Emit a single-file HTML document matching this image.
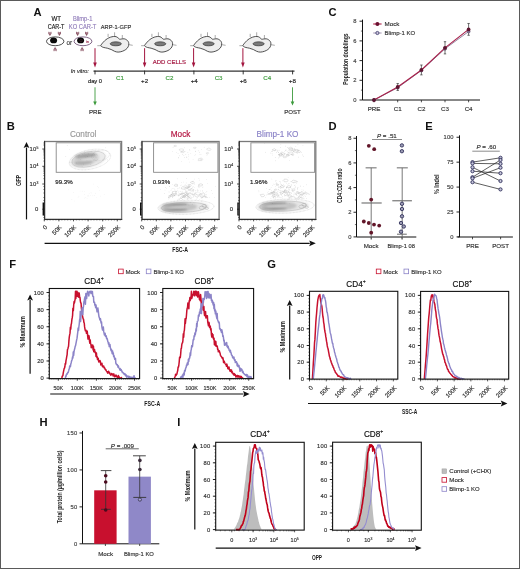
<!DOCTYPE html>
<html><head><meta charset="utf-8"><style>
html,body{margin:0;padding:0;background:#fff;}
body{width:520px;height:569px;overflow:hidden;}
svg{display:block;font-family:"Liberation Sans", sans-serif;will-change:transform;}
</style></head><body>
<svg width="520" height="569" viewBox="0 0 520 569">
<defs><filter id="b1" x="-50%" y="-50%" width="200%" height="200%"><feGaussianBlur stdDeviation="1"/></filter></defs>
<rect x="0" y="0" width="520" height="569" fill="#fff"/>
<text x="33.60" y="15.90" font-size="11.2" fill="#111"  text-anchor="start" font-weight="bold" font-style="normal" >A</text>
<text x="6.80" y="130.40" font-size="11.2" fill="#111"  text-anchor="start" font-weight="bold" font-style="normal" >B</text>
<text x="328.60" y="15.90" font-size="11.2" fill="#111"  text-anchor="start" font-weight="bold" font-style="normal" >C</text>
<text x="328.60" y="130.40" font-size="11.2" fill="#111"  text-anchor="start" font-weight="bold" font-style="normal" >D</text>
<text x="425.20" y="130.40" font-size="11.2" fill="#111"  text-anchor="start" font-weight="bold" font-style="normal" >E</text>
<text x="9.30" y="268.00" font-size="11.2" fill="#111"  text-anchor="start" font-weight="bold" font-style="normal" >F</text>
<text x="267.30" y="268.00" font-size="11.2" fill="#111"  text-anchor="start" font-weight="bold" font-style="normal" >G</text>
<text x="39.60" y="425.90" font-size="11.2" fill="#111"  text-anchor="start" font-weight="bold" font-style="normal" >H</text>
<text x="177.30" y="425.70" font-size="11.2" fill="#111"  text-anchor="start" font-weight="bold" font-style="normal" >I</text>
<text x="56.30" y="21.40" font-size="6.6" fill="#222" stroke="#222" stroke-width="0.16" text-anchor="middle" font-weight="normal" font-style="normal" textLength="9.6" lengthAdjust="spacingAndGlyphs" stroke-width="0.05" stroke="#222">WT</text>
<text x="56.10" y="28.90" font-size="6.6" fill="#222" stroke="#222" stroke-width="0.16" text-anchor="middle" font-weight="normal" font-style="normal" textLength="16.7" lengthAdjust="spacingAndGlyphs" stroke-width="0.05" stroke="#222">CAR-T</text>
<text x="82.70" y="21.40" font-size="6.6" fill="#9480bc" stroke="#9480bc" stroke-width="0.16" text-anchor="middle" font-weight="normal" font-style="normal" textLength="19.4" lengthAdjust="spacingAndGlyphs" stroke-width="0.05" stroke="#9480bc">Blimp-1</text>
<text x="82.60" y="28.90" font-size="6.6" fill="#9480bc" stroke="#9480bc" stroke-width="0.16" text-anchor="middle" font-weight="normal" font-style="normal" textLength="27.6" lengthAdjust="spacingAndGlyphs" stroke-width="0.05" stroke="#9480bc">KO CAR-T</text>
<ellipse cx="55.2" cy="41.3" rx="8.7" ry="4.4" fill="#fff" stroke="#333" stroke-width="0.85"/>
<ellipse cx="53.6" cy="40.4" rx="3.5" ry="2.9" fill="#0a0a0a"/>
<path d="M48.80,31.80 L48.80,34.10 Q49.90,34.80 51.00,34.10 L51.00,31.80 M49.90,32.20 L49.90,35.80" stroke="#7a3a4c" stroke-width="0.75" fill="none"/>
<path d="M58.30,31.80 L58.30,34.10 Q59.40,34.80 60.50,34.10 L60.50,31.80 M59.40,32.20 L59.40,35.80" stroke="#7a3a4c" stroke-width="0.75" fill="none"/>
<path d="M54.00,51.20 L54.00,48.90 Q55.10,48.20 56.20,48.90 L56.20,51.20 M55.10,50.80 L55.10,47.20" stroke="#7a3a4c" stroke-width="0.75" fill="none"/>
<text x="69.30" y="44.50" font-size="6.4" fill="#444" stroke="#444" stroke-width="0.16" text-anchor="middle" font-weight="normal" font-style="normal" stroke-width="0.05" stroke="#444">or</text>
<ellipse cx="83.0" cy="41.3" rx="8.9" ry="4.4" fill="#fff" stroke="#6a4a70" stroke-width="0.85"/>
<ellipse cx="80.6" cy="40.4" rx="3.5" ry="2.9" fill="#0a0a0a"/>
<circle cx="81.0" cy="40.6" r="1.2" fill="none" stroke="#6a3040" stroke-width="0.4"/>
<text stroke="#a03050" stroke-width="0.16" x="87.6" y="43.2" font-size="3.6" fill="#a03050" text-anchor="middle">in</text>
<path d="M76.50,31.80 L76.50,34.10 Q77.60,34.80 78.70,34.10 L78.70,31.80 M77.60,32.20 L77.60,35.80" stroke="#7a3a4c" stroke-width="0.75" fill="none"/>
<path d="M85.50,31.80 L85.50,34.10 Q86.60,34.80 87.70,34.10 L87.70,31.80 M86.60,32.20 L86.60,35.80" stroke="#7a3a4c" stroke-width="0.75" fill="none"/>
<path d="M81.00,51.20 L81.00,48.90 Q82.10,48.20 83.20,48.90 L83.20,51.20 M82.10,50.80 L82.10,47.20" stroke="#7a3a4c" stroke-width="0.75" fill="none"/>
<text x="116.00" y="29.20" font-size="6.1" fill="#333" stroke="#333" stroke-width="0.16" text-anchor="middle" font-weight="normal" font-style="normal" textLength="30.4" lengthAdjust="spacingAndGlyphs">ARP-1-GFP</text>
<path d="M101.15,44.85 C101.47,44.36 102.12,43.52 102.70,42.85 C103.28,42.18 103.83,41.49 104.60,40.80 C105.37,40.11 106.33,39.30 107.30,38.70 C108.27,38.10 109.37,37.57 110.40,37.20 C111.43,36.83 112.53,36.58 113.50,36.50 C114.47,36.42 115.43,36.47 116.20,36.70 C116.97,36.93 117.53,37.48 118.10,37.90 C118.67,38.32 119.03,39.02 119.60,39.20 C120.17,39.38 120.73,39.07 121.50,39.00 C122.27,38.93 123.37,38.67 124.20,38.80 C125.03,38.93 125.83,39.35 126.50,39.80 C127.17,40.25 127.82,40.83 128.20,41.50 C128.58,42.17 128.82,42.90 128.80,43.80 C128.78,44.70 128.60,45.95 128.10,46.90 C127.60,47.85 126.77,48.77 125.80,49.50 C124.83,50.23 123.58,50.87 122.30,51.30 C121.02,51.73 119.38,52.10 118.10,52.10 C116.82,52.10 115.75,51.73 114.60,51.30 C113.45,50.87 112.42,50.02 111.20,49.50 C109.98,48.98 108.53,48.53 107.30,48.20 C106.07,47.87 104.72,47.75 103.80,47.50 C102.88,47.25 102.30,46.98 101.80,46.70 C101.30,46.42 100.91,46.11 100.80,45.80 C100.69,45.49 100.83,45.34 101.15,44.85 Z" fill="#eeeeee" stroke="#333" stroke-width="0.85" stroke-linejoin="round"/>
<ellipse cx="115.80" cy="43.80" rx="5.6" ry="2.0" fill="#7a7a7a" stroke="#222" stroke-width="0.6"/>
<line x1="108.10" y1="33.80" x2="108.10" y2="37.00" stroke="#555" stroke-width="0.5" />
<line x1="114.60" y1="32.30" x2="114.60" y2="36.40" stroke="#555" stroke-width="0.5" />
<line x1="122.30" y1="35.00" x2="122.30" y2="38.80" stroke="#555" stroke-width="0.5" />
<line x1="97.30" y1="45.70" x2="100.90" y2="45.70" stroke="#555" stroke-width="0.5" />
<line x1="128.90" y1="44.70" x2="132.70" y2="45.30" stroke="#555" stroke-width="0.5" />
<path d="M144.95,44.85 C145.27,44.36 145.93,43.52 146.50,42.85 C147.07,42.18 147.63,41.49 148.40,40.80 C149.17,40.11 150.13,39.30 151.10,38.70 C152.07,38.10 153.17,37.57 154.20,37.20 C155.23,36.83 156.33,36.58 157.30,36.50 C158.27,36.42 159.23,36.47 160.00,36.70 C160.77,36.93 161.33,37.48 161.90,37.90 C162.47,38.32 162.83,39.02 163.40,39.20 C163.97,39.38 164.53,39.07 165.30,39.00 C166.07,38.93 167.17,38.67 168.00,38.80 C168.83,38.93 169.63,39.35 170.30,39.80 C170.97,40.25 171.62,40.83 172.00,41.50 C172.38,42.17 172.62,42.90 172.60,43.80 C172.58,44.70 172.40,45.95 171.90,46.90 C171.40,47.85 170.57,48.77 169.60,49.50 C168.63,50.23 167.38,50.87 166.10,51.30 C164.82,51.73 163.18,52.10 161.90,52.10 C160.62,52.10 159.55,51.73 158.40,51.30 C157.25,50.87 156.22,50.02 155.00,49.50 C153.78,48.98 152.33,48.53 151.10,48.20 C149.87,47.87 148.52,47.75 147.60,47.50 C146.68,47.25 146.10,46.98 145.60,46.70 C145.10,46.42 144.71,46.11 144.60,45.80 C144.49,45.49 144.63,45.34 144.95,44.85 Z" fill="#eeeeee" stroke="#333" stroke-width="0.85" stroke-linejoin="round"/>
<ellipse cx="160.20" cy="43.80" rx="5.6" ry="2.0" fill="#7a7a7a" stroke="#222" stroke-width="0.6"/>
<line x1="151.90" y1="33.80" x2="151.90" y2="37.00" stroke="#555" stroke-width="0.5" />
<line x1="158.40" y1="32.30" x2="158.40" y2="36.40" stroke="#555" stroke-width="0.5" />
<line x1="166.10" y1="35.00" x2="166.10" y2="38.80" stroke="#555" stroke-width="0.5" />
<line x1="141.10" y1="45.70" x2="144.70" y2="45.70" stroke="#555" stroke-width="0.5" />
<line x1="172.70" y1="44.70" x2="176.50" y2="45.30" stroke="#555" stroke-width="0.5" />
<path d="M194.05,44.85 C194.37,44.36 195.02,43.52 195.60,42.85 C196.18,42.18 196.73,41.49 197.50,40.80 C198.27,40.11 199.23,39.30 200.20,38.70 C201.17,38.10 202.27,37.57 203.30,37.20 C204.33,36.83 205.43,36.58 206.40,36.50 C207.37,36.42 208.33,36.47 209.10,36.70 C209.87,36.93 210.43,37.48 211.00,37.90 C211.57,38.32 211.93,39.02 212.50,39.20 C213.07,39.38 213.63,39.07 214.40,39.00 C215.17,38.93 216.27,38.67 217.10,38.80 C217.93,38.93 218.73,39.35 219.40,39.80 C220.07,40.25 220.72,40.83 221.10,41.50 C221.48,42.17 221.72,42.90 221.70,43.80 C221.68,44.70 221.50,45.95 221.00,46.90 C220.50,47.85 219.67,48.77 218.70,49.50 C217.73,50.23 216.48,50.87 215.20,51.30 C213.92,51.73 212.28,52.10 211.00,52.10 C209.72,52.10 208.65,51.73 207.50,51.30 C206.35,50.87 205.32,50.02 204.10,49.50 C202.88,48.98 201.43,48.53 200.20,48.20 C198.97,47.87 197.62,47.75 196.70,47.50 C195.78,47.25 195.20,46.98 194.70,46.70 C194.20,46.42 193.81,46.11 193.70,45.80 C193.59,45.49 193.73,45.34 194.05,44.85 Z" fill="#eeeeee" stroke="#333" stroke-width="0.85" stroke-linejoin="round"/>
<ellipse cx="208.60" cy="43.80" rx="5.6" ry="2.0" fill="#7a7a7a" stroke="#222" stroke-width="0.6"/>
<line x1="201.00" y1="33.80" x2="201.00" y2="37.00" stroke="#555" stroke-width="0.5" />
<line x1="207.50" y1="32.30" x2="207.50" y2="36.40" stroke="#555" stroke-width="0.5" />
<line x1="215.20" y1="35.00" x2="215.20" y2="38.80" stroke="#555" stroke-width="0.5" />
<line x1="190.20" y1="45.70" x2="193.80" y2="45.70" stroke="#555" stroke-width="0.5" />
<line x1="221.80" y1="44.70" x2="225.60" y2="45.30" stroke="#555" stroke-width="0.5" />
<path d="M243.25,44.85 C243.57,44.36 244.23,43.52 244.80,42.85 C245.38,42.18 245.93,41.49 246.70,40.80 C247.47,40.11 248.43,39.30 249.40,38.70 C250.37,38.10 251.47,37.57 252.50,37.20 C253.53,36.83 254.63,36.58 255.60,36.50 C256.57,36.42 257.53,36.47 258.30,36.70 C259.07,36.93 259.63,37.48 260.20,37.90 C260.77,38.32 261.13,39.02 261.70,39.20 C262.27,39.38 262.83,39.07 263.60,39.00 C264.37,38.93 265.47,38.67 266.30,38.80 C267.13,38.93 267.93,39.35 268.60,39.80 C269.27,40.25 269.92,40.83 270.30,41.50 C270.68,42.17 270.92,42.90 270.90,43.80 C270.88,44.70 270.70,45.95 270.20,46.90 C269.70,47.85 268.87,48.77 267.90,49.50 C266.93,50.23 265.68,50.87 264.40,51.30 C263.12,51.73 261.48,52.10 260.20,52.10 C258.92,52.10 257.85,51.73 256.70,51.30 C255.55,50.87 254.52,50.02 253.30,49.50 C252.08,48.98 250.63,48.53 249.40,48.20 C248.17,47.87 246.82,47.75 245.90,47.50 C244.98,47.25 244.40,46.98 243.90,46.70 C243.40,46.42 243.01,46.11 242.90,45.80 C242.79,45.49 242.93,45.34 243.25,44.85 Z" fill="#eeeeee" stroke="#333" stroke-width="0.85" stroke-linejoin="round"/>
<ellipse cx="258.60" cy="43.80" rx="5.6" ry="2.0" fill="#7a7a7a" stroke="#222" stroke-width="0.6"/>
<line x1="250.20" y1="33.80" x2="250.20" y2="37.00" stroke="#555" stroke-width="0.5" />
<line x1="256.70" y1="32.30" x2="256.70" y2="36.40" stroke="#555" stroke-width="0.5" />
<line x1="264.40" y1="35.00" x2="264.40" y2="38.80" stroke="#555" stroke-width="0.5" />
<line x1="239.40" y1="45.70" x2="243.00" y2="45.70" stroke="#555" stroke-width="0.5" />
<line x1="271.00" y1="44.70" x2="274.80" y2="45.30" stroke="#555" stroke-width="0.5" />
<line x1="95.00" y1="48.20" x2="95.00" y2="63.10" stroke="#a3153f" stroke-width="1.0" />
<path d="M93.20,62.60 L96.80,62.60 L95.00,67.60 Z" fill="#a3153f"/>
<line x1="144.60" y1="48.20" x2="144.60" y2="63.10" stroke="#a3153f" stroke-width="1.0" />
<path d="M142.80,62.60 L146.40,62.60 L144.60,67.60 Z" fill="#a3153f"/>
<line x1="193.60" y1="48.20" x2="193.60" y2="63.10" stroke="#a3153f" stroke-width="1.0" />
<path d="M191.80,62.60 L195.40,62.60 L193.60,67.60 Z" fill="#a3153f"/>
<line x1="242.90" y1="48.20" x2="242.90" y2="63.10" stroke="#a3153f" stroke-width="1.0" />
<path d="M241.10,62.60 L244.70,62.60 L242.90,67.60 Z" fill="#a3153f"/>
<text x="169.40" y="64.20" font-size="6.1" fill="#a3153f" stroke="#a3153f" stroke-width="0.16" text-anchor="middle" font-weight="normal" font-style="normal" textLength="33.3" lengthAdjust="spacingAndGlyphs">ADD CELLS</text>
<line x1="93.50" y1="71.10" x2="294.50" y2="71.10" stroke="#333" stroke-width="1.25" />
<line x1="95.00" y1="70.60" x2="95.00" y2="74.40" stroke="#222" stroke-width="0.9" />
<line x1="144.60" y1="70.60" x2="144.60" y2="74.40" stroke="#222" stroke-width="0.9" />
<line x1="193.90" y1="70.60" x2="193.90" y2="74.40" stroke="#222" stroke-width="0.9" />
<line x1="243.20" y1="70.60" x2="243.20" y2="74.40" stroke="#222" stroke-width="0.9" />
<line x1="292.60" y1="70.60" x2="292.60" y2="74.40" stroke="#222" stroke-width="0.9" />
<text x="79.80" y="72.60" font-size="5.5" fill="#333" stroke="#333" stroke-width="0.16" text-anchor="middle" font-weight="normal" font-style="italic" >In vitro:</text>
<text x="95.00" y="82.80" font-size="6.2" fill="#222" stroke="#222" stroke-width="0.16" text-anchor="middle" font-weight="normal" font-style="normal" textLength="14.1" lengthAdjust="spacingAndGlyphs">day 0</text>
<text x="144.60" y="82.80" font-size="6.2" fill="#222" stroke="#222" stroke-width="0.16" text-anchor="middle" font-weight="normal" font-style="normal" >+2</text>
<text x="194.20" y="82.80" font-size="6.2" fill="#222" stroke="#222" stroke-width="0.16" text-anchor="middle" font-weight="normal" font-style="normal" >+4</text>
<text x="243.20" y="82.80" font-size="6.2" fill="#222" stroke="#222" stroke-width="0.16" text-anchor="middle" font-weight="normal" font-style="normal" >+6</text>
<text x="292.30" y="82.80" font-size="6.2" fill="#222" stroke="#222" stroke-width="0.16" text-anchor="middle" font-weight="normal" font-style="normal" >+8</text>
<text x="120.00" y="79.70" font-size="6.2" fill="#3c9a3c" stroke="#3c9a3c" stroke-width="0.16" text-anchor="middle" font-weight="normal" font-style="normal" >C1</text>
<text x="169.40" y="79.70" font-size="6.2" fill="#3c9a3c" stroke="#3c9a3c" stroke-width="0.16" text-anchor="middle" font-weight="normal" font-style="normal" >C2</text>
<text x="218.60" y="79.70" font-size="6.2" fill="#3c9a3c" stroke="#3c9a3c" stroke-width="0.16" text-anchor="middle" font-weight="normal" font-style="normal" >C3</text>
<text x="267.20" y="79.70" font-size="6.2" fill="#3c9a3c" stroke="#3c9a3c" stroke-width="0.16" text-anchor="middle" font-weight="normal" font-style="normal" >C4</text>
<line x1="95.00" y1="87.30" x2="95.00" y2="102.00" stroke="#3c9a3c" stroke-width="0.9" />
<path d="M93.20,101.50 L96.80,101.50 L95.00,105.50 Z" fill="#3c9a3c"/>
<line x1="292.50" y1="87.30" x2="292.50" y2="102.00" stroke="#3c9a3c" stroke-width="0.9" />
<path d="M290.70,101.50 L294.30,101.50 L292.50,105.50 Z" fill="#3c9a3c"/>
<text x="95.30" y="114.40" font-size="6.1" fill="#333" stroke="#333" stroke-width="0.16" text-anchor="middle" font-weight="normal" font-style="normal" >PRE</text>
<text x="292.50" y="114.40" font-size="6.1" fill="#333" stroke="#333" stroke-width="0.16" text-anchor="middle" font-weight="normal" font-style="normal" >POST</text>
<rect x="44.60" y="141.50" width="77.00" height="77.90" fill="none" stroke="#7a7a7a" stroke-width="1.3"/>
<circle cx="86.93" cy="160.56" r="0.3" fill="#c8c8c8"/>
<circle cx="87.29" cy="156.42" r="0.3" fill="#c8c8c8"/>
<circle cx="78.84" cy="156.93" r="0.3" fill="#c8c8c8"/>
<circle cx="103.34" cy="160.12" r="0.3" fill="#c8c8c8"/>
<circle cx="102.44" cy="159.24" r="0.3" fill="#c8c8c8"/>
<circle cx="94.74" cy="158.93" r="0.3" fill="#c8c8c8"/>
<circle cx="70.01" cy="162.28" r="0.3" fill="#c8c8c8"/>
<circle cx="96.08" cy="160.49" r="0.3" fill="#c8c8c8"/>
<circle cx="69.70" cy="149.28" r="0.3" fill="#c8c8c8"/>
<circle cx="79.32" cy="155.66" r="0.3" fill="#c8c8c8"/>
<circle cx="93.67" cy="157.77" r="0.3" fill="#c8c8c8"/>
<circle cx="96.25" cy="154.79" r="0.3" fill="#c8c8c8"/>
<circle cx="93.70" cy="159.97" r="0.3" fill="#c8c8c8"/>
<circle cx="82.07" cy="166.59" r="0.3" fill="#c8c8c8"/>
<circle cx="96.68" cy="163.99" r="0.3" fill="#c8c8c8"/>
<circle cx="82.56" cy="154.30" r="0.3" fill="#c8c8c8"/>
<circle cx="85.87" cy="157.47" r="0.3" fill="#c8c8c8"/>
<circle cx="97.58" cy="159.24" r="0.3" fill="#c8c8c8"/>
<circle cx="84.63" cy="153.22" r="0.3" fill="#c8c8c8"/>
<circle cx="83.75" cy="164.10" r="0.3" fill="#c8c8c8"/>
<circle cx="80.30" cy="159.22" r="0.3" fill="#c8c8c8"/>
<circle cx="95.12" cy="150.55" r="0.3" fill="#c8c8c8"/>
<circle cx="90.58" cy="164.53" r="0.3" fill="#c8c8c8"/>
<circle cx="65.83" cy="156.39" r="0.3" fill="#c8c8c8"/>
<circle cx="88.73" cy="153.91" r="0.3" fill="#c8c8c8"/>
<circle cx="95.97" cy="157.69" r="0.3" fill="#c8c8c8"/>
<circle cx="72.42" cy="162.14" r="0.3" fill="#c8c8c8"/>
<circle cx="98.03" cy="162.73" r="0.3" fill="#c8c8c8"/>
<circle cx="107.29" cy="159.81" r="0.3" fill="#c8c8c8"/>
<circle cx="91.43" cy="151.50" r="0.3" fill="#c8c8c8"/>
<circle cx="97.39" cy="154.94" r="0.3" fill="#c8c8c8"/>
<circle cx="84.57" cy="151.68" r="0.3" fill="#c8c8c8"/>
<circle cx="78.39" cy="155.34" r="0.3" fill="#c8c8c8"/>
<circle cx="105.47" cy="147.84" r="0.3" fill="#c8c8c8"/>
<circle cx="72.51" cy="159.20" r="0.3" fill="#c8c8c8"/>
<circle cx="107.32" cy="160.89" r="0.3" fill="#c8c8c8"/>
<circle cx="67.20" cy="145.41" r="0.3" fill="#c8c8c8"/>
<circle cx="94.29" cy="154.32" r="0.3" fill="#c8c8c8"/>
<circle cx="76.56" cy="162.89" r="0.3" fill="#c8c8c8"/>
<circle cx="103.22" cy="158.79" r="0.3" fill="#c8c8c8"/>
<circle cx="88.21" cy="195.17" r="0.3" fill="#e0e0e0"/>
<circle cx="100.35" cy="196.10" r="0.3" fill="#e0e0e0"/>
<circle cx="90.67" cy="195.74" r="0.3" fill="#e0e0e0"/>
<circle cx="71.89" cy="199.41" r="0.3" fill="#e0e0e0"/>
<circle cx="94.60" cy="195.65" r="0.3" fill="#e0e0e0"/>
<circle cx="68.24" cy="189.83" r="0.3" fill="#e0e0e0"/>
<circle cx="93.58" cy="183.94" r="0.3" fill="#e0e0e0"/>
<circle cx="84.34" cy="198.10" r="0.3" fill="#e0e0e0"/>
<circle cx="74.20" cy="201.05" r="0.3" fill="#e0e0e0"/>
<circle cx="90.97" cy="192.25" r="0.3" fill="#e0e0e0"/>
<circle cx="88.92" cy="196.25" r="0.3" fill="#e0e0e0"/>
<circle cx="87.08" cy="198.73" r="0.3" fill="#e0e0e0"/>
<circle cx="80.05" cy="190.93" r="0.3" fill="#e0e0e0"/>
<circle cx="95.38" cy="193.13" r="0.3" fill="#e0e0e0"/>
<circle cx="78.08" cy="197.73" r="0.3" fill="#e0e0e0"/>
<circle cx="99.19" cy="190.78" r="0.3" fill="#e0e0e0"/>
<circle cx="73.58" cy="192.33" r="0.3" fill="#e0e0e0"/>
<circle cx="84.66" cy="191.51" r="0.3" fill="#e0e0e0"/>
<circle cx="98.64" cy="187.87" r="0.3" fill="#e0e0e0"/>
<circle cx="97.35" cy="186.66" r="0.3" fill="#e0e0e0"/>
<circle cx="78.92" cy="196.16" r="0.3" fill="#e0e0e0"/>
<circle cx="96.16" cy="197.30" r="0.3" fill="#e0e0e0"/>
<circle cx="89.11" cy="193.71" r="0.3" fill="#e0e0e0"/>
<circle cx="87.37" cy="195.88" r="0.3" fill="#e0e0e0"/>
<circle cx="84.41" cy="194.39" r="0.3" fill="#e0e0e0"/>
<circle cx="91.15" cy="193.00" r="0.3" fill="#e0e0e0"/>
<circle cx="92.88" cy="195.83" r="0.3" fill="#e0e0e0"/>
<circle cx="104.10" cy="194.62" r="0.3" fill="#e0e0e0"/>
<circle cx="82.15" cy="191.14" r="0.3" fill="#e0e0e0"/>
<circle cx="85.88" cy="197.62" r="0.3" fill="#e0e0e0"/>
<ellipse cx="90.00" cy="159.50" rx="21.00" ry="9.60" transform="rotate(-12 90.00 159.50)" fill="none" stroke="#bbb" stroke-width="0.4" stroke-opacity="1" stroke-dasharray="0.8 0.6"/>
<ellipse cx="100.50" cy="155.50" rx="9.00" ry="5.20" transform="rotate(-12 100.50 155.50)" fill="none" stroke="#bbb" stroke-width="0.35" stroke-opacity="1" stroke-dasharray="0.7 0.6"/>
<ellipse cx="88.00" cy="159.60" rx="18.50" ry="8.30" transform="rotate(-12 88.00 159.60)" fill="#000" fill-opacity="0.08" filter="url(#b1)"/>
<ellipse cx="85.50" cy="159.50" rx="13.50" ry="6.30" transform="rotate(-12 85.50 159.50)" fill="#000" fill-opacity="0.11" filter="url(#b1)"/>
<ellipse cx="85.50" cy="155.60" rx="11.00" ry="2.60" transform="rotate(-6 85.50 155.60)" fill="#000" fill-opacity="0.22" filter="url(#b1)"/>
<ellipse cx="83.50" cy="162.60" rx="9.50" ry="2.20" transform="rotate(-6 83.50 162.60)" fill="#000" fill-opacity="0.16" filter="url(#b1)"/>
<ellipse cx="87.50" cy="159.30" rx="7.50" ry="0.90" transform="rotate(-6 87.50 159.30)" fill="#fff" fill-opacity="0.6" filter="url(#b1)"/>
<ellipse cx="88.50" cy="159.20" rx="17.00" ry="7.40" transform="rotate(-12 88.50 159.20)" fill="none" stroke="#aaa" stroke-width="0.35" stroke-opacity="1" />
<rect x="56.20" y="142.80" width="64.20" height="29.50" fill="none" stroke="#888" stroke-width="0.9"/>
<line x1="44.60" y1="140.90" x2="44.60" y2="219.40" stroke="#222" stroke-width="0.9" />
<line x1="44.60" y1="219.40" x2="122.20" y2="219.40" stroke="#222" stroke-width="0.9" />
<text x="83.10" y="137.40" font-size="8.2" fill="#9a9a9a" stroke="#9a9a9a" stroke-width="0.16" text-anchor="middle" font-weight="normal" font-style="normal" >Control</text>
<text x="29.60" y="151.00" font-size="5.9" fill="#333" stroke="#333" stroke-width="0.16" text-anchor="start" font-weight="normal" font-style="normal" letter-spacing="0.2">10<tspan font-size="3.4" dy="-2.3">5</tspan></text>
<text x="29.60" y="168.30" font-size="5.9" fill="#333" stroke="#333" stroke-width="0.16" text-anchor="start" font-weight="normal" font-style="normal" letter-spacing="0.2">10<tspan font-size="3.4" dy="-2.3">4</tspan></text>
<text x="29.60" y="186.00" font-size="5.9" fill="#333" stroke="#333" stroke-width="0.16" text-anchor="start" font-weight="normal" font-style="normal" letter-spacing="0.2">10<tspan font-size="3.4" dy="-2.3">3</tspan></text>
<text x="36.70" y="211.20" font-size="5.9" fill="#333" stroke="#333" stroke-width="0.16" text-anchor="middle" font-weight="normal" font-style="normal" >0</text>
<line x1="42.30" y1="149.00" x2="44.60" y2="149.00" stroke="#222" stroke-width="0.8" />
<line x1="42.30" y1="166.30" x2="44.60" y2="166.30" stroke="#222" stroke-width="0.8" />
<line x1="42.30" y1="184.00" x2="44.60" y2="184.00" stroke="#222" stroke-width="0.8" />
<line x1="42.30" y1="209.20" x2="44.60" y2="209.20" stroke="#222" stroke-width="0.8" />
<line x1="43.30" y1="178.67" x2="44.60" y2="178.67" stroke="#222" stroke-width="0.5" />
<line x1="43.30" y1="175.55" x2="44.60" y2="175.55" stroke="#222" stroke-width="0.5" />
<line x1="43.30" y1="173.34" x2="44.60" y2="173.34" stroke="#222" stroke-width="0.5" />
<line x1="43.30" y1="171.63" x2="44.60" y2="171.63" stroke="#222" stroke-width="0.5" />
<line x1="43.30" y1="170.23" x2="44.60" y2="170.23" stroke="#222" stroke-width="0.5" />
<line x1="43.30" y1="169.04" x2="44.60" y2="169.04" stroke="#222" stroke-width="0.5" />
<line x1="43.30" y1="168.02" x2="44.60" y2="168.02" stroke="#222" stroke-width="0.5" />
<line x1="43.30" y1="167.11" x2="44.60" y2="167.11" stroke="#222" stroke-width="0.5" />
<line x1="43.30" y1="161.09" x2="44.60" y2="161.09" stroke="#222" stroke-width="0.5" />
<line x1="43.30" y1="158.05" x2="44.60" y2="158.05" stroke="#222" stroke-width="0.5" />
<line x1="43.30" y1="155.88" x2="44.60" y2="155.88" stroke="#222" stroke-width="0.5" />
<line x1="43.30" y1="154.21" x2="44.60" y2="154.21" stroke="#222" stroke-width="0.5" />
<line x1="43.30" y1="152.84" x2="44.60" y2="152.84" stroke="#222" stroke-width="0.5" />
<line x1="43.30" y1="151.68" x2="44.60" y2="151.68" stroke="#222" stroke-width="0.5" />
<line x1="43.30" y1="150.68" x2="44.60" y2="150.68" stroke="#222" stroke-width="0.5" />
<line x1="43.30" y1="149.79" x2="44.60" y2="149.79" stroke="#222" stroke-width="0.5" />
<line x1="43.30" y1="143.00" x2="44.60" y2="143.00" stroke="#222" stroke-width="0.5" />
<line x1="43.30" y1="145.00" x2="44.60" y2="145.00" stroke="#222" stroke-width="0.5" />
<line x1="43.30" y1="186.50" x2="44.60" y2="186.50" stroke="#222" stroke-width="0.5" />
<line x1="43.30" y1="189.50" x2="44.60" y2="189.50" stroke="#222" stroke-width="0.5" />
<line x1="43.30" y1="193.00" x2="44.60" y2="193.00" stroke="#222" stroke-width="0.5" />
<line x1="43.30" y1="197.50" x2="44.60" y2="197.50" stroke="#222" stroke-width="0.5" />
<line x1="43.30" y1="200.50" x2="44.60" y2="200.50" stroke="#222" stroke-width="0.5" />
<line x1="43.30" y1="203.50" x2="44.60" y2="203.50" stroke="#222" stroke-width="0.5" />
<line x1="43.30" y1="215.00" x2="44.60" y2="215.00" stroke="#222" stroke-width="0.5" />
<line x1="43.30" y1="217.50" x2="44.60" y2="217.50" stroke="#222" stroke-width="0.5" />
<line x1="43.30" y1="202.50" x2="43.30" y2="215.50" stroke="#111" stroke-width="1.4" />
<line x1="44.30" y1="219.40" x2="44.30" y2="221.40" stroke="#222" stroke-width="0.7" />
<line x1="58.90" y1="219.40" x2="58.90" y2="221.40" stroke="#222" stroke-width="0.7" />
<line x1="73.50" y1="219.40" x2="73.50" y2="221.40" stroke="#222" stroke-width="0.7" />
<line x1="88.10" y1="219.40" x2="88.10" y2="221.40" stroke="#222" stroke-width="0.7" />
<line x1="102.70" y1="219.40" x2="102.70" y2="221.40" stroke="#222" stroke-width="0.7" />
<line x1="117.30" y1="219.40" x2="117.30" y2="221.40" stroke="#222" stroke-width="0.7" />
<line x1="44.30" y1="219.40" x2="44.30" y2="220.50" stroke="#222" stroke-width="0.45" />
<line x1="47.22" y1="219.40" x2="47.22" y2="220.50" stroke="#222" stroke-width="0.45" />
<line x1="50.14" y1="219.40" x2="50.14" y2="220.50" stroke="#222" stroke-width="0.45" />
<line x1="53.06" y1="219.40" x2="53.06" y2="220.50" stroke="#222" stroke-width="0.45" />
<line x1="55.98" y1="219.40" x2="55.98" y2="220.50" stroke="#222" stroke-width="0.45" />
<line x1="58.90" y1="219.40" x2="58.90" y2="220.50" stroke="#222" stroke-width="0.45" />
<line x1="61.82" y1="219.40" x2="61.82" y2="220.50" stroke="#222" stroke-width="0.45" />
<line x1="64.74" y1="219.40" x2="64.74" y2="220.50" stroke="#222" stroke-width="0.45" />
<line x1="67.66" y1="219.40" x2="67.66" y2="220.50" stroke="#222" stroke-width="0.45" />
<line x1="70.58" y1="219.40" x2="70.58" y2="220.50" stroke="#222" stroke-width="0.45" />
<line x1="73.50" y1="219.40" x2="73.50" y2="220.50" stroke="#222" stroke-width="0.45" />
<line x1="76.42" y1="219.40" x2="76.42" y2="220.50" stroke="#222" stroke-width="0.45" />
<line x1="79.34" y1="219.40" x2="79.34" y2="220.50" stroke="#222" stroke-width="0.45" />
<line x1="82.26" y1="219.40" x2="82.26" y2="220.50" stroke="#222" stroke-width="0.45" />
<line x1="85.18" y1="219.40" x2="85.18" y2="220.50" stroke="#222" stroke-width="0.45" />
<line x1="88.10" y1="219.40" x2="88.10" y2="220.50" stroke="#222" stroke-width="0.45" />
<line x1="91.02" y1="219.40" x2="91.02" y2="220.50" stroke="#222" stroke-width="0.45" />
<line x1="93.94" y1="219.40" x2="93.94" y2="220.50" stroke="#222" stroke-width="0.45" />
<line x1="96.86" y1="219.40" x2="96.86" y2="220.50" stroke="#222" stroke-width="0.45" />
<line x1="99.78" y1="219.40" x2="99.78" y2="220.50" stroke="#222" stroke-width="0.45" />
<line x1="102.70" y1="219.40" x2="102.70" y2="220.50" stroke="#222" stroke-width="0.45" />
<line x1="105.62" y1="219.40" x2="105.62" y2="220.50" stroke="#222" stroke-width="0.45" />
<line x1="108.54" y1="219.40" x2="108.54" y2="220.50" stroke="#222" stroke-width="0.45" />
<line x1="111.46" y1="219.40" x2="111.46" y2="220.50" stroke="#222" stroke-width="0.45" />
<line x1="114.38" y1="219.40" x2="114.38" y2="220.50" stroke="#222" stroke-width="0.45" />
<line x1="117.30" y1="219.40" x2="117.30" y2="220.50" stroke="#222" stroke-width="0.45" />
<line x1="120.22" y1="219.40" x2="120.22" y2="220.50" stroke="#222" stroke-width="0.45" />
<text stroke="#333" stroke-width="0.16" x="0" y="0" font-size="6.0" fill="#333" text-anchor="end" transform="translate(47.50,227.60) rotate(-45)">0</text>
<text stroke="#333" stroke-width="0.16" x="0" y="0" font-size="6.0" fill="#333" text-anchor="end" transform="translate(62.10,227.60) rotate(-45)">50K</text>
<text stroke="#333" stroke-width="0.16" x="0" y="0" font-size="6.0" fill="#333" text-anchor="end" transform="translate(76.70,227.60) rotate(-45)">100K</text>
<text stroke="#333" stroke-width="0.16" x="0" y="0" font-size="6.0" fill="#333" text-anchor="end" transform="translate(91.30,227.60) rotate(-45)">150K</text>
<text stroke="#333" stroke-width="0.16" x="0" y="0" font-size="6.0" fill="#333" text-anchor="end" transform="translate(105.90,227.60) rotate(-45)">200K</text>
<text stroke="#333" stroke-width="0.16" x="0" y="0" font-size="6.0" fill="#333" text-anchor="end" transform="translate(120.50,227.60) rotate(-45)">250K</text>
<text x="55.30" y="183.60" font-size="6.0" fill="#222" stroke="#222" stroke-width="0.16" text-anchor="start" font-weight="normal" font-style="normal" textLength="17.4" lengthAdjust="spacingAndGlyphs">99.3%</text>
<rect x="142.00" y="141.50" width="77.10" height="77.90" fill="none" stroke="#7a7a7a" stroke-width="1.3"/>
<circle cx="184.63" cy="193.93" r="0.3" fill="#c4c4c4"/>
<circle cx="206.37" cy="179.18" r="0.3" fill="#c4c4c4"/>
<circle cx="176.76" cy="193.22" r="0.3" fill="#c4c4c4"/>
<circle cx="191.98" cy="193.19" r="0.3" fill="#c4c4c4"/>
<circle cx="183.69" cy="195.28" r="0.3" fill="#c4c4c4"/>
<circle cx="190.82" cy="189.39" r="0.3" fill="#c4c4c4"/>
<circle cx="212.30" cy="193.78" r="0.3" fill="#c4c4c4"/>
<circle cx="182.46" cy="191.50" r="0.3" fill="#c4c4c4"/>
<circle cx="185.74" cy="191.69" r="0.3" fill="#c4c4c4"/>
<circle cx="160.72" cy="189.57" r="0.3" fill="#c4c4c4"/>
<circle cx="198.09" cy="186.16" r="0.3" fill="#c4c4c4"/>
<circle cx="187.33" cy="196.77" r="0.3" fill="#c4c4c4"/>
<circle cx="196.56" cy="199.46" r="0.3" fill="#c4c4c4"/>
<circle cx="170.99" cy="190.23" r="0.3" fill="#c4c4c4"/>
<circle cx="184.59" cy="195.12" r="0.3" fill="#c4c4c4"/>
<circle cx="198.92" cy="178.59" r="0.3" fill="#c4c4c4"/>
<circle cx="198.89" cy="184.76" r="0.3" fill="#c4c4c4"/>
<circle cx="194.83" cy="184.54" r="0.3" fill="#c4c4c4"/>
<circle cx="189.76" cy="197.97" r="0.3" fill="#c4c4c4"/>
<circle cx="186.51" cy="192.96" r="0.3" fill="#c4c4c4"/>
<circle cx="195.97" cy="192.71" r="0.3" fill="#c4c4c4"/>
<circle cx="187.12" cy="199.67" r="0.3" fill="#c4c4c4"/>
<circle cx="198.48" cy="190.53" r="0.3" fill="#c4c4c4"/>
<circle cx="215.45" cy="186.27" r="0.3" fill="#c4c4c4"/>
<circle cx="197.15" cy="190.67" r="0.3" fill="#c4c4c4"/>
<circle cx="189.32" cy="195.53" r="0.3" fill="#c4c4c4"/>
<circle cx="190.22" cy="195.19" r="0.3" fill="#c4c4c4"/>
<circle cx="172.73" cy="184.45" r="0.3" fill="#c4c4c4"/>
<circle cx="194.15" cy="187.18" r="0.3" fill="#c4c4c4"/>
<circle cx="177.73" cy="184.65" r="0.3" fill="#c4c4c4"/>
<circle cx="200.66" cy="195.73" r="0.3" fill="#c4c4c4"/>
<circle cx="202.73" cy="187.31" r="0.3" fill="#c4c4c4"/>
<circle cx="188.01" cy="186.30" r="0.3" fill="#c4c4c4"/>
<circle cx="195.66" cy="199.95" r="0.3" fill="#c4c4c4"/>
<circle cx="179.10" cy="199.80" r="0.3" fill="#c4c4c4"/>
<circle cx="197.88" cy="191.11" r="0.3" fill="#c4c4c4"/>
<circle cx="168.28" cy="199.03" r="0.3" fill="#c4c4c4"/>
<circle cx="187.04" cy="188.99" r="0.3" fill="#c4c4c4"/>
<circle cx="192.00" cy="194.05" r="0.3" fill="#c4c4c4"/>
<circle cx="202.98" cy="186.90" r="0.3" fill="#c4c4c4"/>
<circle cx="199.36" cy="199.44" r="0.3" fill="#c4c4c4"/>
<circle cx="202.52" cy="191.10" r="0.3" fill="#c4c4c4"/>
<circle cx="180.56" cy="197.09" r="0.3" fill="#c4c4c4"/>
<circle cx="189.15" cy="192.62" r="0.3" fill="#c4c4c4"/>
<circle cx="202.24" cy="190.68" r="0.3" fill="#c4c4c4"/>
<circle cx="165.03" cy="190.06" r="0.3" fill="#c4c4c4"/>
<circle cx="169.46" cy="196.09" r="0.3" fill="#c4c4c4"/>
<circle cx="191.17" cy="188.94" r="0.3" fill="#c4c4c4"/>
<circle cx="187.90" cy="196.16" r="0.3" fill="#c4c4c4"/>
<circle cx="188.79" cy="198.63" r="0.3" fill="#c4c4c4"/>
<circle cx="187.39" cy="197.20" r="0.3" fill="#c4c4c4"/>
<circle cx="202.91" cy="200.05" r="0.3" fill="#c4c4c4"/>
<circle cx="181.28" cy="196.40" r="0.3" fill="#c4c4c4"/>
<circle cx="169.24" cy="186.58" r="0.3" fill="#c4c4c4"/>
<circle cx="168.37" cy="197.34" r="0.3" fill="#c4c4c4"/>
<circle cx="175.68" cy="191.94" r="0.3" fill="#c4c4c4"/>
<circle cx="186.08" cy="191.86" r="0.3" fill="#c4c4c4"/>
<circle cx="182.08" cy="193.17" r="0.3" fill="#c4c4c4"/>
<circle cx="205.91" cy="192.22" r="0.3" fill="#c4c4c4"/>
<circle cx="193.31" cy="197.00" r="0.3" fill="#c4c4c4"/>
<circle cx="186.02" cy="185.70" r="0.3" fill="#c4c4c4"/>
<circle cx="182.45" cy="197.37" r="0.3" fill="#c4c4c4"/>
<circle cx="171.54" cy="189.01" r="0.3" fill="#c4c4c4"/>
<circle cx="198.07" cy="195.96" r="0.3" fill="#c4c4c4"/>
<circle cx="188.08" cy="196.03" r="0.3" fill="#c4c4c4"/>
<circle cx="189.66" cy="186.11" r="0.3" fill="#c4c4c4"/>
<circle cx="172.36" cy="188.81" r="0.3" fill="#c4c4c4"/>
<circle cx="197.23" cy="189.17" r="0.3" fill="#c4c4c4"/>
<circle cx="178.98" cy="188.15" r="0.3" fill="#c4c4c4"/>
<circle cx="172.68" cy="191.41" r="0.3" fill="#c4c4c4"/>
<circle cx="176.20" cy="193.82" r="0.3" fill="#c4c4c4"/>
<circle cx="164.40" cy="193.64" r="0.3" fill="#c4c4c4"/>
<circle cx="181.58" cy="182.29" r="0.3" fill="#c4c4c4"/>
<circle cx="195.25" cy="190.62" r="0.3" fill="#c4c4c4"/>
<circle cx="165.70" cy="187.62" r="0.3" fill="#c4c4c4"/>
<circle cx="190.91" cy="189.71" r="0.3" fill="#c4c4c4"/>
<circle cx="195.80" cy="195.74" r="0.3" fill="#c4c4c4"/>
<circle cx="194.66" cy="193.63" r="0.3" fill="#c4c4c4"/>
<circle cx="201.34" cy="195.30" r="0.3" fill="#c4c4c4"/>
<circle cx="192.51" cy="181.58" r="0.3" fill="#c4c4c4"/>
<circle cx="196.97" cy="198.55" r="0.3" fill="#c4c4c4"/>
<circle cx="185.03" cy="189.65" r="0.3" fill="#c4c4c4"/>
<circle cx="207.40" cy="183.21" r="0.3" fill="#c4c4c4"/>
<circle cx="192.69" cy="204.12" r="0.3" fill="#c4c4c4"/>
<circle cx="178.72" cy="195.45" r="0.3" fill="#c4c4c4"/>
<circle cx="206.86" cy="191.40" r="0.3" fill="#c4c4c4"/>
<circle cx="193.61" cy="196.51" r="0.3" fill="#c4c4c4"/>
<circle cx="178.94" cy="191.55" r="0.3" fill="#c4c4c4"/>
<circle cx="190.93" cy="196.13" r="0.3" fill="#c4c4c4"/>
<circle cx="187.65" cy="191.02" r="0.3" fill="#c4c4c4"/>
<circle cx="177.84" cy="190.21" r="0.3" fill="#c4c4c4"/>
<circle cx="196.92" cy="192.51" r="0.3" fill="#c4c4c4"/>
<circle cx="179.47" cy="187.79" r="0.3" fill="#c4c4c4"/>
<circle cx="214.67" cy="197.70" r="0.3" fill="#c4c4c4"/>
<circle cx="194.37" cy="179.04" r="0.3" fill="#c4c4c4"/>
<circle cx="194.21" cy="194.40" r="0.3" fill="#c4c4c4"/>
<circle cx="204.84" cy="194.14" r="0.3" fill="#c4c4c4"/>
<circle cx="187.33" cy="194.61" r="0.3" fill="#c4c4c4"/>
<circle cx="168.56" cy="197.17" r="0.3" fill="#c4c4c4"/>
<circle cx="191.25" cy="188.49" r="0.3" fill="#c4c4c4"/>
<circle cx="201.26" cy="201.05" r="0.3" fill="#c4c4c4"/>
<circle cx="173.98" cy="188.67" r="0.3" fill="#c4c4c4"/>
<circle cx="190.91" cy="192.92" r="0.3" fill="#c4c4c4"/>
<circle cx="184.02" cy="187.13" r="0.3" fill="#c4c4c4"/>
<circle cx="209.20" cy="197.19" r="0.3" fill="#c4c4c4"/>
<circle cx="176.06" cy="185.27" r="0.3" fill="#c4c4c4"/>
<circle cx="205.03" cy="196.95" r="0.3" fill="#c4c4c4"/>
<circle cx="206.21" cy="196.05" r="0.3" fill="#c4c4c4"/>
<circle cx="179.28" cy="193.30" r="0.3" fill="#c4c4c4"/>
<circle cx="166.40" cy="188.26" r="0.3" fill="#c4c4c4"/>
<circle cx="187.41" cy="194.61" r="0.3" fill="#c4c4c4"/>
<circle cx="180.72" cy="191.38" r="0.3" fill="#c4c4c4"/>
<circle cx="192.59" cy="193.88" r="0.3" fill="#c4c4c4"/>
<circle cx="194.38" cy="193.04" r="0.3" fill="#c4c4c4"/>
<circle cx="184.76" cy="195.95" r="0.3" fill="#c4c4c4"/>
<circle cx="188.49" cy="187.87" r="0.3" fill="#c4c4c4"/>
<circle cx="181.74" cy="192.00" r="0.3" fill="#c4c4c4"/>
<circle cx="186.90" cy="192.78" r="0.3" fill="#c4c4c4"/>
<circle cx="188.00" cy="192.88" r="0.3" fill="#c4c4c4"/>
<circle cx="186.66" cy="185.71" r="0.3" fill="#c4c4c4"/>
<circle cx="192.21" cy="197.27" r="0.3" fill="#c4c4c4"/>
<circle cx="192.35" cy="191.05" r="0.3" fill="#c4c4c4"/>
<circle cx="192.46" cy="187.17" r="0.3" fill="#c4c4c4"/>
<circle cx="169.04" cy="192.30" r="0.3" fill="#c4c4c4"/>
<circle cx="178.70" cy="195.70" r="0.3" fill="#c4c4c4"/>
<circle cx="177.16" cy="178.86" r="0.3" fill="#c4c4c4"/>
<circle cx="177.60" cy="199.89" r="0.3" fill="#c4c4c4"/>
<circle cx="184.18" cy="185.15" r="0.3" fill="#c4c4c4"/>
<circle cx="180.37" cy="194.60" r="0.3" fill="#c4c4c4"/>
<circle cx="192.97" cy="192.88" r="0.3" fill="#c4c4c4"/>
<circle cx="202.84" cy="195.53" r="0.3" fill="#c4c4c4"/>
<circle cx="187.79" cy="194.98" r="0.3" fill="#c4c4c4"/>
<circle cx="204.55" cy="196.86" r="0.3" fill="#c4c4c4"/>
<circle cx="198.24" cy="186.59" r="0.3" fill="#c4c4c4"/>
<circle cx="186.52" cy="195.65" r="0.3" fill="#c4c4c4"/>
<circle cx="185.04" cy="197.34" r="0.3" fill="#c4c4c4"/>
<circle cx="193.96" cy="196.54" r="0.3" fill="#c4c4c4"/>
<circle cx="185.88" cy="204.73" r="0.3" fill="#c4c4c4"/>
<circle cx="200.40" cy="190.92" r="0.3" fill="#c4c4c4"/>
<circle cx="188.91" cy="204.98" r="0.3" fill="#c4c4c4"/>
<circle cx="184.57" cy="196.37" r="0.3" fill="#c4c4c4"/>
<circle cx="197.80" cy="192.03" r="0.3" fill="#c4c4c4"/>
<circle cx="176.33" cy="192.94" r="0.3" fill="#c4c4c4"/>
<circle cx="191.59" cy="197.65" r="0.3" fill="#c4c4c4"/>
<circle cx="195.83" cy="192.12" r="0.3" fill="#c4c4c4"/>
<circle cx="196.54" cy="194.70" r="0.3" fill="#c4c4c4"/>
<circle cx="190.06" cy="192.28" r="0.3" fill="#c4c4c4"/>
<circle cx="185.57" cy="195.43" r="0.3" fill="#c4c4c4"/>
<circle cx="177.46" cy="188.86" r="0.3" fill="#c4c4c4"/>
<circle cx="188.05" cy="184.68" r="0.3" fill="#c4c4c4"/>
<circle cx="183.64" cy="181.96" r="0.3" fill="#c4c4c4"/>
<circle cx="181.17" cy="194.84" r="0.3" fill="#c4c4c4"/>
<circle cx="193.66" cy="191.73" r="0.3" fill="#c4c4c4"/>
<circle cx="185.68" cy="184.92" r="0.3" fill="#c4c4c4"/>
<circle cx="206.28" cy="194.58" r="0.3" fill="#c4c4c4"/>
<circle cx="198.93" cy="187.59" r="0.3" fill="#c4c4c4"/>
<circle cx="186.15" cy="182.90" r="0.3" fill="#c4c4c4"/>
<circle cx="195.80" cy="196.68" r="0.3" fill="#c4c4c4"/>
<circle cx="169.03" cy="191.74" r="0.3" fill="#c4c4c4"/>
<circle cx="194.30" cy="183.19" r="0.3" fill="#c4c4c4"/>
<circle cx="169.75" cy="186.67" r="0.3" fill="#c4c4c4"/>
<circle cx="181.71" cy="184.99" r="0.3" fill="#c4c4c4"/>
<circle cx="188.32" cy="193.25" r="0.3" fill="#c4c4c4"/>
<circle cx="194.34" cy="195.51" r="0.3" fill="#c4c4c4"/>
<circle cx="203.03" cy="197.82" r="0.3" fill="#c4c4c4"/>
<circle cx="174.88" cy="189.47" r="0.3" fill="#c4c4c4"/>
<circle cx="177.40" cy="186.62" r="0.3" fill="#c4c4c4"/>
<circle cx="187.19" cy="192.03" r="0.3" fill="#c4c4c4"/>
<circle cx="192.90" cy="184.07" r="0.3" fill="#c4c4c4"/>
<circle cx="175.62" cy="191.88" r="0.3" fill="#c4c4c4"/>
<circle cx="186.01" cy="190.44" r="0.3" fill="#c4c4c4"/>
<circle cx="187.37" cy="188.20" r="0.3" fill="#c4c4c4"/>
<circle cx="195.01" cy="193.77" r="0.3" fill="#c4c4c4"/>
<circle cx="187.12" cy="188.64" r="0.3" fill="#c4c4c4"/>
<circle cx="186.26" cy="178.39" r="0.3" fill="#c4c4c4"/>
<circle cx="178.19" cy="192.19" r="0.3" fill="#c4c4c4"/>
<circle cx="172.96" cy="193.00" r="0.3" fill="#c4c4c4"/>
<circle cx="189.47" cy="185.11" r="0.3" fill="#c4c4c4"/>
<circle cx="185.49" cy="190.43" r="0.3" fill="#c4c4c4"/>
<circle cx="192.60" cy="195.06" r="0.3" fill="#c4c4c4"/>
<circle cx="187.64" cy="187.74" r="0.3" fill="#c4c4c4"/>
<circle cx="186.56" cy="191.67" r="0.3" fill="#c4c4c4"/>
<circle cx="195.34" cy="193.47" r="0.3" fill="#c4c4c4"/>
<circle cx="180.77" cy="185.23" r="0.3" fill="#c4c4c4"/>
<circle cx="184.27" cy="188.30" r="0.3" fill="#c4c4c4"/>
<circle cx="176.88" cy="191.42" r="0.3" fill="#c4c4c4"/>
<circle cx="183.09" cy="192.53" r="0.3" fill="#c4c4c4"/>
<circle cx="193.23" cy="189.93" r="0.3" fill="#c4c4c4"/>
<circle cx="211.24" cy="190.39" r="0.3" fill="#c4c4c4"/>
<circle cx="199.02" cy="192.61" r="0.3" fill="#c4c4c4"/>
<circle cx="199.16" cy="180.12" r="0.3" fill="#c4c4c4"/>
<circle cx="180.49" cy="193.24" r="0.3" fill="#c4c4c4"/>
<circle cx="194.02" cy="203.68" r="0.3" fill="#c4c4c4"/>
<circle cx="191.23" cy="198.40" r="0.3" fill="#c4c4c4"/>
<circle cx="195.66" cy="196.74" r="0.3" fill="#c4c4c4"/>
<circle cx="193.10" cy="191.22" r="0.3" fill="#c4c4c4"/>
<circle cx="193.09" cy="186.61" r="0.3" fill="#c4c4c4"/>
<circle cx="199.81" cy="186.91" r="0.3" fill="#c4c4c4"/>
<circle cx="190.49" cy="202.60" r="0.3" fill="#c4c4c4"/>
<circle cx="185.77" cy="192.10" r="0.3" fill="#c4c4c4"/>
<path d="M168.13,195.87 L169.04,196.42 L169.95,195.59 L170.86,194.47 L171.77,194.62 L172.68,196.75 L173.59,196.46" fill="none" stroke="#b8b8b8" stroke-width="0.4"/>
<path d="M182.54,196.83 L183.87,196.98 L185.20,197.06 L186.53,195.38 L187.87,196.04 L189.20,196.93 L190.53,197.82" fill="none" stroke="#b8b8b8" stroke-width="0.4"/>
<path d="M200.72,197.85 L201.89,197.86 L203.07,197.32 L204.25,195.71 L205.42,196.49 L206.60,197.13 L207.78,197.66" fill="none" stroke="#b8b8b8" stroke-width="0.4"/>
<path d="M180.72,197.98 L181.46,198.08 L182.21,197.42 L182.96,196.99 L183.71,196.43 L184.46,197.84 L185.20,198.35" fill="none" stroke="#b8b8b8" stroke-width="0.4"/>
<path d="M184.65,194.22 L185.26,194.78 L185.88,194.43 L186.50,193.01 L187.11,193.65 L187.73,194.68 L188.35,194.60" fill="none" stroke="#b8b8b8" stroke-width="0.4"/>
<path d="M178.27,194.25 L179.57,194.27 L180.88,193.93 L182.19,192.98 L183.49,193.59 L184.80,194.13 L186.11,194.86" fill="none" stroke="#b8b8b8" stroke-width="0.4"/>
<path d="M201.14,196.52 L202.04,197.49 L202.93,196.10 L203.82,196.09 L204.72,195.78 L205.61,197.57 L206.51,197.35" fill="none" stroke="#b8b8b8" stroke-width="0.4"/>
<path d="M196.30,196.36 L197.18,197.63 L198.06,196.24 L198.94,195.80 L199.82,195.83 L200.70,196.46 L201.58,197.19" fill="none" stroke="#b8b8b8" stroke-width="0.4"/>
<path d="M182.36,196.61 L183.05,197.94 L183.73,196.47 L184.42,196.01 L185.10,195.60 L185.79,197.17 L186.48,197.50" fill="none" stroke="#b8b8b8" stroke-width="0.4"/>
<path d="M192.96,195.36 L193.81,194.98 L194.66,194.71 L195.51,193.95 L196.36,194.22 L197.21,194.94 L198.06,194.98" fill="none" stroke="#b8b8b8" stroke-width="0.4"/>
<path d="M198.34,194.81 L199.03,195.02 L199.72,194.54 L200.42,193.35 L201.11,194.26 L201.80,194.68 L202.49,194.66" fill="none" stroke="#b8b8b8" stroke-width="0.4"/>
<path d="M169.92,196.36 L170.47,196.61 L171.02,195.08 L171.57,194.28 L172.12,195.22 L172.67,195.96 L173.22,196.05" fill="none" stroke="#b8b8b8" stroke-width="0.4"/>
<path d="M174.26,195.15 L174.77,196.03 L175.27,194.93 L175.77,193.46 L176.27,194.41 L176.77,195.17 L177.28,195.06" fill="none" stroke="#b8b8b8" stroke-width="0.4"/>
<path d="M181.48,193.67 L182.72,193.57 L183.97,193.41 L185.22,192.53 L186.47,192.75 L187.71,193.54 L188.96,193.81" fill="none" stroke="#b8b8b8" stroke-width="0.4"/>
<path d="M177.70,195.01 L178.80,196.06 L179.89,194.77 L180.99,194.45 L182.09,194.12 L183.19,195.62 L184.28,195.71" fill="none" stroke="#b8b8b8" stroke-width="0.4"/>
<path d="M186.26,194.92 L187.53,195.10 L188.81,194.05 L190.08,193.43 L191.35,193.96 L192.63,194.56 L193.90,194.55" fill="none" stroke="#b8b8b8" stroke-width="0.4"/>
<path d="M169.25,196.02 L170.21,195.46 L171.17,195.17 L172.13,193.90 L173.09,194.58 L174.06,195.56 L175.02,195.89" fill="none" stroke="#b8b8b8" stroke-width="0.4"/>
<path d="M199.34,194.24 L200.39,194.47 L201.45,193.61 L202.50,193.18 L203.55,192.70 L204.61,194.25 L205.66,195.04" fill="none" stroke="#b8b8b8" stroke-width="0.4"/>
<path d="M186.77,198.70 L187.46,198.71 L188.16,197.51 L188.85,197.41 L189.54,197.48 L190.24,198.39 L190.93,199.00" fill="none" stroke="#b8b8b8" stroke-width="0.4"/>
<path d="M181.77,196.00 L182.99,196.09 L184.22,195.64 L185.44,195.06 L186.66,195.21 L187.88,196.15 L189.10,196.19" fill="none" stroke="#b8b8b8" stroke-width="0.4"/>
<path d="M168.42,197.20 L169.19,198.26 L169.97,197.07 L170.74,196.47 L171.51,196.54 L172.28,197.24 L173.06,197.72" fill="none" stroke="#b8b8b8" stroke-width="0.4"/>
<path d="M178.48,199.02 L179.24,199.53 L179.99,198.28 L180.75,198.18 L181.51,198.51 L182.26,199.01 L183.02,199.86" fill="none" stroke="#b8b8b8" stroke-width="0.4"/>
<path d="M176.18,192.60 L175.46,193.29 L174.13,193.55 L171.97,193.30 L172.59,192.08 L173.97,191.25 L176.39,191.25 Z" fill="none" stroke="#b0b0b0" stroke-width="0.35"/>
<path d="M191.10,185.55 L190.55,186.54 L189.02,186.09 L188.05,185.55 L188.63,184.63 L190.58,184.54 Z" fill="none" stroke="#b0b0b0" stroke-width="0.35"/>
<path d="M194.11,189.97 L191.52,190.97 L188.08,189.97 L191.52,188.59 Z" fill="none" stroke="#b0b0b0" stroke-width="0.35"/>
<path d="M202.96,184.85 L201.03,186.08 L198.49,185.61 L199.02,184.30 L200.96,183.74 Z" fill="none" stroke="#b0b0b0" stroke-width="0.35"/>
<path d="M188.80,187.53 L188.01,188.27 L186.01,188.19 L185.84,186.81 L187.93,186.93 Z" fill="none" stroke="#b0b0b0" stroke-width="0.35"/>
<path d="M177.85,185.43 L176.00,186.55 L173.94,185.43 L176.00,183.90 Z" fill="none" stroke="#b0b0b0" stroke-width="0.35"/>
<path d="M194.17,182.30 L193.40,183.40 L191.33,183.25 L190.38,182.30 L191.64,181.66 L193.37,181.23 Z" fill="none" stroke="#b0b0b0" stroke-width="0.35"/>
<path d="M186.37,188.19 L184.81,189.19 L183.06,189.10 L181.49,188.73 L181.48,187.66 L182.77,186.56 L184.92,187.12 Z" fill="none" stroke="#b0b0b0" stroke-width="0.35"/>
<path d="M189.97,187.04 L189.02,187.82 L187.60,187.44 L187.92,186.77 L188.94,186.39 Z" fill="none" stroke="#b0b0b0" stroke-width="0.35"/>
<path d="M174.85,194.82 L174.47,195.47 L173.08,195.24 L173.46,194.55 L174.35,194.38 Z" fill="none" stroke="#b0b0b0" stroke-width="0.35"/>
<circle cx="195.58" cy="151.10" r="0.32" fill="#c4c4c4"/>
<circle cx="195.99" cy="147.22" r="0.32" fill="#c4c4c4"/>
<circle cx="184.38" cy="147.85" r="0.32" fill="#c4c4c4"/>
<circle cx="193.07" cy="159.51" r="0.32" fill="#c4c4c4"/>
<circle cx="184.73" cy="151.29" r="0.32" fill="#c4c4c4"/>
<circle cx="184.45" cy="157.32" r="0.32" fill="#c4c4c4"/>
<circle cx="198.22" cy="150.83" r="0.32" fill="#c4c4c4"/>
<circle cx="189.39" cy="162.03" r="0.32" fill="#c4c4c4"/>
<circle cx="178.04" cy="153.58" r="0.32" fill="#c4c4c4"/>
<circle cx="185.05" cy="151.29" r="0.32" fill="#c4c4c4"/>
<circle cx="185.83" cy="154.68" r="0.32" fill="#c4c4c4"/>
<circle cx="179.48" cy="155.84" r="0.32" fill="#c4c4c4"/>
<circle cx="188.59" cy="156.07" r="0.32" fill="#c4c4c4"/>
<circle cx="178.59" cy="157.34" r="0.32" fill="#c4c4c4"/>
<circle cx="188.62" cy="158.96" r="0.32" fill="#c4c4c4"/>
<circle cx="206.97" cy="155.08" r="0.32" fill="#c4c4c4"/>
<circle cx="199.66" cy="152.19" r="0.32" fill="#c4c4c4"/>
<circle cx="176.37" cy="152.28" r="0.32" fill="#c4c4c4"/>
<circle cx="195.45" cy="151.38" r="0.32" fill="#c4c4c4"/>
<circle cx="172.71" cy="151.47" r="0.32" fill="#c4c4c4"/>
<circle cx="189.34" cy="149.64" r="0.32" fill="#c4c4c4"/>
<circle cx="183.87" cy="155.36" r="0.32" fill="#c4c4c4"/>
<circle cx="194.90" cy="155.49" r="0.32" fill="#c4c4c4"/>
<circle cx="195.68" cy="154.24" r="0.32" fill="#c4c4c4"/>
<circle cx="173.04" cy="147.16" r="0.32" fill="#c4c4c4"/>
<circle cx="186.88" cy="157.04" r="0.32" fill="#c4c4c4"/>
<circle cx="181.38" cy="161.46" r="0.32" fill="#c4c4c4"/>
<circle cx="204.18" cy="147.15" r="0.32" fill="#c4c4c4"/>
<circle cx="201.60" cy="149.53" r="0.32" fill="#c4c4c4"/>
<circle cx="189.88" cy="150.52" r="0.32" fill="#c4c4c4"/>
<circle cx="186.79" cy="157.74" r="0.32" fill="#c4c4c4"/>
<circle cx="182.56" cy="154.65" r="0.32" fill="#c4c4c4"/>
<circle cx="199.95" cy="154.20" r="0.32" fill="#c4c4c4"/>
<circle cx="187.91" cy="152.31" r="0.32" fill="#c4c4c4"/>
<circle cx="200.97" cy="154.52" r="0.32" fill="#c4c4c4"/>
<circle cx="186.37" cy="157.02" r="0.32" fill="#c4c4c4"/>
<circle cx="180.92" cy="152.23" r="0.32" fill="#c4c4c4"/>
<circle cx="188.48" cy="154.78" r="0.32" fill="#c4c4c4"/>
<circle cx="178.73" cy="157.90" r="0.32" fill="#c4c4c4"/>
<circle cx="190.82" cy="153.50" r="0.32" fill="#c4c4c4"/>
<path d="M195.83,147.80 L195.45,148.49 L194.16,148.62 L193.47,148.08 L193.58,147.55 L194.31,147.36 L195.33,147.20 Z" fill="none" stroke="#c0c0c0" stroke-width="0.35"/>
<path d="M184.32,151.76 L183.53,152.66 L181.93,152.61 L181.12,152.08 L181.04,151.42 L181.98,151.03 L183.24,151.06 Z" fill="none" stroke="#c0c0c0" stroke-width="0.35"/>
<path d="M201.83,159.49 L200.71,160.31 L199.91,159.49 L200.71,159.01 Z" fill="none" stroke="#c0c0c0" stroke-width="0.35"/>
<path d="M183.47,150.39 L182.94,151.29 L181.22,151.51 L180.25,150.78 L178.93,149.63 L181.04,148.80 L183.38,149.16 Z" fill="none" stroke="#c0c0c0" stroke-width="0.35"/>
<path d="M208.68,153.27 L207.91,153.67 L206.99,154.18 L206.46,153.51 L206.16,152.94 L207.16,152.79 L208.31,152.58 Z" fill="none" stroke="#c0c0c0" stroke-width="0.35"/>
<path d="M211.02,149.21 L210.34,150.34 L208.15,150.24 L206.53,149.21 L208.08,148.10 L210.11,148.31 Z" fill="none" stroke="#c0c0c0" stroke-width="0.35"/>
<path d="M176.57,145.94 L175.64,146.43 L174.10,146.46 L174.15,145.44 L175.65,145.43 Z" fill="none" stroke="#c0c0c0" stroke-width="0.35"/>
<path d="M202.95,159.54 L201.41,160.62 L198.20,160.62 L198.60,158.63 L201.66,158.01 Z" fill="none" stroke="#c0c0c0" stroke-width="0.35"/>
<ellipse cx="186.00" cy="207.30" rx="28.00" ry="7.00" transform="rotate(-2 186.00 207.30)" fill="none" stroke="#b0b0b0" stroke-width="0.4" stroke-opacity="1" stroke-dasharray="0.8 0.6"/>
<ellipse cx="184.00" cy="207.30" rx="25.00" ry="5.60" transform="rotate(-2 184.00 207.30)" fill="#000" fill-opacity="0.1" filter="url(#b1)"/>
<ellipse cx="179.00" cy="207.30" rx="18.00" ry="4.50" transform="rotate(-2 179.00 207.30)" fill="#000" fill-opacity="0.15" filter="url(#b1)"/>
<ellipse cx="175.00" cy="204.70" rx="12.50" ry="1.70" transform="rotate(-2 175.00 204.70)" fill="#000" fill-opacity="0.22" filter="url(#b1)"/>
<ellipse cx="175.00" cy="209.70" rx="12.50" ry="1.70" transform="rotate(-2 175.00 209.70)" fill="#000" fill-opacity="0.22" filter="url(#b1)"/>
<ellipse cx="178.00" cy="207.20" rx="10.50" ry="0.75" transform="rotate(-2 178.00 207.20)" fill="#fff" fill-opacity="0.55" filter="url(#b1)"/>
<ellipse cx="184.00" cy="207.30" rx="22.50" ry="5.00" transform="rotate(-2 184.00 207.30)" fill="none" stroke="#999" stroke-width="0.35" stroke-opacity="1" />
<ellipse cx="204.25" cy="205.80" rx="2.20" ry="1.32" fill="none" stroke="#999" stroke-width="0.35"/>
<ellipse cx="206.75" cy="208.30" rx="1.80" ry="1.08" fill="none" stroke="#999" stroke-width="0.35"/>
<ellipse cx="201.75" cy="207.80" rx="2.60" ry="1.56" fill="none" stroke="#999" stroke-width="0.35"/>
<rect x="153.60" y="142.80" width="64.30" height="29.50" fill="none" stroke="#888" stroke-width="0.9"/>
<line x1="142.00" y1="140.90" x2="142.00" y2="219.40" stroke="#222" stroke-width="0.9" />
<line x1="142.00" y1="219.40" x2="219.70" y2="219.40" stroke="#222" stroke-width="0.9" />
<text x="180.55" y="137.40" font-size="8.2" fill="#b3123f" stroke="#b3123f" stroke-width="0.16" text-anchor="middle" font-weight="normal" font-style="normal" >Mock</text>
<text x="127.00" y="151.00" font-size="5.9" fill="#333" stroke="#333" stroke-width="0.16" text-anchor="start" font-weight="normal" font-style="normal" letter-spacing="0.2">10<tspan font-size="3.4" dy="-2.3">5</tspan></text>
<text x="127.00" y="168.30" font-size="5.9" fill="#333" stroke="#333" stroke-width="0.16" text-anchor="start" font-weight="normal" font-style="normal" letter-spacing="0.2">10<tspan font-size="3.4" dy="-2.3">4</tspan></text>
<text x="127.00" y="186.00" font-size="5.9" fill="#333" stroke="#333" stroke-width="0.16" text-anchor="start" font-weight="normal" font-style="normal" letter-spacing="0.2">10<tspan font-size="3.4" dy="-2.3">3</tspan></text>
<text x="134.10" y="211.20" font-size="5.9" fill="#333" stroke="#333" stroke-width="0.16" text-anchor="middle" font-weight="normal" font-style="normal" >0</text>
<line x1="139.70" y1="149.00" x2="142.00" y2="149.00" stroke="#222" stroke-width="0.8" />
<line x1="139.70" y1="166.30" x2="142.00" y2="166.30" stroke="#222" stroke-width="0.8" />
<line x1="139.70" y1="184.00" x2="142.00" y2="184.00" stroke="#222" stroke-width="0.8" />
<line x1="139.70" y1="209.20" x2="142.00" y2="209.20" stroke="#222" stroke-width="0.8" />
<line x1="140.70" y1="178.67" x2="142.00" y2="178.67" stroke="#222" stroke-width="0.5" />
<line x1="140.70" y1="175.55" x2="142.00" y2="175.55" stroke="#222" stroke-width="0.5" />
<line x1="140.70" y1="173.34" x2="142.00" y2="173.34" stroke="#222" stroke-width="0.5" />
<line x1="140.70" y1="171.63" x2="142.00" y2="171.63" stroke="#222" stroke-width="0.5" />
<line x1="140.70" y1="170.23" x2="142.00" y2="170.23" stroke="#222" stroke-width="0.5" />
<line x1="140.70" y1="169.04" x2="142.00" y2="169.04" stroke="#222" stroke-width="0.5" />
<line x1="140.70" y1="168.02" x2="142.00" y2="168.02" stroke="#222" stroke-width="0.5" />
<line x1="140.70" y1="167.11" x2="142.00" y2="167.11" stroke="#222" stroke-width="0.5" />
<line x1="140.70" y1="161.09" x2="142.00" y2="161.09" stroke="#222" stroke-width="0.5" />
<line x1="140.70" y1="158.05" x2="142.00" y2="158.05" stroke="#222" stroke-width="0.5" />
<line x1="140.70" y1="155.88" x2="142.00" y2="155.88" stroke="#222" stroke-width="0.5" />
<line x1="140.70" y1="154.21" x2="142.00" y2="154.21" stroke="#222" stroke-width="0.5" />
<line x1="140.70" y1="152.84" x2="142.00" y2="152.84" stroke="#222" stroke-width="0.5" />
<line x1="140.70" y1="151.68" x2="142.00" y2="151.68" stroke="#222" stroke-width="0.5" />
<line x1="140.70" y1="150.68" x2="142.00" y2="150.68" stroke="#222" stroke-width="0.5" />
<line x1="140.70" y1="149.79" x2="142.00" y2="149.79" stroke="#222" stroke-width="0.5" />
<line x1="140.70" y1="143.00" x2="142.00" y2="143.00" stroke="#222" stroke-width="0.5" />
<line x1="140.70" y1="145.00" x2="142.00" y2="145.00" stroke="#222" stroke-width="0.5" />
<line x1="140.70" y1="186.50" x2="142.00" y2="186.50" stroke="#222" stroke-width="0.5" />
<line x1="140.70" y1="189.50" x2="142.00" y2="189.50" stroke="#222" stroke-width="0.5" />
<line x1="140.70" y1="193.00" x2="142.00" y2="193.00" stroke="#222" stroke-width="0.5" />
<line x1="140.70" y1="197.50" x2="142.00" y2="197.50" stroke="#222" stroke-width="0.5" />
<line x1="140.70" y1="200.50" x2="142.00" y2="200.50" stroke="#222" stroke-width="0.5" />
<line x1="140.70" y1="203.50" x2="142.00" y2="203.50" stroke="#222" stroke-width="0.5" />
<line x1="140.70" y1="215.00" x2="142.00" y2="215.00" stroke="#222" stroke-width="0.5" />
<line x1="140.70" y1="217.50" x2="142.00" y2="217.50" stroke="#222" stroke-width="0.5" />
<line x1="140.70" y1="202.50" x2="140.70" y2="215.50" stroke="#111" stroke-width="1.4" />
<line x1="141.70" y1="219.40" x2="141.70" y2="221.40" stroke="#222" stroke-width="0.7" />
<line x1="156.30" y1="219.40" x2="156.30" y2="221.40" stroke="#222" stroke-width="0.7" />
<line x1="170.90" y1="219.40" x2="170.90" y2="221.40" stroke="#222" stroke-width="0.7" />
<line x1="185.50" y1="219.40" x2="185.50" y2="221.40" stroke="#222" stroke-width="0.7" />
<line x1="200.10" y1="219.40" x2="200.10" y2="221.40" stroke="#222" stroke-width="0.7" />
<line x1="214.70" y1="219.40" x2="214.70" y2="221.40" stroke="#222" stroke-width="0.7" />
<line x1="141.70" y1="219.40" x2="141.70" y2="220.50" stroke="#222" stroke-width="0.45" />
<line x1="144.62" y1="219.40" x2="144.62" y2="220.50" stroke="#222" stroke-width="0.45" />
<line x1="147.54" y1="219.40" x2="147.54" y2="220.50" stroke="#222" stroke-width="0.45" />
<line x1="150.46" y1="219.40" x2="150.46" y2="220.50" stroke="#222" stroke-width="0.45" />
<line x1="153.38" y1="219.40" x2="153.38" y2="220.50" stroke="#222" stroke-width="0.45" />
<line x1="156.30" y1="219.40" x2="156.30" y2="220.50" stroke="#222" stroke-width="0.45" />
<line x1="159.22" y1="219.40" x2="159.22" y2="220.50" stroke="#222" stroke-width="0.45" />
<line x1="162.14" y1="219.40" x2="162.14" y2="220.50" stroke="#222" stroke-width="0.45" />
<line x1="165.06" y1="219.40" x2="165.06" y2="220.50" stroke="#222" stroke-width="0.45" />
<line x1="167.98" y1="219.40" x2="167.98" y2="220.50" stroke="#222" stroke-width="0.45" />
<line x1="170.90" y1="219.40" x2="170.90" y2="220.50" stroke="#222" stroke-width="0.45" />
<line x1="173.82" y1="219.40" x2="173.82" y2="220.50" stroke="#222" stroke-width="0.45" />
<line x1="176.74" y1="219.40" x2="176.74" y2="220.50" stroke="#222" stroke-width="0.45" />
<line x1="179.66" y1="219.40" x2="179.66" y2="220.50" stroke="#222" stroke-width="0.45" />
<line x1="182.58" y1="219.40" x2="182.58" y2="220.50" stroke="#222" stroke-width="0.45" />
<line x1="185.50" y1="219.40" x2="185.50" y2="220.50" stroke="#222" stroke-width="0.45" />
<line x1="188.42" y1="219.40" x2="188.42" y2="220.50" stroke="#222" stroke-width="0.45" />
<line x1="191.34" y1="219.40" x2="191.34" y2="220.50" stroke="#222" stroke-width="0.45" />
<line x1="194.26" y1="219.40" x2="194.26" y2="220.50" stroke="#222" stroke-width="0.45" />
<line x1="197.18" y1="219.40" x2="197.18" y2="220.50" stroke="#222" stroke-width="0.45" />
<line x1="200.10" y1="219.40" x2="200.10" y2="220.50" stroke="#222" stroke-width="0.45" />
<line x1="203.02" y1="219.40" x2="203.02" y2="220.50" stroke="#222" stroke-width="0.45" />
<line x1="205.94" y1="219.40" x2="205.94" y2="220.50" stroke="#222" stroke-width="0.45" />
<line x1="208.86" y1="219.40" x2="208.86" y2="220.50" stroke="#222" stroke-width="0.45" />
<line x1="211.78" y1="219.40" x2="211.78" y2="220.50" stroke="#222" stroke-width="0.45" />
<line x1="214.70" y1="219.40" x2="214.70" y2="220.50" stroke="#222" stroke-width="0.45" />
<line x1="217.62" y1="219.40" x2="217.62" y2="220.50" stroke="#222" stroke-width="0.45" />
<text stroke="#333" stroke-width="0.16" x="0" y="0" font-size="6.0" fill="#333" text-anchor="end" transform="translate(144.90,227.60) rotate(-45)">0</text>
<text stroke="#333" stroke-width="0.16" x="0" y="0" font-size="6.0" fill="#333" text-anchor="end" transform="translate(159.50,227.60) rotate(-45)">50K</text>
<text stroke="#333" stroke-width="0.16" x="0" y="0" font-size="6.0" fill="#333" text-anchor="end" transform="translate(174.10,227.60) rotate(-45)">100K</text>
<text stroke="#333" stroke-width="0.16" x="0" y="0" font-size="6.0" fill="#333" text-anchor="end" transform="translate(188.70,227.60) rotate(-45)">150K</text>
<text stroke="#333" stroke-width="0.16" x="0" y="0" font-size="6.0" fill="#333" text-anchor="end" transform="translate(203.30,227.60) rotate(-45)">200K</text>
<text stroke="#333" stroke-width="0.16" x="0" y="0" font-size="6.0" fill="#333" text-anchor="end" transform="translate(217.90,227.60) rotate(-45)">250K</text>
<text x="152.70" y="183.60" font-size="6.0" fill="#222" stroke="#222" stroke-width="0.16" text-anchor="start" font-weight="normal" font-style="normal" textLength="17.4" lengthAdjust="spacingAndGlyphs">0.93%</text>
<rect x="239.30" y="141.50" width="76.50" height="77.90" fill="none" stroke="#7a7a7a" stroke-width="1.3"/>
<circle cx="271.88" cy="179.03" r="0.3" fill="#c4c4c4"/>
<circle cx="267.22" cy="192.82" r="0.3" fill="#c4c4c4"/>
<circle cx="279.62" cy="181.66" r="0.3" fill="#c4c4c4"/>
<circle cx="271.17" cy="194.09" r="0.3" fill="#c4c4c4"/>
<circle cx="278.25" cy="189.17" r="0.3" fill="#c4c4c4"/>
<circle cx="289.30" cy="197.78" r="0.3" fill="#c4c4c4"/>
<circle cx="305.41" cy="196.16" r="0.3" fill="#c4c4c4"/>
<circle cx="287.44" cy="191.92" r="0.3" fill="#c4c4c4"/>
<circle cx="304.02" cy="198.14" r="0.3" fill="#c4c4c4"/>
<circle cx="282.89" cy="193.29" r="0.3" fill="#c4c4c4"/>
<circle cx="288.87" cy="191.26" r="0.3" fill="#c4c4c4"/>
<circle cx="281.00" cy="184.37" r="0.3" fill="#c4c4c4"/>
<circle cx="280.66" cy="183.28" r="0.3" fill="#c4c4c4"/>
<circle cx="298.24" cy="193.68" r="0.3" fill="#c4c4c4"/>
<circle cx="273.94" cy="197.98" r="0.3" fill="#c4c4c4"/>
<circle cx="294.92" cy="181.46" r="0.3" fill="#c4c4c4"/>
<circle cx="304.41" cy="195.05" r="0.3" fill="#c4c4c4"/>
<circle cx="306.64" cy="184.84" r="0.3" fill="#c4c4c4"/>
<circle cx="291.31" cy="193.12" r="0.3" fill="#c4c4c4"/>
<circle cx="288.02" cy="191.86" r="0.3" fill="#c4c4c4"/>
<circle cx="296.53" cy="183.53" r="0.3" fill="#c4c4c4"/>
<circle cx="273.58" cy="184.03" r="0.3" fill="#c4c4c4"/>
<circle cx="280.42" cy="187.97" r="0.3" fill="#c4c4c4"/>
<circle cx="289.67" cy="192.33" r="0.3" fill="#c4c4c4"/>
<circle cx="286.31" cy="187.62" r="0.3" fill="#c4c4c4"/>
<circle cx="281.58" cy="195.76" r="0.3" fill="#c4c4c4"/>
<circle cx="293.64" cy="191.50" r="0.3" fill="#c4c4c4"/>
<circle cx="282.77" cy="198.77" r="0.3" fill="#c4c4c4"/>
<circle cx="280.06" cy="194.24" r="0.3" fill="#c4c4c4"/>
<circle cx="297.54" cy="189.67" r="0.3" fill="#c4c4c4"/>
<circle cx="294.25" cy="185.42" r="0.3" fill="#c4c4c4"/>
<circle cx="296.13" cy="192.00" r="0.3" fill="#c4c4c4"/>
<circle cx="270.13" cy="194.35" r="0.3" fill="#c4c4c4"/>
<circle cx="277.08" cy="197.41" r="0.3" fill="#c4c4c4"/>
<circle cx="279.21" cy="190.18" r="0.3" fill="#c4c4c4"/>
<circle cx="288.83" cy="189.34" r="0.3" fill="#c4c4c4"/>
<circle cx="288.60" cy="188.23" r="0.3" fill="#c4c4c4"/>
<circle cx="292.72" cy="191.03" r="0.3" fill="#c4c4c4"/>
<circle cx="288.11" cy="177.24" r="0.3" fill="#c4c4c4"/>
<circle cx="297.61" cy="191.16" r="0.3" fill="#c4c4c4"/>
<circle cx="268.17" cy="191.48" r="0.3" fill="#c4c4c4"/>
<circle cx="290.67" cy="196.35" r="0.3" fill="#c4c4c4"/>
<circle cx="275.17" cy="198.74" r="0.3" fill="#c4c4c4"/>
<circle cx="284.41" cy="202.97" r="0.3" fill="#c4c4c4"/>
<circle cx="284.54" cy="194.40" r="0.3" fill="#c4c4c4"/>
<circle cx="282.33" cy="185.42" r="0.3" fill="#c4c4c4"/>
<circle cx="296.97" cy="195.53" r="0.3" fill="#c4c4c4"/>
<circle cx="301.39" cy="195.28" r="0.3" fill="#c4c4c4"/>
<circle cx="280.27" cy="182.69" r="0.3" fill="#c4c4c4"/>
<circle cx="279.49" cy="187.62" r="0.3" fill="#c4c4c4"/>
<circle cx="277.85" cy="193.91" r="0.3" fill="#c4c4c4"/>
<circle cx="289.28" cy="189.65" r="0.3" fill="#c4c4c4"/>
<circle cx="287.73" cy="190.27" r="0.3" fill="#c4c4c4"/>
<circle cx="288.13" cy="194.76" r="0.3" fill="#c4c4c4"/>
<circle cx="295.59" cy="187.57" r="0.3" fill="#c4c4c4"/>
<circle cx="270.93" cy="198.14" r="0.3" fill="#c4c4c4"/>
<circle cx="287.15" cy="196.53" r="0.3" fill="#c4c4c4"/>
<circle cx="269.57" cy="189.35" r="0.3" fill="#c4c4c4"/>
<circle cx="286.27" cy="183.79" r="0.3" fill="#c4c4c4"/>
<circle cx="280.84" cy="194.62" r="0.3" fill="#c4c4c4"/>
<circle cx="296.79" cy="198.97" r="0.3" fill="#c4c4c4"/>
<circle cx="277.36" cy="183.99" r="0.3" fill="#c4c4c4"/>
<circle cx="291.20" cy="195.70" r="0.3" fill="#c4c4c4"/>
<circle cx="287.93" cy="184.49" r="0.3" fill="#c4c4c4"/>
<circle cx="293.82" cy="194.96" r="0.3" fill="#c4c4c4"/>
<circle cx="291.53" cy="188.56" r="0.3" fill="#c4c4c4"/>
<circle cx="289.04" cy="194.95" r="0.3" fill="#c4c4c4"/>
<circle cx="280.41" cy="181.78" r="0.3" fill="#c4c4c4"/>
<circle cx="289.29" cy="193.40" r="0.3" fill="#c4c4c4"/>
<circle cx="286.14" cy="195.45" r="0.3" fill="#c4c4c4"/>
<circle cx="280.13" cy="190.59" r="0.3" fill="#c4c4c4"/>
<circle cx="282.95" cy="193.86" r="0.3" fill="#c4c4c4"/>
<circle cx="301.96" cy="189.74" r="0.3" fill="#c4c4c4"/>
<circle cx="306.55" cy="198.64" r="0.3" fill="#c4c4c4"/>
<circle cx="293.91" cy="193.94" r="0.3" fill="#c4c4c4"/>
<circle cx="303.71" cy="190.10" r="0.3" fill="#c4c4c4"/>
<circle cx="284.88" cy="185.69" r="0.3" fill="#c4c4c4"/>
<circle cx="290.73" cy="197.72" r="0.3" fill="#c4c4c4"/>
<circle cx="291.32" cy="193.12" r="0.3" fill="#c4c4c4"/>
<circle cx="283.99" cy="191.85" r="0.3" fill="#c4c4c4"/>
<circle cx="271.75" cy="196.24" r="0.3" fill="#c4c4c4"/>
<circle cx="281.90" cy="185.48" r="0.3" fill="#c4c4c4"/>
<circle cx="278.49" cy="186.88" r="0.3" fill="#c4c4c4"/>
<circle cx="294.55" cy="196.29" r="0.3" fill="#c4c4c4"/>
<circle cx="272.42" cy="195.63" r="0.3" fill="#c4c4c4"/>
<circle cx="294.88" cy="188.10" r="0.3" fill="#c4c4c4"/>
<circle cx="271.13" cy="187.27" r="0.3" fill="#c4c4c4"/>
<circle cx="279.66" cy="192.71" r="0.3" fill="#c4c4c4"/>
<circle cx="282.42" cy="180.86" r="0.3" fill="#c4c4c4"/>
<circle cx="288.34" cy="183.33" r="0.3" fill="#c4c4c4"/>
<circle cx="295.05" cy="184.97" r="0.3" fill="#c4c4c4"/>
<circle cx="279.07" cy="186.73" r="0.3" fill="#c4c4c4"/>
<circle cx="280.57" cy="197.49" r="0.3" fill="#c4c4c4"/>
<circle cx="294.52" cy="194.01" r="0.3" fill="#c4c4c4"/>
<circle cx="289.19" cy="183.26" r="0.3" fill="#c4c4c4"/>
<circle cx="280.79" cy="188.24" r="0.3" fill="#c4c4c4"/>
<circle cx="276.23" cy="193.55" r="0.3" fill="#c4c4c4"/>
<circle cx="278.59" cy="187.45" r="0.3" fill="#c4c4c4"/>
<circle cx="275.56" cy="180.71" r="0.3" fill="#c4c4c4"/>
<circle cx="291.95" cy="197.65" r="0.3" fill="#c4c4c4"/>
<circle cx="287.75" cy="186.12" r="0.3" fill="#c4c4c4"/>
<circle cx="258.95" cy="191.86" r="0.3" fill="#c4c4c4"/>
<circle cx="298.16" cy="192.49" r="0.3" fill="#c4c4c4"/>
<circle cx="295.27" cy="198.39" r="0.3" fill="#c4c4c4"/>
<circle cx="297.27" cy="188.79" r="0.3" fill="#c4c4c4"/>
<circle cx="296.52" cy="194.88" r="0.3" fill="#c4c4c4"/>
<circle cx="270.63" cy="188.97" r="0.3" fill="#c4c4c4"/>
<circle cx="271.76" cy="190.45" r="0.3" fill="#c4c4c4"/>
<circle cx="291.78" cy="185.66" r="0.3" fill="#c4c4c4"/>
<circle cx="265.44" cy="197.49" r="0.3" fill="#c4c4c4"/>
<circle cx="289.77" cy="198.36" r="0.3" fill="#c4c4c4"/>
<circle cx="272.76" cy="196.30" r="0.3" fill="#c4c4c4"/>
<circle cx="306.74" cy="201.04" r="0.3" fill="#c4c4c4"/>
<circle cx="283.90" cy="192.35" r="0.3" fill="#c4c4c4"/>
<circle cx="284.46" cy="195.99" r="0.3" fill="#c4c4c4"/>
<circle cx="296.38" cy="191.43" r="0.3" fill="#c4c4c4"/>
<circle cx="272.41" cy="194.71" r="0.3" fill="#c4c4c4"/>
<circle cx="281.30" cy="194.14" r="0.3" fill="#c4c4c4"/>
<circle cx="288.63" cy="199.12" r="0.3" fill="#c4c4c4"/>
<circle cx="297.38" cy="188.75" r="0.3" fill="#c4c4c4"/>
<circle cx="289.49" cy="199.82" r="0.3" fill="#c4c4c4"/>
<circle cx="280.63" cy="193.17" r="0.3" fill="#c4c4c4"/>
<circle cx="297.91" cy="197.28" r="0.3" fill="#c4c4c4"/>
<circle cx="291.19" cy="184.40" r="0.3" fill="#c4c4c4"/>
<circle cx="273.39" cy="192.24" r="0.3" fill="#c4c4c4"/>
<circle cx="289.87" cy="203.74" r="0.3" fill="#c4c4c4"/>
<circle cx="277.39" cy="196.69" r="0.3" fill="#c4c4c4"/>
<circle cx="293.70" cy="182.64" r="0.3" fill="#c4c4c4"/>
<circle cx="277.82" cy="191.83" r="0.3" fill="#c4c4c4"/>
<circle cx="281.06" cy="190.23" r="0.3" fill="#c4c4c4"/>
<circle cx="290.70" cy="186.95" r="0.3" fill="#c4c4c4"/>
<circle cx="290.66" cy="187.82" r="0.3" fill="#c4c4c4"/>
<circle cx="280.55" cy="193.68" r="0.3" fill="#c4c4c4"/>
<circle cx="280.27" cy="192.44" r="0.3" fill="#c4c4c4"/>
<circle cx="301.99" cy="191.14" r="0.3" fill="#c4c4c4"/>
<circle cx="284.54" cy="194.68" r="0.3" fill="#c4c4c4"/>
<circle cx="282.34" cy="196.41" r="0.3" fill="#c4c4c4"/>
<circle cx="273.17" cy="194.09" r="0.3" fill="#c4c4c4"/>
<circle cx="280.88" cy="187.01" r="0.3" fill="#c4c4c4"/>
<circle cx="303.70" cy="186.75" r="0.3" fill="#c4c4c4"/>
<circle cx="303.57" cy="194.29" r="0.3" fill="#c4c4c4"/>
<circle cx="300.53" cy="186.12" r="0.3" fill="#c4c4c4"/>
<circle cx="297.99" cy="198.28" r="0.3" fill="#c4c4c4"/>
<circle cx="284.84" cy="190.35" r="0.3" fill="#c4c4c4"/>
<circle cx="310.56" cy="191.89" r="0.3" fill="#c4c4c4"/>
<circle cx="281.77" cy="187.85" r="0.3" fill="#c4c4c4"/>
<circle cx="290.46" cy="192.65" r="0.3" fill="#c4c4c4"/>
<circle cx="287.78" cy="199.61" r="0.3" fill="#c4c4c4"/>
<circle cx="282.72" cy="193.37" r="0.3" fill="#c4c4c4"/>
<circle cx="300.59" cy="185.98" r="0.3" fill="#c4c4c4"/>
<circle cx="296.39" cy="200.16" r="0.3" fill="#c4c4c4"/>
<circle cx="272.45" cy="185.51" r="0.3" fill="#c4c4c4"/>
<circle cx="275.62" cy="181.77" r="0.3" fill="#c4c4c4"/>
<circle cx="290.53" cy="181.72" r="0.3" fill="#c4c4c4"/>
<circle cx="290.99" cy="198.27" r="0.3" fill="#c4c4c4"/>
<circle cx="269.85" cy="189.42" r="0.3" fill="#c4c4c4"/>
<circle cx="266.82" cy="194.90" r="0.3" fill="#c4c4c4"/>
<circle cx="278.63" cy="189.67" r="0.3" fill="#c4c4c4"/>
<circle cx="286.54" cy="193.73" r="0.3" fill="#c4c4c4"/>
<circle cx="282.53" cy="191.08" r="0.3" fill="#c4c4c4"/>
<circle cx="280.53" cy="191.57" r="0.3" fill="#c4c4c4"/>
<circle cx="274.27" cy="191.32" r="0.3" fill="#c4c4c4"/>
<circle cx="266.68" cy="188.55" r="0.3" fill="#c4c4c4"/>
<circle cx="305.15" cy="191.40" r="0.3" fill="#c4c4c4"/>
<circle cx="273.40" cy="192.29" r="0.3" fill="#c4c4c4"/>
<circle cx="276.28" cy="182.74" r="0.3" fill="#c4c4c4"/>
<circle cx="278.64" cy="194.68" r="0.3" fill="#c4c4c4"/>
<circle cx="289.84" cy="190.52" r="0.3" fill="#c4c4c4"/>
<circle cx="276.73" cy="185.61" r="0.3" fill="#c4c4c4"/>
<circle cx="299.50" cy="192.22" r="0.3" fill="#c4c4c4"/>
<circle cx="276.48" cy="180.45" r="0.3" fill="#c4c4c4"/>
<circle cx="272.30" cy="203.38" r="0.3" fill="#c4c4c4"/>
<circle cx="274.51" cy="190.62" r="0.3" fill="#c4c4c4"/>
<circle cx="288.10" cy="190.21" r="0.3" fill="#c4c4c4"/>
<circle cx="283.22" cy="184.13" r="0.3" fill="#c4c4c4"/>
<circle cx="275.49" cy="199.44" r="0.3" fill="#c4c4c4"/>
<circle cx="278.44" cy="195.23" r="0.3" fill="#c4c4c4"/>
<circle cx="269.06" cy="189.63" r="0.3" fill="#c4c4c4"/>
<circle cx="288.61" cy="196.18" r="0.3" fill="#c4c4c4"/>
<circle cx="274.77" cy="193.98" r="0.3" fill="#c4c4c4"/>
<circle cx="289.86" cy="187.31" r="0.3" fill="#c4c4c4"/>
<circle cx="290.77" cy="186.51" r="0.3" fill="#c4c4c4"/>
<circle cx="278.04" cy="190.91" r="0.3" fill="#c4c4c4"/>
<circle cx="258.86" cy="190.45" r="0.3" fill="#c4c4c4"/>
<circle cx="276.00" cy="183.69" r="0.3" fill="#c4c4c4"/>
<circle cx="281.75" cy="194.81" r="0.3" fill="#c4c4c4"/>
<circle cx="281.96" cy="197.33" r="0.3" fill="#c4c4c4"/>
<circle cx="274.40" cy="184.44" r="0.3" fill="#c4c4c4"/>
<circle cx="301.51" cy="192.99" r="0.3" fill="#c4c4c4"/>
<circle cx="295.45" cy="186.87" r="0.3" fill="#c4c4c4"/>
<circle cx="294.04" cy="192.30" r="0.3" fill="#c4c4c4"/>
<circle cx="292.49" cy="191.13" r="0.3" fill="#c4c4c4"/>
<circle cx="298.06" cy="187.75" r="0.3" fill="#c4c4c4"/>
<circle cx="276.36" cy="183.61" r="0.3" fill="#c4c4c4"/>
<circle cx="297.61" cy="187.31" r="0.3" fill="#c4c4c4"/>
<circle cx="275.57" cy="186.30" r="0.3" fill="#c4c4c4"/>
<circle cx="281.55" cy="184.64" r="0.3" fill="#c4c4c4"/>
<circle cx="283.10" cy="187.86" r="0.3" fill="#c4c4c4"/>
<circle cx="280.49" cy="186.20" r="0.3" fill="#c4c4c4"/>
<circle cx="286.37" cy="188.70" r="0.3" fill="#c4c4c4"/>
<path d="M272.71,197.48 L273.24,197.86 L273.77,196.41 L274.30,196.05 L274.83,196.21 L275.36,197.28 L275.89,196.94" fill="none" stroke="#b8b8b8" stroke-width="0.4"/>
<path d="M287.00,193.42 L287.53,193.39 L288.06,193.11 L288.60,191.41 L289.13,192.62 L289.66,193.01 L290.19,193.22" fill="none" stroke="#b8b8b8" stroke-width="0.4"/>
<path d="M271.62,192.36 L272.13,192.40 L272.64,191.86 L273.15,191.24 L273.67,191.18 L274.18,192.21 L274.69,192.87" fill="none" stroke="#b8b8b8" stroke-width="0.4"/>
<path d="M297.65,193.16 L298.76,193.81 L299.87,192.89 L300.98,192.10 L302.09,191.58 L303.19,192.92 L304.30,193.60" fill="none" stroke="#b8b8b8" stroke-width="0.4"/>
<path d="M272.14,194.96 L273.36,195.72 L274.58,194.84 L275.79,194.15 L277.01,194.48 L278.23,195.38 L279.45,195.92" fill="none" stroke="#b8b8b8" stroke-width="0.4"/>
<path d="M295.03,193.84 L296.00,194.87 L296.98,193.96 L297.95,192.54 L298.92,193.43 L299.89,194.53 L300.87,194.78" fill="none" stroke="#b8b8b8" stroke-width="0.4"/>
<path d="M288.27,196.96 L289.51,197.67 L290.76,196.79 L292.01,196.40 L293.25,196.55 L294.50,197.70 L295.75,198.07" fill="none" stroke="#b8b8b8" stroke-width="0.4"/>
<path d="M295.86,197.65 L296.93,198.63 L298.00,197.87 L299.07,196.85 L300.14,196.99 L301.21,197.86 L302.28,198.61" fill="none" stroke="#b8b8b8" stroke-width="0.4"/>
<path d="M295.29,193.37 L296.17,193.51 L297.06,192.08 L297.94,191.69 L298.82,192.25 L299.71,192.76 L300.59,193.13" fill="none" stroke="#b8b8b8" stroke-width="0.4"/>
<path d="M286.88,195.17 L287.72,195.68 L288.55,195.54 L289.39,194.55 L290.23,194.76 L291.06,195.39 L291.90,196.49" fill="none" stroke="#b8b8b8" stroke-width="0.4"/>
<path d="M298.05,195.71 L298.95,196.73 L299.86,195.13 L300.76,194.76 L301.67,194.88 L302.57,195.59 L303.48,196.36" fill="none" stroke="#b8b8b8" stroke-width="0.4"/>
<path d="M298.21,198.05 L299.10,198.44 L299.98,198.24 L300.86,196.86 L301.74,197.10 L302.62,198.30 L303.51,198.20" fill="none" stroke="#b8b8b8" stroke-width="0.4"/>
<path d="M301.73,193.36 L303.06,194.63 L304.39,192.89 L305.71,192.47 L307.04,192.95 L308.37,193.76 L309.69,194.48" fill="none" stroke="#b8b8b8" stroke-width="0.4"/>
<path d="M300.76,194.44 L301.82,194.51 L302.89,193.94 L303.95,193.26 L305.01,193.39 L306.08,194.11 L307.14,194.26" fill="none" stroke="#b8b8b8" stroke-width="0.4"/>
<path d="M267.33,194.34 L268.61,193.76 L269.88,193.37 L271.15,192.09 L272.42,192.95 L273.70,193.97 L274.97,194.26" fill="none" stroke="#b8b8b8" stroke-width="0.4"/>
<path d="M271.28,192.96 L271.97,193.60 L272.65,192.56 L273.34,191.81 L274.02,192.16 L274.71,192.67 L275.39,193.60" fill="none" stroke="#b8b8b8" stroke-width="0.4"/>
<path d="M270.22,193.17 L271.54,193.22 L272.86,192.51 L274.17,191.72 L275.49,192.21 L276.80,192.79 L278.12,193.60" fill="none" stroke="#b8b8b8" stroke-width="0.4"/>
<path d="M268.13,194.11 L269.23,194.40 L270.34,193.92 L271.44,192.83 L272.55,193.11 L273.65,194.32 L274.76,194.23" fill="none" stroke="#b8b8b8" stroke-width="0.4"/>
<path d="M272.66,196.36 L273.81,197.26 L274.95,196.30 L276.09,195.44 L277.23,195.83 L278.37,196.70 L279.52,197.40" fill="none" stroke="#b8b8b8" stroke-width="0.4"/>
<path d="M281.10,192.87 L282.20,193.40 L283.30,192.35 L284.40,191.46 L285.51,192.19 L286.61,192.82 L287.71,192.87" fill="none" stroke="#b8b8b8" stroke-width="0.4"/>
<path d="M279.73,192.45 L280.73,192.53 L281.72,191.82 L282.72,191.31 L283.72,191.74 L284.71,192.41 L285.71,192.95" fill="none" stroke="#b8b8b8" stroke-width="0.4"/>
<path d="M284.31,195.40 L285.24,195.66 L286.16,195.36 L287.09,194.15 L288.02,194.75 L288.95,195.65 L289.87,196.18" fill="none" stroke="#b8b8b8" stroke-width="0.4"/>
<path d="M278.85,184.75 L278.18,185.39 L277.11,185.21 L276.49,184.97 L276.19,184.45 L277.02,184.07 L277.93,184.29 Z" fill="none" stroke="#b0b0b0" stroke-width="0.35"/>
<path d="M295.15,189.83 L294.09,190.67 L291.86,190.56 L292.10,189.20 L294.16,188.86 Z" fill="none" stroke="#b0b0b0" stroke-width="0.35"/>
<path d="M290.98,186.75 L290.10,187.80 L288.33,187.55 L286.01,187.48 L287.34,186.39 L288.21,185.66 L289.90,185.85 Z" fill="none" stroke="#b0b0b0" stroke-width="0.35"/>
<path d="M297.51,181.61 L295.33,182.40 L293.34,182.80 L291.38,181.61 L292.98,180.07 L295.50,180.66 Z" fill="none" stroke="#b0b0b0" stroke-width="0.35"/>
<path d="M276.71,189.66 L276.30,190.19 L275.27,190.14 L274.36,189.66 L275.26,189.17 L276.34,189.08 Z" fill="none" stroke="#b0b0b0" stroke-width="0.35"/>
<path d="M264.68,195.35 L263.79,196.54 L261.54,196.83 L260.91,195.68 L260.07,194.78 L261.75,194.39 L263.60,194.30 Z" fill="none" stroke="#b0b0b0" stroke-width="0.35"/>
<path d="M287.03,191.95 L285.35,193.14 L283.39,191.95 L285.35,190.38 Z" fill="none" stroke="#b0b0b0" stroke-width="0.35"/>
<path d="M286.55,190.32 L285.72,191.23 L284.18,190.75 L284.36,189.97 L285.58,189.65 Z" fill="none" stroke="#b0b0b0" stroke-width="0.35"/>
<path d="M284.43,186.52 L282.01,187.93 L280.03,186.52 L282.01,185.63 Z" fill="none" stroke="#b0b0b0" stroke-width="0.35"/>
<path d="M288.29,180.46 L286.96,181.71 L284.36,181.78 L283.82,180.46 L284.31,179.08 L286.86,179.30 Z" fill="none" stroke="#b0b0b0" stroke-width="0.35"/>
<circle cx="274.16" cy="150.57" r="0.32" fill="#bdbdbd"/>
<circle cx="278.39" cy="152.58" r="0.32" fill="#bdbdbd"/>
<circle cx="286.31" cy="154.47" r="0.32" fill="#bdbdbd"/>
<circle cx="277.18" cy="151.73" r="0.32" fill="#bdbdbd"/>
<circle cx="284.81" cy="151.72" r="0.32" fill="#bdbdbd"/>
<circle cx="275.23" cy="157.57" r="0.32" fill="#bdbdbd"/>
<circle cx="286.83" cy="156.45" r="0.32" fill="#bdbdbd"/>
<circle cx="278.64" cy="152.15" r="0.32" fill="#bdbdbd"/>
<circle cx="293.51" cy="151.77" r="0.32" fill="#bdbdbd"/>
<circle cx="286.73" cy="149.96" r="0.32" fill="#bdbdbd"/>
<circle cx="302.64" cy="154.89" r="0.32" fill="#bdbdbd"/>
<circle cx="283.01" cy="152.46" r="0.32" fill="#bdbdbd"/>
<circle cx="278.62" cy="154.44" r="0.32" fill="#bdbdbd"/>
<circle cx="285.60" cy="150.32" r="0.32" fill="#bdbdbd"/>
<circle cx="289.54" cy="160.75" r="0.32" fill="#bdbdbd"/>
<circle cx="285.63" cy="149.98" r="0.32" fill="#bdbdbd"/>
<circle cx="281.64" cy="154.79" r="0.32" fill="#bdbdbd"/>
<circle cx="280.37" cy="147.68" r="0.32" fill="#bdbdbd"/>
<circle cx="295.82" cy="146.75" r="0.32" fill="#bdbdbd"/>
<circle cx="271.35" cy="151.36" r="0.32" fill="#bdbdbd"/>
<circle cx="285.36" cy="146.09" r="0.32" fill="#bdbdbd"/>
<circle cx="270.41" cy="152.95" r="0.32" fill="#bdbdbd"/>
<circle cx="280.86" cy="144.50" r="0.32" fill="#bdbdbd"/>
<circle cx="298.69" cy="157.08" r="0.32" fill="#bdbdbd"/>
<circle cx="301.33" cy="152.16" r="0.32" fill="#bdbdbd"/>
<circle cx="276.94" cy="149.89" r="0.32" fill="#bdbdbd"/>
<circle cx="297.40" cy="150.94" r="0.32" fill="#bdbdbd"/>
<circle cx="272.30" cy="155.02" r="0.32" fill="#bdbdbd"/>
<circle cx="294.58" cy="148.57" r="0.32" fill="#bdbdbd"/>
<circle cx="278.82" cy="154.64" r="0.32" fill="#bdbdbd"/>
<circle cx="272.08" cy="153.47" r="0.32" fill="#bdbdbd"/>
<circle cx="283.61" cy="155.36" r="0.32" fill="#bdbdbd"/>
<circle cx="277.66" cy="150.82" r="0.32" fill="#bdbdbd"/>
<circle cx="279.08" cy="157.54" r="0.32" fill="#bdbdbd"/>
<circle cx="292.20" cy="148.66" r="0.32" fill="#bdbdbd"/>
<circle cx="280.61" cy="152.77" r="0.32" fill="#bdbdbd"/>
<circle cx="284.32" cy="153.85" r="0.32" fill="#bdbdbd"/>
<circle cx="275.43" cy="149.89" r="0.32" fill="#bdbdbd"/>
<circle cx="303.23" cy="156.13" r="0.32" fill="#bdbdbd"/>
<circle cx="278.24" cy="158.03" r="0.32" fill="#bdbdbd"/>
<circle cx="297.95" cy="144.48" r="0.32" fill="#bdbdbd"/>
<circle cx="288.69" cy="155.54" r="0.32" fill="#bdbdbd"/>
<circle cx="287.12" cy="151.73" r="0.32" fill="#bdbdbd"/>
<circle cx="297.10" cy="153.33" r="0.32" fill="#bdbdbd"/>
<circle cx="265.76" cy="152.13" r="0.32" fill="#bdbdbd"/>
<circle cx="287.65" cy="147.69" r="0.32" fill="#bdbdbd"/>
<circle cx="296.86" cy="151.96" r="0.32" fill="#bdbdbd"/>
<circle cx="272.40" cy="151.42" r="0.32" fill="#bdbdbd"/>
<circle cx="279.49" cy="154.11" r="0.32" fill="#bdbdbd"/>
<circle cx="279.07" cy="150.18" r="0.32" fill="#bdbdbd"/>
<circle cx="298.80" cy="150.31" r="0.32" fill="#bdbdbd"/>
<circle cx="281.94" cy="151.75" r="0.32" fill="#bdbdbd"/>
<circle cx="279.58" cy="154.51" r="0.32" fill="#bdbdbd"/>
<circle cx="275.10" cy="150.28" r="0.32" fill="#bdbdbd"/>
<circle cx="302.93" cy="145.80" r="0.32" fill="#bdbdbd"/>
<circle cx="276.34" cy="152.31" r="0.32" fill="#bdbdbd"/>
<circle cx="264.74" cy="143.77" r="0.32" fill="#bdbdbd"/>
<circle cx="279.88" cy="155.58" r="0.32" fill="#bdbdbd"/>
<circle cx="288.22" cy="150.04" r="0.32" fill="#bdbdbd"/>
<circle cx="275.66" cy="160.82" r="0.32" fill="#bdbdbd"/>
<path d="M292.75,148.27 L290.96,149.34 L288.17,148.27 L290.96,147.06 Z" fill="none" stroke="#b8b8b8" stroke-width="0.35"/>
<path d="M300.36,151.11 L300.03,152.62 L297.40,152.21 L296.90,151.11 L297.26,149.89 L299.34,150.28 Z" fill="none" stroke="#b8b8b8" stroke-width="0.35"/>
<path d="M275.88,149.90 L274.49,150.68 L271.99,149.90 L274.49,148.61 Z" fill="none" stroke="#b8b8b8" stroke-width="0.35"/>
<path d="M296.10,150.25 L293.86,151.13 L291.86,150.25 L293.86,149.06 Z" fill="none" stroke="#b8b8b8" stroke-width="0.35"/>
<path d="M286.55,157.02 L285.14,157.80 L283.50,157.52 L282.79,156.23 L285.13,156.26 Z" fill="none" stroke="#b8b8b8" stroke-width="0.35"/>
<path d="M293.03,153.26 L292.27,154.56 L290.09,154.16 L289.08,153.64 L287.88,152.55 L289.99,152.11 L292.17,152.03 Z" fill="none" stroke="#b8b8b8" stroke-width="0.35"/>
<path d="M285.29,153.69 L284.05,155.06 L281.97,154.39 L281.07,153.69 L281.54,152.58 L283.34,153.03 Z" fill="none" stroke="#b8b8b8" stroke-width="0.35"/>
<path d="M289.61,155.45 L287.69,156.28 L286.52,155.45 L287.69,154.12 Z" fill="none" stroke="#b8b8b8" stroke-width="0.35"/>
<path d="M292.45,149.59 L292.08,150.52 L290.44,150.45 L288.93,150.10 L289.65,149.28 L290.47,148.80 L291.91,148.79 Z" fill="none" stroke="#b8b8b8" stroke-width="0.35"/>
<path d="M288.78,154.96 L287.86,155.30 L287.20,155.43 L286.48,155.21 L286.75,154.79 L287.07,154.18 L288.02,154.51 Z" fill="none" stroke="#b8b8b8" stroke-width="0.35"/>
<path d="M282.48,154.40 L282.04,155.36 L280.37,155.24 L278.82,154.92 L279.20,153.99 L280.38,153.58 L281.68,153.70 Z" fill="none" stroke="#b8b8b8" stroke-width="0.35"/>
<path d="M282.49,155.10 L281.41,155.89 L279.39,156.31 L279.13,155.10 L279.73,154.23 L281.94,153.79 Z" fill="none" stroke="#b8b8b8" stroke-width="0.35"/>
<path d="M293.94,154.73 L293.24,155.56 L291.80,155.13 L291.34,154.13 L293.09,154.16 Z" fill="none" stroke="#b8b8b8" stroke-width="0.35"/>
<path d="M298.92,150.74 L297.16,152.49 L293.48,151.86 L294.06,149.87 L296.89,149.48 Z" fill="none" stroke="#b8b8b8" stroke-width="0.35"/>
<ellipse cx="285.00" cy="206.20" rx="29.12" ry="7.00" transform="rotate(-2 285.00 206.20)" fill="none" stroke="#b0b0b0" stroke-width="0.4" stroke-opacity="1" stroke-dasharray="0.8 0.6"/>
<ellipse cx="283.00" cy="206.20" rx="26.00" ry="5.60" transform="rotate(-2 283.00 206.20)" fill="#000" fill-opacity="0.1" filter="url(#b1)"/>
<ellipse cx="278.00" cy="206.20" rx="18.72" ry="4.50" transform="rotate(-2 278.00 206.20)" fill="#000" fill-opacity="0.15" filter="url(#b1)"/>
<ellipse cx="274.00" cy="203.60" rx="13.00" ry="1.70" transform="rotate(-2 274.00 203.60)" fill="#000" fill-opacity="0.22" filter="url(#b1)"/>
<ellipse cx="274.00" cy="208.60" rx="13.00" ry="1.70" transform="rotate(-2 274.00 208.60)" fill="#000" fill-opacity="0.22" filter="url(#b1)"/>
<ellipse cx="277.00" cy="206.10" rx="10.92" ry="0.75" transform="rotate(-2 277.00 206.10)" fill="#fff" fill-opacity="0.55" filter="url(#b1)"/>
<ellipse cx="283.00" cy="206.20" rx="23.40" ry="5.00" transform="rotate(-2 283.00 206.20)" fill="none" stroke="#999" stroke-width="0.35" stroke-opacity="1" />
<ellipse cx="304.10" cy="204.70" rx="2.20" ry="1.32" fill="none" stroke="#999" stroke-width="0.35"/>
<ellipse cx="306.70" cy="207.20" rx="1.80" ry="1.08" fill="none" stroke="#999" stroke-width="0.35"/>
<ellipse cx="301.50" cy="206.70" rx="2.60" ry="1.56" fill="none" stroke="#999" stroke-width="0.35"/>
<rect x="250.90" y="142.80" width="63.70" height="29.50" fill="none" stroke="#888" stroke-width="0.9"/>
<line x1="239.30" y1="140.90" x2="239.30" y2="219.40" stroke="#222" stroke-width="0.9" />
<line x1="239.30" y1="219.40" x2="316.40" y2="219.40" stroke="#222" stroke-width="0.9" />
<text x="277.55" y="137.40" font-size="8.2" fill="#8c84c8" stroke="#8c84c8" stroke-width="0.16" text-anchor="middle" font-weight="normal" font-style="normal" >Blimp-1 KO</text>
<text x="224.30" y="151.00" font-size="5.9" fill="#333" stroke="#333" stroke-width="0.16" text-anchor="start" font-weight="normal" font-style="normal" letter-spacing="0.2">10<tspan font-size="3.4" dy="-2.3">5</tspan></text>
<text x="224.30" y="168.30" font-size="5.9" fill="#333" stroke="#333" stroke-width="0.16" text-anchor="start" font-weight="normal" font-style="normal" letter-spacing="0.2">10<tspan font-size="3.4" dy="-2.3">4</tspan></text>
<text x="224.30" y="186.00" font-size="5.9" fill="#333" stroke="#333" stroke-width="0.16" text-anchor="start" font-weight="normal" font-style="normal" letter-spacing="0.2">10<tspan font-size="3.4" dy="-2.3">3</tspan></text>
<text x="231.40" y="211.20" font-size="5.9" fill="#333" stroke="#333" stroke-width="0.16" text-anchor="middle" font-weight="normal" font-style="normal" >0</text>
<line x1="237.00" y1="149.00" x2="239.30" y2="149.00" stroke="#222" stroke-width="0.8" />
<line x1="237.00" y1="166.30" x2="239.30" y2="166.30" stroke="#222" stroke-width="0.8" />
<line x1="237.00" y1="184.00" x2="239.30" y2="184.00" stroke="#222" stroke-width="0.8" />
<line x1="237.00" y1="209.20" x2="239.30" y2="209.20" stroke="#222" stroke-width="0.8" />
<line x1="238.00" y1="178.67" x2="239.30" y2="178.67" stroke="#222" stroke-width="0.5" />
<line x1="238.00" y1="175.55" x2="239.30" y2="175.55" stroke="#222" stroke-width="0.5" />
<line x1="238.00" y1="173.34" x2="239.30" y2="173.34" stroke="#222" stroke-width="0.5" />
<line x1="238.00" y1="171.63" x2="239.30" y2="171.63" stroke="#222" stroke-width="0.5" />
<line x1="238.00" y1="170.23" x2="239.30" y2="170.23" stroke="#222" stroke-width="0.5" />
<line x1="238.00" y1="169.04" x2="239.30" y2="169.04" stroke="#222" stroke-width="0.5" />
<line x1="238.00" y1="168.02" x2="239.30" y2="168.02" stroke="#222" stroke-width="0.5" />
<line x1="238.00" y1="167.11" x2="239.30" y2="167.11" stroke="#222" stroke-width="0.5" />
<line x1="238.00" y1="161.09" x2="239.30" y2="161.09" stroke="#222" stroke-width="0.5" />
<line x1="238.00" y1="158.05" x2="239.30" y2="158.05" stroke="#222" stroke-width="0.5" />
<line x1="238.00" y1="155.88" x2="239.30" y2="155.88" stroke="#222" stroke-width="0.5" />
<line x1="238.00" y1="154.21" x2="239.30" y2="154.21" stroke="#222" stroke-width="0.5" />
<line x1="238.00" y1="152.84" x2="239.30" y2="152.84" stroke="#222" stroke-width="0.5" />
<line x1="238.00" y1="151.68" x2="239.30" y2="151.68" stroke="#222" stroke-width="0.5" />
<line x1="238.00" y1="150.68" x2="239.30" y2="150.68" stroke="#222" stroke-width="0.5" />
<line x1="238.00" y1="149.79" x2="239.30" y2="149.79" stroke="#222" stroke-width="0.5" />
<line x1="238.00" y1="143.00" x2="239.30" y2="143.00" stroke="#222" stroke-width="0.5" />
<line x1="238.00" y1="145.00" x2="239.30" y2="145.00" stroke="#222" stroke-width="0.5" />
<line x1="238.00" y1="186.50" x2="239.30" y2="186.50" stroke="#222" stroke-width="0.5" />
<line x1="238.00" y1="189.50" x2="239.30" y2="189.50" stroke="#222" stroke-width="0.5" />
<line x1="238.00" y1="193.00" x2="239.30" y2="193.00" stroke="#222" stroke-width="0.5" />
<line x1="238.00" y1="197.50" x2="239.30" y2="197.50" stroke="#222" stroke-width="0.5" />
<line x1="238.00" y1="200.50" x2="239.30" y2="200.50" stroke="#222" stroke-width="0.5" />
<line x1="238.00" y1="203.50" x2="239.30" y2="203.50" stroke="#222" stroke-width="0.5" />
<line x1="238.00" y1="215.00" x2="239.30" y2="215.00" stroke="#222" stroke-width="0.5" />
<line x1="238.00" y1="217.50" x2="239.30" y2="217.50" stroke="#222" stroke-width="0.5" />
<line x1="238.00" y1="202.50" x2="238.00" y2="215.50" stroke="#111" stroke-width="1.4" />
<line x1="239.00" y1="219.40" x2="239.00" y2="221.40" stroke="#222" stroke-width="0.7" />
<line x1="253.60" y1="219.40" x2="253.60" y2="221.40" stroke="#222" stroke-width="0.7" />
<line x1="268.20" y1="219.40" x2="268.20" y2="221.40" stroke="#222" stroke-width="0.7" />
<line x1="282.80" y1="219.40" x2="282.80" y2="221.40" stroke="#222" stroke-width="0.7" />
<line x1="297.40" y1="219.40" x2="297.40" y2="221.40" stroke="#222" stroke-width="0.7" />
<line x1="312.00" y1="219.40" x2="312.00" y2="221.40" stroke="#222" stroke-width="0.7" />
<line x1="239.00" y1="219.40" x2="239.00" y2="220.50" stroke="#222" stroke-width="0.45" />
<line x1="241.92" y1="219.40" x2="241.92" y2="220.50" stroke="#222" stroke-width="0.45" />
<line x1="244.84" y1="219.40" x2="244.84" y2="220.50" stroke="#222" stroke-width="0.45" />
<line x1="247.76" y1="219.40" x2="247.76" y2="220.50" stroke="#222" stroke-width="0.45" />
<line x1="250.68" y1="219.40" x2="250.68" y2="220.50" stroke="#222" stroke-width="0.45" />
<line x1="253.60" y1="219.40" x2="253.60" y2="220.50" stroke="#222" stroke-width="0.45" />
<line x1="256.52" y1="219.40" x2="256.52" y2="220.50" stroke="#222" stroke-width="0.45" />
<line x1="259.44" y1="219.40" x2="259.44" y2="220.50" stroke="#222" stroke-width="0.45" />
<line x1="262.36" y1="219.40" x2="262.36" y2="220.50" stroke="#222" stroke-width="0.45" />
<line x1="265.28" y1="219.40" x2="265.28" y2="220.50" stroke="#222" stroke-width="0.45" />
<line x1="268.20" y1="219.40" x2="268.20" y2="220.50" stroke="#222" stroke-width="0.45" />
<line x1="271.12" y1="219.40" x2="271.12" y2="220.50" stroke="#222" stroke-width="0.45" />
<line x1="274.04" y1="219.40" x2="274.04" y2="220.50" stroke="#222" stroke-width="0.45" />
<line x1="276.96" y1="219.40" x2="276.96" y2="220.50" stroke="#222" stroke-width="0.45" />
<line x1="279.88" y1="219.40" x2="279.88" y2="220.50" stroke="#222" stroke-width="0.45" />
<line x1="282.80" y1="219.40" x2="282.80" y2="220.50" stroke="#222" stroke-width="0.45" />
<line x1="285.72" y1="219.40" x2="285.72" y2="220.50" stroke="#222" stroke-width="0.45" />
<line x1="288.64" y1="219.40" x2="288.64" y2="220.50" stroke="#222" stroke-width="0.45" />
<line x1="291.56" y1="219.40" x2="291.56" y2="220.50" stroke="#222" stroke-width="0.45" />
<line x1="294.48" y1="219.40" x2="294.48" y2="220.50" stroke="#222" stroke-width="0.45" />
<line x1="297.40" y1="219.40" x2="297.40" y2="220.50" stroke="#222" stroke-width="0.45" />
<line x1="300.32" y1="219.40" x2="300.32" y2="220.50" stroke="#222" stroke-width="0.45" />
<line x1="303.24" y1="219.40" x2="303.24" y2="220.50" stroke="#222" stroke-width="0.45" />
<line x1="306.16" y1="219.40" x2="306.16" y2="220.50" stroke="#222" stroke-width="0.45" />
<line x1="309.08" y1="219.40" x2="309.08" y2="220.50" stroke="#222" stroke-width="0.45" />
<line x1="312.00" y1="219.40" x2="312.00" y2="220.50" stroke="#222" stroke-width="0.45" />
<line x1="314.92" y1="219.40" x2="314.92" y2="220.50" stroke="#222" stroke-width="0.45" />
<text stroke="#333" stroke-width="0.16" x="0" y="0" font-size="6.0" fill="#333" text-anchor="end" transform="translate(242.20,227.60) rotate(-45)">0</text>
<text stroke="#333" stroke-width="0.16" x="0" y="0" font-size="6.0" fill="#333" text-anchor="end" transform="translate(256.80,227.60) rotate(-45)">50K</text>
<text stroke="#333" stroke-width="0.16" x="0" y="0" font-size="6.0" fill="#333" text-anchor="end" transform="translate(271.40,227.60) rotate(-45)">100K</text>
<text stroke="#333" stroke-width="0.16" x="0" y="0" font-size="6.0" fill="#333" text-anchor="end" transform="translate(286.00,227.60) rotate(-45)">150K</text>
<text stroke="#333" stroke-width="0.16" x="0" y="0" font-size="6.0" fill="#333" text-anchor="end" transform="translate(300.60,227.60) rotate(-45)">200K</text>
<text stroke="#333" stroke-width="0.16" x="0" y="0" font-size="6.0" fill="#333" text-anchor="end" transform="translate(315.20,227.60) rotate(-45)">250K</text>
<text x="250.00" y="183.60" font-size="6.0" fill="#222" stroke="#222" stroke-width="0.16" text-anchor="start" font-weight="normal" font-style="normal" textLength="17.4" lengthAdjust="spacingAndGlyphs">1.96%</text>
<line x1="26.50" y1="219.40" x2="26.50" y2="147.50" stroke="#111" stroke-width="1.2" />
<path d="M23.60,148.00 L26.50,146.80 L29.40,148.00 L26.50,142.00 Z" fill="#111"/>
<text x="0" y="2.65" font-size="7.4" fill="#1a1a1a" font-weight="bold" text-anchor="middle" textLength="11.1" lengthAdjust="spacingAndGlyphs" transform="translate(18.70,180.50) rotate(-90)">GFP</text>
<line x1="44.60" y1="243.30" x2="309.70" y2="243.30" stroke="#111" stroke-width="1.2" />
<path d="M309.20,240.40 L310.40,243.30 L309.20,246.20 L315.80,243.30 Z" fill="#111"/>
<text x="0" y="2.65" font-size="7.4" fill="#1a1a1a" font-weight="bold" text-anchor="middle" textLength="15.9" lengthAdjust="spacingAndGlyphs" transform="translate(180.15,249.80)">FSC-A</text>
<line x1="362.50" y1="19.60" x2="362.50" y2="100.00" stroke="#111" stroke-width="1.0" />
<line x1="359.50" y1="100.00" x2="362.50" y2="100.00" stroke="#111" stroke-width="0.9" />
<text x="356.85" y="102.00" font-size="5.8" fill="#444" stroke="#444" stroke-width="0.16" text-anchor="end" font-weight="normal" font-style="normal" letter-spacing="0.25">0</text>
<line x1="359.50" y1="80.30" x2="362.50" y2="80.30" stroke="#111" stroke-width="0.9" />
<text x="356.85" y="82.30" font-size="5.8" fill="#444" stroke="#444" stroke-width="0.16" text-anchor="end" font-weight="normal" font-style="normal" letter-spacing="0.25">2</text>
<line x1="359.50" y1="60.60" x2="362.50" y2="60.60" stroke="#111" stroke-width="0.9" />
<text x="356.85" y="62.60" font-size="5.8" fill="#444" stroke="#444" stroke-width="0.16" text-anchor="end" font-weight="normal" font-style="normal" letter-spacing="0.25">4</text>
<line x1="359.50" y1="40.90" x2="362.50" y2="40.90" stroke="#111" stroke-width="0.9" />
<text x="356.85" y="42.90" font-size="5.8" fill="#444" stroke="#444" stroke-width="0.16" text-anchor="end" font-weight="normal" font-style="normal" letter-spacing="0.25">6</text>
<line x1="359.50" y1="21.20" x2="362.50" y2="21.20" stroke="#111" stroke-width="0.9" />
<text x="356.85" y="23.20" font-size="5.8" fill="#444" stroke="#444" stroke-width="0.16" text-anchor="end" font-weight="normal" font-style="normal" letter-spacing="0.25">8</text>
<line x1="360.90" y1="90.15" x2="362.50" y2="90.15" stroke="#111" stroke-width="0.6" />
<line x1="360.90" y1="70.45" x2="362.50" y2="70.45" stroke="#111" stroke-width="0.6" />
<line x1="360.90" y1="50.75" x2="362.50" y2="50.75" stroke="#111" stroke-width="0.6" />
<line x1="360.90" y1="31.05" x2="362.50" y2="31.05" stroke="#111" stroke-width="0.6" />
<line x1="362.50" y1="100.00" x2="480.00" y2="100.00" stroke="#111" stroke-width="1.0" />
<line x1="374.00" y1="100.00" x2="374.00" y2="102.30" stroke="#222" stroke-width="0.8" />
<text stroke="#333" stroke-width="0.16" x="374.00" y="108.80" font-size="6.2" fill="#333" font-weight="normal" font-style="normal" text-anchor="middle" dominant-baseline="central" >PRE</text>
<line x1="397.70" y1="100.00" x2="397.70" y2="102.30" stroke="#222" stroke-width="0.8" />
<text stroke="#333" stroke-width="0.16" x="397.70" y="108.80" font-size="6.2" fill="#333" font-weight="normal" font-style="normal" text-anchor="middle" dominant-baseline="central" >C1</text>
<line x1="421.40" y1="100.00" x2="421.40" y2="102.30" stroke="#222" stroke-width="0.8" />
<text stroke="#333" stroke-width="0.16" x="421.40" y="108.80" font-size="6.2" fill="#333" font-weight="normal" font-style="normal" text-anchor="middle" dominant-baseline="central" >C2</text>
<line x1="445.00" y1="100.00" x2="445.00" y2="102.30" stroke="#222" stroke-width="0.8" />
<text stroke="#333" stroke-width="0.16" x="445.00" y="108.80" font-size="6.2" fill="#333" font-weight="normal" font-style="normal" text-anchor="middle" dominant-baseline="central" >C3</text>
<line x1="468.60" y1="100.00" x2="468.60" y2="102.30" stroke="#222" stroke-width="0.8" />
<text stroke="#333" stroke-width="0.16" x="468.60" y="108.80" font-size="6.2" fill="#333" font-weight="normal" font-style="normal" text-anchor="middle" dominant-baseline="central" >C4</text>
<text x="0" y="0" font-size="6.4" fill="#222" font-weight="bold" text-anchor="middle" dominant-baseline="central" textLength="51.4" lengthAdjust="spacingAndGlyphs" transform="translate(345.70,59.10) rotate(-90)">Population doublings</text>
<polyline points="374.00,100.00 397.70,87.69 421.40,70.45 445.00,48.78 468.60,31.54" fill="none" stroke="#7a6a8a" stroke-width="0.8"/>
<polyline points="374.00,100.00 397.70,87.00 421.40,69.96 445.00,47.80 468.60,29.38" fill="none" stroke="#a8204a" stroke-width="1.1"/>
<line x1="397.70" y1="83.55" x2="397.70" y2="90.45" stroke="#333" stroke-width="0.7" />
<line x1="396.50" y1="83.55" x2="398.90" y2="83.55" stroke="#333" stroke-width="0.7" />
<line x1="396.50" y1="90.45" x2="398.90" y2="90.45" stroke="#333" stroke-width="0.7" />
<line x1="421.40" y1="65.03" x2="421.40" y2="74.88" stroke="#333" stroke-width="0.7" />
<line x1="420.20" y1="65.03" x2="422.60" y2="65.03" stroke="#333" stroke-width="0.7" />
<line x1="420.20" y1="74.88" x2="422.60" y2="74.88" stroke="#333" stroke-width="0.7" />
<line x1="445.00" y1="41.69" x2="445.00" y2="53.90" stroke="#333" stroke-width="0.7" />
<line x1="443.80" y1="41.69" x2="446.20" y2="41.69" stroke="#333" stroke-width="0.7" />
<line x1="443.80" y1="53.90" x2="446.20" y2="53.90" stroke="#333" stroke-width="0.7" />
<line x1="468.60" y1="23.47" x2="468.60" y2="35.29" stroke="#333" stroke-width="0.7" />
<line x1="467.40" y1="23.47" x2="469.80" y2="23.47" stroke="#333" stroke-width="0.7" />
<line x1="467.40" y1="35.29" x2="469.80" y2="35.29" stroke="#333" stroke-width="0.7" />
<circle cx="374.00" cy="100.00" r="1.5" fill="#8a7a9a" stroke="#4a3a5a" stroke-width="0.5"/>
<circle cx="397.70" cy="87.69" r="1.5" fill="#8a7a9a" stroke="#4a3a5a" stroke-width="0.5"/>
<circle cx="421.40" cy="70.45" r="1.5" fill="#8a7a9a" stroke="#4a3a5a" stroke-width="0.5"/>
<circle cx="445.00" cy="48.78" r="1.5" fill="#8a7a9a" stroke="#4a3a5a" stroke-width="0.5"/>
<circle cx="468.60" cy="31.54" r="1.5" fill="#8a7a9a" stroke="#4a3a5a" stroke-width="0.5"/>
<circle cx="374.00" cy="100.00" r="1.9" fill="#5e1430"/>
<circle cx="397.70" cy="87.00" r="1.9" fill="#5e1430"/>
<circle cx="421.40" cy="69.96" r="1.9" fill="#5e1430"/>
<circle cx="445.00" cy="47.80" r="1.9" fill="#5e1430"/>
<circle cx="468.60" cy="29.38" r="1.9" fill="#5e1430"/>
<line x1="373.20" y1="24.00" x2="381.60" y2="24.00" stroke="#b02048" stroke-width="1.1" />
<circle cx="377.4" cy="24.0" r="2.0" fill="#6a1030"/>
<line x1="373.20" y1="33.00" x2="381.60" y2="33.00" stroke="#8a7aa0" stroke-width="0.8" />
<circle cx="377.4" cy="33.0" r="1.6" fill="#c8c0d8" stroke="#3a3a6a" stroke-width="0.8"/>
<text x="384.60" y="26.20" font-size="6.2" fill="#333" stroke="#333" stroke-width="0.16" text-anchor="start" font-weight="normal" font-style="normal" >Mock</text>
<text x="384.60" y="35.20" font-size="6.2" fill="#333" stroke="#333" stroke-width="0.16" text-anchor="start" font-weight="normal" font-style="normal" textLength="30.6" lengthAdjust="spacingAndGlyphs">Blimp-1 KO</text>
<line x1="356.50" y1="136.00" x2="356.50" y2="237.00" stroke="#111" stroke-width="1.0" />
<line x1="353.50" y1="236.90" x2="356.50" y2="236.90" stroke="#111" stroke-width="0.9" />
<text x="351.85" y="238.90" font-size="5.8" fill="#444" stroke="#444" stroke-width="0.16" text-anchor="end" font-weight="normal" font-style="normal" letter-spacing="0.25">0</text>
<line x1="353.50" y1="212.24" x2="356.50" y2="212.24" stroke="#111" stroke-width="0.9" />
<text x="351.85" y="214.24" font-size="5.8" fill="#444" stroke="#444" stroke-width="0.16" text-anchor="end" font-weight="normal" font-style="normal" letter-spacing="0.25">2</text>
<line x1="353.50" y1="187.58" x2="356.50" y2="187.58" stroke="#111" stroke-width="0.9" />
<text x="351.85" y="189.58" font-size="5.8" fill="#444" stroke="#444" stroke-width="0.16" text-anchor="end" font-weight="normal" font-style="normal" letter-spacing="0.25">4</text>
<line x1="353.50" y1="162.92" x2="356.50" y2="162.92" stroke="#111" stroke-width="0.9" />
<text x="351.85" y="164.92" font-size="5.8" fill="#444" stroke="#444" stroke-width="0.16" text-anchor="end" font-weight="normal" font-style="normal" letter-spacing="0.25">6</text>
<line x1="353.50" y1="138.26" x2="356.50" y2="138.26" stroke="#111" stroke-width="0.9" />
<text x="351.85" y="140.26" font-size="5.8" fill="#444" stroke="#444" stroke-width="0.16" text-anchor="end" font-weight="normal" font-style="normal" letter-spacing="0.25">8</text>
<line x1="354.90" y1="224.57" x2="356.50" y2="224.57" stroke="#111" stroke-width="0.6" />
<line x1="354.90" y1="199.91" x2="356.50" y2="199.91" stroke="#111" stroke-width="0.6" />
<line x1="354.90" y1="175.25" x2="356.50" y2="175.25" stroke="#111" stroke-width="0.6" />
<line x1="354.90" y1="150.59" x2="356.50" y2="150.59" stroke="#111" stroke-width="0.6" />
<line x1="356.50" y1="237.00" x2="416.30" y2="237.00" stroke="#111" stroke-width="1.0" />
<line x1="371.30" y1="237.00" x2="371.30" y2="239.30" stroke="#222" stroke-width="0.8" />
<line x1="402.00" y1="237.00" x2="402.00" y2="239.30" stroke="#222" stroke-width="0.8" />
<text stroke="#333" stroke-width="0.16" x="371.10" y="245.80" font-size="6.2" fill="#333" font-weight="normal" font-style="normal" text-anchor="middle" dominant-baseline="central" >Mock</text>
<text stroke="#333" stroke-width="0.16" x="401.20" y="245.80" font-size="6.2" fill="#333" font-weight="normal" font-style="normal" text-anchor="middle" dominant-baseline="central" textLength="27.5" lengthAdjust="spacingAndGlyphs">Blimp-1 08</text>
<text x="0" y="0" font-size="6.4" fill="#222" font-weight="bold" text-anchor="middle" dominant-baseline="central" textLength="34.6" lengthAdjust="spacingAndGlyphs" transform="translate(339.60,185.70) rotate(-90)">CD4:CD8 ratio</text>
<line x1="371.20" y1="167.85" x2="371.20" y2="239.50" stroke="#6a6a6a" stroke-width="0.9" />
<line x1="365.60" y1="167.85" x2="376.60" y2="167.85" stroke="#6a6a6a" stroke-width="1.0" />
<line x1="361.50" y1="202.99" x2="381.70" y2="202.99" stroke="#6a6a6a" stroke-width="1.1" />
<line x1="402.20" y1="167.85" x2="402.20" y2="239.50" stroke="#6a6a6a" stroke-width="0.9" />
<line x1="396.80" y1="167.85" x2="407.80" y2="167.85" stroke="#6a6a6a" stroke-width="1.0" />
<line x1="392.30" y1="200.77" x2="411.90" y2="200.77" stroke="#6a6a6a" stroke-width="1.1" />
<line x1="397.00" y1="234.19" x2="406.80" y2="234.19" stroke="#6a6a6a" stroke-width="1.0" />
<circle cx="368.8" cy="145.8" r="1.9" fill="#621629"/>
<circle cx="374.2" cy="149.2" r="1.9" fill="#621629"/>
<circle cx="371.2" cy="199.6" r="1.9" fill="#621629"/>
<circle cx="363.8" cy="221.5" r="1.9" fill="#621629"/>
<circle cx="368.8" cy="223.0" r="1.9" fill="#621629"/>
<circle cx="374.0" cy="224.6" r="1.9" fill="#621629"/>
<circle cx="379.2" cy="225.6" r="1.9" fill="#621629"/>
<circle cx="371.2" cy="232.7" r="1.9" fill="#621629"/>
<circle cx="401.9" cy="145.4" r="1.7" fill="#9c9cb4" stroke="#3a3a62" stroke-width="0.95"/>
<circle cx="401.9" cy="151.2" r="1.7" fill="#9c9cb4" stroke="#3a3a62" stroke-width="0.95"/>
<circle cx="402.0" cy="203.8" r="1.7" fill="#9c9cb4" stroke="#3a3a62" stroke-width="0.95"/>
<circle cx="402.0" cy="209.0" r="1.7" fill="#9c9cb4" stroke="#3a3a62" stroke-width="0.95"/>
<circle cx="402.0" cy="216.3" r="1.7" fill="#9c9cb4" stroke="#3a3a62" stroke-width="0.95"/>
<circle cx="401.0" cy="223.0" r="1.7" fill="#9c9cb4" stroke="#3a3a62" stroke-width="0.95"/>
<circle cx="403.8" cy="226.5" r="1.7" fill="#9c9cb4" stroke="#3a3a62" stroke-width="0.95"/>
<circle cx="401.0" cy="231.7" r="1.7" fill="#9c9cb4" stroke="#3a3a62" stroke-width="0.95"/>
<text x="386.90" y="137.80" font-size="6.2" fill="#333" stroke="#333" stroke-width="0.16" text-anchor="middle" font-weight="normal" font-style="normal" ><tspan font-style="italic">P</tspan> = .51</text>
<line x1="372.00" y1="139.50" x2="402.00" y2="139.50" stroke="#707070" stroke-width="0.8" />
<line x1="459.50" y1="135.30" x2="459.50" y2="237.00" stroke="#111" stroke-width="1.0" />
<line x1="456.50" y1="236.90" x2="459.50" y2="236.90" stroke="#111" stroke-width="0.9" />
<text x="453.85" y="238.90" font-size="5.8" fill="#444" stroke="#444" stroke-width="0.16" text-anchor="end" font-weight="normal" font-style="normal" letter-spacing="0.25">0</text>
<line x1="456.50" y1="211.99" x2="459.50" y2="211.99" stroke="#111" stroke-width="0.9" />
<text x="453.85" y="213.99" font-size="5.8" fill="#444" stroke="#444" stroke-width="0.16" text-anchor="end" font-weight="normal" font-style="normal" letter-spacing="0.25">25</text>
<line x1="456.50" y1="187.08" x2="459.50" y2="187.08" stroke="#111" stroke-width="0.9" />
<text x="453.85" y="189.08" font-size="5.8" fill="#444" stroke="#444" stroke-width="0.16" text-anchor="end" font-weight="normal" font-style="normal" letter-spacing="0.25">50</text>
<line x1="456.50" y1="162.17" x2="459.50" y2="162.17" stroke="#111" stroke-width="0.9" />
<text x="453.85" y="164.17" font-size="5.8" fill="#444" stroke="#444" stroke-width="0.16" text-anchor="end" font-weight="normal" font-style="normal" letter-spacing="0.25">75</text>
<line x1="456.50" y1="137.26" x2="459.50" y2="137.26" stroke="#111" stroke-width="0.9" />
<text x="453.85" y="139.26" font-size="5.8" fill="#444" stroke="#444" stroke-width="0.16" text-anchor="end" font-weight="normal" font-style="normal" letter-spacing="0.25">100</text>
<line x1="457.60" y1="237.00" x2="512.90" y2="237.00" stroke="#111" stroke-width="1.0" />
<line x1="472.50" y1="237.00" x2="472.50" y2="239.30" stroke="#222" stroke-width="0.8" />
<line x1="500.60" y1="237.00" x2="500.60" y2="239.30" stroke="#222" stroke-width="0.8" />
<text stroke="#333" stroke-width="0.16" x="472.50" y="245.70" font-size="6.2" fill="#333" font-weight="normal" font-style="normal" text-anchor="middle" dominant-baseline="central" >PRE</text>
<text stroke="#333" stroke-width="0.16" x="500.60" y="245.70" font-size="6.2" fill="#333" font-weight="normal" font-style="normal" text-anchor="middle" dominant-baseline="central" >POST</text>
<text x="0" y="0" font-size="6.4" fill="#222" font-weight="bold" text-anchor="middle" dominant-baseline="central" textLength="20" lengthAdjust="spacingAndGlyphs" transform="translate(436.00,184.30) rotate(-90)">% Indel</text>
<line x1="472.50" y1="162.10" x2="500.50" y2="157.80" stroke="#2a2a2a" stroke-width="0.75" />
<line x1="472.50" y1="163.40" x2="500.50" y2="163.80" stroke="#2a2a2a" stroke-width="0.75" />
<line x1="472.50" y1="167.30" x2="500.50" y2="181.00" stroke="#2a2a2a" stroke-width="0.75" />
<line x1="472.50" y1="171.20" x2="500.50" y2="173.20" stroke="#2a2a2a" stroke-width="0.75" />
<line x1="472.50" y1="177.20" x2="500.50" y2="160.00" stroke="#2a2a2a" stroke-width="0.75" />
<line x1="472.50" y1="178.30" x2="500.50" y2="167.70" stroke="#2a2a2a" stroke-width="0.75" />
<line x1="472.50" y1="182.20" x2="500.50" y2="189.40" stroke="#2a2a2a" stroke-width="0.75" />
<circle cx="472.5" cy="162.1" r="1.6" fill="#c8c8dc" stroke="#34345e" stroke-width="0.95"/>
<circle cx="472.5" cy="163.4" r="1.6" fill="#c8c8dc" stroke="#34345e" stroke-width="0.95"/>
<circle cx="472.5" cy="167.3" r="1.6" fill="#c8c8dc" stroke="#34345e" stroke-width="0.95"/>
<circle cx="472.5" cy="171.2" r="1.6" fill="#c8c8dc" stroke="#34345e" stroke-width="0.95"/>
<circle cx="472.5" cy="177.2" r="1.6" fill="#c8c8dc" stroke="#34345e" stroke-width="0.95"/>
<circle cx="472.5" cy="178.3" r="1.6" fill="#c8c8dc" stroke="#34345e" stroke-width="0.95"/>
<circle cx="472.5" cy="182.2" r="1.6" fill="#c8c8dc" stroke="#34345e" stroke-width="0.95"/>
<circle cx="500.5" cy="157.8" r="1.6" fill="#c8c8dc" stroke="#34345e" stroke-width="0.95"/>
<circle cx="500.5" cy="163.8" r="1.6" fill="#c8c8dc" stroke="#34345e" stroke-width="0.95"/>
<circle cx="500.5" cy="181.0" r="1.6" fill="#c8c8dc" stroke="#34345e" stroke-width="0.95"/>
<circle cx="500.5" cy="173.2" r="1.6" fill="#c8c8dc" stroke="#34345e" stroke-width="0.95"/>
<circle cx="500.5" cy="160.0" r="1.6" fill="#c8c8dc" stroke="#34345e" stroke-width="0.95"/>
<circle cx="500.5" cy="167.7" r="1.6" fill="#c8c8dc" stroke="#34345e" stroke-width="0.95"/>
<circle cx="500.5" cy="189.4" r="1.6" fill="#c8c8dc" stroke="#34345e" stroke-width="0.95"/>
<text x="486.30" y="148.80" font-size="6.2" fill="#333" stroke="#333" stroke-width="0.16" text-anchor="middle" font-weight="normal" font-style="normal" ><tspan font-style="italic">P</tspan> = .60</text>
<line x1="472.30" y1="151.20" x2="499.80" y2="151.20" stroke="#707070" stroke-width="0.8" />
<rect x="118.60" y="269.10" width="4.6" height="4.6" fill="#fff" stroke="#c8102e" stroke-width="0.8"/>
<text x="125.50" y="273.60" font-size="6.0" fill="#333" stroke="#333" stroke-width="0.16" text-anchor="start" font-weight="normal" font-style="normal" textLength="14.6" lengthAdjust="spacingAndGlyphs">Mock</text>
<rect x="146.30" y="269.10" width="4.6" height="4.6" fill="#fff" stroke="#8c84c8" stroke-width="0.8"/>
<text x="153.50" y="273.60" font-size="6.0" fill="#333" stroke="#333" stroke-width="0.16" text-anchor="start" font-weight="normal" font-style="normal" textLength="30.4" lengthAdjust="spacingAndGlyphs">Blimp-1 KO</text>
<text stroke="#111" stroke-width="0.16" x="94.00" y="283.90" font-size="8.2" fill="#111" text-anchor="middle">CD4<tspan font-size="5.08" dy="-4.0">+</tspan></text>
<text stroke="#111" stroke-width="0.16" x="204.30" y="283.90" font-size="8.2" fill="#111" text-anchor="middle">CD8<tspan font-size="5.08" dy="-4.0">+</tspan></text>
<line x1="46.50" y1="378.10" x2="49.30" y2="378.10" stroke="#111" stroke-width="0.9" />
<text x="44.10" y="380.15" font-size="5.8" fill="#333" stroke="#333" stroke-width="0.16" text-anchor="end" font-weight="normal" font-style="normal" letter-spacing="0.25">0</text>
<line x1="46.50" y1="360.98" x2="49.30" y2="360.98" stroke="#111" stroke-width="0.9" />
<text x="44.10" y="363.03" font-size="5.8" fill="#333" stroke="#333" stroke-width="0.16" text-anchor="end" font-weight="normal" font-style="normal" letter-spacing="0.25">20</text>
<line x1="46.50" y1="343.86" x2="49.30" y2="343.86" stroke="#111" stroke-width="0.9" />
<text x="44.10" y="345.91" font-size="5.8" fill="#333" stroke="#333" stroke-width="0.16" text-anchor="end" font-weight="normal" font-style="normal" letter-spacing="0.25">40</text>
<line x1="46.50" y1="326.74" x2="49.30" y2="326.74" stroke="#111" stroke-width="0.9" />
<text x="44.10" y="328.79" font-size="5.8" fill="#333" stroke="#333" stroke-width="0.16" text-anchor="end" font-weight="normal" font-style="normal" letter-spacing="0.25">60</text>
<line x1="46.50" y1="309.62" x2="49.30" y2="309.62" stroke="#111" stroke-width="0.9" />
<text x="44.10" y="311.67" font-size="5.8" fill="#333" stroke="#333" stroke-width="0.16" text-anchor="end" font-weight="normal" font-style="normal" letter-spacing="0.25">80</text>
<line x1="46.50" y1="292.50" x2="49.30" y2="292.50" stroke="#111" stroke-width="0.9" />
<text x="44.10" y="294.55" font-size="5.8" fill="#333" stroke="#333" stroke-width="0.16" text-anchor="end" font-weight="normal" font-style="normal" letter-spacing="0.25">100</text>
<line x1="48.20" y1="378.10" x2="49.30" y2="378.10" stroke="#111" stroke-width="0.6" />
<line x1="48.20" y1="374.68" x2="49.30" y2="374.68" stroke="#111" stroke-width="0.6" />
<line x1="48.20" y1="371.25" x2="49.30" y2="371.25" stroke="#111" stroke-width="0.6" />
<line x1="48.20" y1="367.83" x2="49.30" y2="367.83" stroke="#111" stroke-width="0.6" />
<line x1="48.20" y1="364.40" x2="49.30" y2="364.40" stroke="#111" stroke-width="0.6" />
<line x1="48.20" y1="360.98" x2="49.30" y2="360.98" stroke="#111" stroke-width="0.6" />
<line x1="48.20" y1="357.56" x2="49.30" y2="357.56" stroke="#111" stroke-width="0.6" />
<line x1="48.20" y1="354.13" x2="49.30" y2="354.13" stroke="#111" stroke-width="0.6" />
<line x1="48.20" y1="350.71" x2="49.30" y2="350.71" stroke="#111" stroke-width="0.6" />
<line x1="48.20" y1="347.28" x2="49.30" y2="347.28" stroke="#111" stroke-width="0.6" />
<line x1="48.20" y1="343.86" x2="49.30" y2="343.86" stroke="#111" stroke-width="0.6" />
<line x1="48.20" y1="340.44" x2="49.30" y2="340.44" stroke="#111" stroke-width="0.6" />
<line x1="48.20" y1="337.01" x2="49.30" y2="337.01" stroke="#111" stroke-width="0.6" />
<line x1="48.20" y1="333.59" x2="49.30" y2="333.59" stroke="#111" stroke-width="0.6" />
<line x1="48.20" y1="330.16" x2="49.30" y2="330.16" stroke="#111" stroke-width="0.6" />
<line x1="48.20" y1="326.74" x2="49.30" y2="326.74" stroke="#111" stroke-width="0.6" />
<line x1="48.20" y1="323.32" x2="49.30" y2="323.32" stroke="#111" stroke-width="0.6" />
<line x1="48.20" y1="319.89" x2="49.30" y2="319.89" stroke="#111" stroke-width="0.6" />
<line x1="48.20" y1="316.47" x2="49.30" y2="316.47" stroke="#111" stroke-width="0.6" />
<line x1="48.20" y1="313.04" x2="49.30" y2="313.04" stroke="#111" stroke-width="0.6" />
<line x1="48.20" y1="309.62" x2="49.30" y2="309.62" stroke="#111" stroke-width="0.6" />
<line x1="48.20" y1="306.20" x2="49.30" y2="306.20" stroke="#111" stroke-width="0.6" />
<line x1="48.20" y1="302.77" x2="49.30" y2="302.77" stroke="#111" stroke-width="0.6" />
<line x1="48.20" y1="299.35" x2="49.30" y2="299.35" stroke="#111" stroke-width="0.6" />
<line x1="48.20" y1="295.92" x2="49.30" y2="295.92" stroke="#111" stroke-width="0.6" />
<line x1="48.20" y1="292.50" x2="49.30" y2="292.50" stroke="#111" stroke-width="0.6" />
<line x1="49.30" y1="378.60" x2="49.30" y2="379.80" stroke="#111" stroke-width="0.5" />
<line x1="51.20" y1="378.60" x2="51.20" y2="379.80" stroke="#111" stroke-width="0.5" />
<line x1="53.10" y1="378.60" x2="53.10" y2="379.80" stroke="#111" stroke-width="0.5" />
<line x1="55.00" y1="378.60" x2="55.00" y2="379.80" stroke="#111" stroke-width="0.5" />
<line x1="56.90" y1="378.60" x2="56.90" y2="379.80" stroke="#111" stroke-width="0.5" />
<line x1="58.80" y1="378.60" x2="58.80" y2="379.80" stroke="#111" stroke-width="0.5" />
<line x1="60.70" y1="378.60" x2="60.70" y2="379.80" stroke="#111" stroke-width="0.5" />
<line x1="62.60" y1="378.60" x2="62.60" y2="379.80" stroke="#111" stroke-width="0.5" />
<line x1="64.50" y1="378.60" x2="64.50" y2="379.80" stroke="#111" stroke-width="0.5" />
<line x1="66.40" y1="378.60" x2="66.40" y2="379.80" stroke="#111" stroke-width="0.5" />
<line x1="68.30" y1="378.60" x2="68.30" y2="379.80" stroke="#111" stroke-width="0.5" />
<line x1="70.20" y1="378.60" x2="70.20" y2="379.80" stroke="#111" stroke-width="0.5" />
<line x1="72.10" y1="378.60" x2="72.10" y2="379.80" stroke="#111" stroke-width="0.5" />
<line x1="74.00" y1="378.60" x2="74.00" y2="379.80" stroke="#111" stroke-width="0.5" />
<line x1="75.90" y1="378.60" x2="75.90" y2="379.80" stroke="#111" stroke-width="0.5" />
<line x1="77.80" y1="378.60" x2="77.80" y2="379.80" stroke="#111" stroke-width="0.5" />
<line x1="79.70" y1="378.60" x2="79.70" y2="379.80" stroke="#111" stroke-width="0.5" />
<line x1="81.60" y1="378.60" x2="81.60" y2="379.80" stroke="#111" stroke-width="0.5" />
<line x1="83.50" y1="378.60" x2="83.50" y2="379.80" stroke="#111" stroke-width="0.5" />
<line x1="85.40" y1="378.60" x2="85.40" y2="379.80" stroke="#111" stroke-width="0.5" />
<line x1="87.30" y1="378.60" x2="87.30" y2="379.80" stroke="#111" stroke-width="0.5" />
<line x1="89.20" y1="378.60" x2="89.20" y2="379.80" stroke="#111" stroke-width="0.5" />
<line x1="91.10" y1="378.60" x2="91.10" y2="379.80" stroke="#111" stroke-width="0.5" />
<line x1="93.00" y1="378.60" x2="93.00" y2="379.80" stroke="#111" stroke-width="0.5" />
<line x1="94.90" y1="378.60" x2="94.90" y2="379.80" stroke="#111" stroke-width="0.5" />
<line x1="96.80" y1="378.60" x2="96.80" y2="379.80" stroke="#111" stroke-width="0.5" />
<line x1="98.70" y1="378.60" x2="98.70" y2="379.80" stroke="#111" stroke-width="0.5" />
<line x1="100.60" y1="378.60" x2="100.60" y2="379.80" stroke="#111" stroke-width="0.5" />
<line x1="102.50" y1="378.60" x2="102.50" y2="379.80" stroke="#111" stroke-width="0.5" />
<line x1="104.40" y1="378.60" x2="104.40" y2="379.80" stroke="#111" stroke-width="0.5" />
<line x1="106.30" y1="378.60" x2="106.30" y2="379.80" stroke="#111" stroke-width="0.5" />
<line x1="108.20" y1="378.60" x2="108.20" y2="379.80" stroke="#111" stroke-width="0.5" />
<line x1="110.10" y1="378.60" x2="110.10" y2="379.80" stroke="#111" stroke-width="0.5" />
<line x1="112.00" y1="378.60" x2="112.00" y2="379.80" stroke="#111" stroke-width="0.5" />
<line x1="113.90" y1="378.60" x2="113.90" y2="379.80" stroke="#111" stroke-width="0.5" />
<line x1="115.80" y1="378.60" x2="115.80" y2="379.80" stroke="#111" stroke-width="0.5" />
<line x1="117.70" y1="378.60" x2="117.70" y2="379.80" stroke="#111" stroke-width="0.5" />
<line x1="119.60" y1="378.60" x2="119.60" y2="379.80" stroke="#111" stroke-width="0.5" />
<line x1="121.50" y1="378.60" x2="121.50" y2="379.80" stroke="#111" stroke-width="0.5" />
<line x1="123.40" y1="378.60" x2="123.40" y2="379.80" stroke="#111" stroke-width="0.5" />
<line x1="125.30" y1="378.60" x2="125.30" y2="379.80" stroke="#111" stroke-width="0.5" />
<line x1="127.20" y1="378.60" x2="127.20" y2="379.80" stroke="#111" stroke-width="0.5" />
<line x1="129.10" y1="378.60" x2="129.10" y2="379.80" stroke="#111" stroke-width="0.5" />
<line x1="131.00" y1="378.60" x2="131.00" y2="379.80" stroke="#111" stroke-width="0.5" />
<line x1="132.90" y1="378.60" x2="132.90" y2="379.80" stroke="#111" stroke-width="0.5" />
<line x1="134.80" y1="378.60" x2="134.80" y2="379.80" stroke="#111" stroke-width="0.5" />
<line x1="136.70" y1="378.60" x2="136.70" y2="379.80" stroke="#111" stroke-width="0.5" />
<line x1="138.60" y1="378.60" x2="138.60" y2="379.80" stroke="#111" stroke-width="0.5" />
<line x1="58.30" y1="378.60" x2="58.30" y2="380.80" stroke="#111" stroke-width="0.7" />
<text stroke="#333" stroke-width="0.16" x="58.30" y="387.70" font-size="5.5" fill="#333" font-weight="normal" font-style="normal" text-anchor="middle" dominant-baseline="central" >50K</text>
<line x1="77.30" y1="378.60" x2="77.30" y2="380.80" stroke="#111" stroke-width="0.7" />
<text stroke="#333" stroke-width="0.16" x="77.30" y="387.70" font-size="5.5" fill="#333" font-weight="normal" font-style="normal" text-anchor="middle" dominant-baseline="central" >100K</text>
<line x1="96.40" y1="378.60" x2="96.40" y2="380.80" stroke="#111" stroke-width="0.7" />
<text stroke="#333" stroke-width="0.16" x="96.40" y="387.70" font-size="5.5" fill="#333" font-weight="normal" font-style="normal" text-anchor="middle" dominant-baseline="central" >150K</text>
<line x1="115.50" y1="378.60" x2="115.50" y2="380.80" stroke="#111" stroke-width="0.7" />
<text stroke="#333" stroke-width="0.16" x="115.50" y="387.70" font-size="5.5" fill="#333" font-weight="normal" font-style="normal" text-anchor="middle" dominant-baseline="central" >200K</text>
<line x1="134.50" y1="378.60" x2="134.50" y2="380.80" stroke="#111" stroke-width="0.7" />
<text stroke="#333" stroke-width="0.16" x="134.50" y="387.70" font-size="5.5" fill="#333" font-weight="normal" font-style="normal" text-anchor="middle" dominant-baseline="central" >250K</text>
<line x1="160.00" y1="378.10" x2="162.80" y2="378.10" stroke="#111" stroke-width="0.9" />
<text x="157.60" y="380.15" font-size="5.8" fill="#333" stroke="#333" stroke-width="0.16" text-anchor="end" font-weight="normal" font-style="normal" letter-spacing="0.25">0</text>
<line x1="160.00" y1="360.98" x2="162.80" y2="360.98" stroke="#111" stroke-width="0.9" />
<text x="157.60" y="363.03" font-size="5.8" fill="#333" stroke="#333" stroke-width="0.16" text-anchor="end" font-weight="normal" font-style="normal" letter-spacing="0.25">20</text>
<line x1="160.00" y1="343.86" x2="162.80" y2="343.86" stroke="#111" stroke-width="0.9" />
<text x="157.60" y="345.91" font-size="5.8" fill="#333" stroke="#333" stroke-width="0.16" text-anchor="end" font-weight="normal" font-style="normal" letter-spacing="0.25">40</text>
<line x1="160.00" y1="326.74" x2="162.80" y2="326.74" stroke="#111" stroke-width="0.9" />
<text x="157.60" y="328.79" font-size="5.8" fill="#333" stroke="#333" stroke-width="0.16" text-anchor="end" font-weight="normal" font-style="normal" letter-spacing="0.25">60</text>
<line x1="160.00" y1="309.62" x2="162.80" y2="309.62" stroke="#111" stroke-width="0.9" />
<text x="157.60" y="311.67" font-size="5.8" fill="#333" stroke="#333" stroke-width="0.16" text-anchor="end" font-weight="normal" font-style="normal" letter-spacing="0.25">80</text>
<line x1="160.00" y1="292.50" x2="162.80" y2="292.50" stroke="#111" stroke-width="0.9" />
<text x="157.60" y="294.55" font-size="5.8" fill="#333" stroke="#333" stroke-width="0.16" text-anchor="end" font-weight="normal" font-style="normal" letter-spacing="0.25">100</text>
<line x1="161.70" y1="378.10" x2="162.80" y2="378.10" stroke="#111" stroke-width="0.6" />
<line x1="161.70" y1="374.68" x2="162.80" y2="374.68" stroke="#111" stroke-width="0.6" />
<line x1="161.70" y1="371.25" x2="162.80" y2="371.25" stroke="#111" stroke-width="0.6" />
<line x1="161.70" y1="367.83" x2="162.80" y2="367.83" stroke="#111" stroke-width="0.6" />
<line x1="161.70" y1="364.40" x2="162.80" y2="364.40" stroke="#111" stroke-width="0.6" />
<line x1="161.70" y1="360.98" x2="162.80" y2="360.98" stroke="#111" stroke-width="0.6" />
<line x1="161.70" y1="357.56" x2="162.80" y2="357.56" stroke="#111" stroke-width="0.6" />
<line x1="161.70" y1="354.13" x2="162.80" y2="354.13" stroke="#111" stroke-width="0.6" />
<line x1="161.70" y1="350.71" x2="162.80" y2="350.71" stroke="#111" stroke-width="0.6" />
<line x1="161.70" y1="347.28" x2="162.80" y2="347.28" stroke="#111" stroke-width="0.6" />
<line x1="161.70" y1="343.86" x2="162.80" y2="343.86" stroke="#111" stroke-width="0.6" />
<line x1="161.70" y1="340.44" x2="162.80" y2="340.44" stroke="#111" stroke-width="0.6" />
<line x1="161.70" y1="337.01" x2="162.80" y2="337.01" stroke="#111" stroke-width="0.6" />
<line x1="161.70" y1="333.59" x2="162.80" y2="333.59" stroke="#111" stroke-width="0.6" />
<line x1="161.70" y1="330.16" x2="162.80" y2="330.16" stroke="#111" stroke-width="0.6" />
<line x1="161.70" y1="326.74" x2="162.80" y2="326.74" stroke="#111" stroke-width="0.6" />
<line x1="161.70" y1="323.32" x2="162.80" y2="323.32" stroke="#111" stroke-width="0.6" />
<line x1="161.70" y1="319.89" x2="162.80" y2="319.89" stroke="#111" stroke-width="0.6" />
<line x1="161.70" y1="316.47" x2="162.80" y2="316.47" stroke="#111" stroke-width="0.6" />
<line x1="161.70" y1="313.04" x2="162.80" y2="313.04" stroke="#111" stroke-width="0.6" />
<line x1="161.70" y1="309.62" x2="162.80" y2="309.62" stroke="#111" stroke-width="0.6" />
<line x1="161.70" y1="306.20" x2="162.80" y2="306.20" stroke="#111" stroke-width="0.6" />
<line x1="161.70" y1="302.77" x2="162.80" y2="302.77" stroke="#111" stroke-width="0.6" />
<line x1="161.70" y1="299.35" x2="162.80" y2="299.35" stroke="#111" stroke-width="0.6" />
<line x1="161.70" y1="295.92" x2="162.80" y2="295.92" stroke="#111" stroke-width="0.6" />
<line x1="161.70" y1="292.50" x2="162.80" y2="292.50" stroke="#111" stroke-width="0.6" />
<line x1="162.80" y1="378.60" x2="162.80" y2="379.80" stroke="#111" stroke-width="0.5" />
<line x1="164.72" y1="378.60" x2="164.72" y2="379.80" stroke="#111" stroke-width="0.5" />
<line x1="166.64" y1="378.60" x2="166.64" y2="379.80" stroke="#111" stroke-width="0.5" />
<line x1="168.56" y1="378.60" x2="168.56" y2="379.80" stroke="#111" stroke-width="0.5" />
<line x1="170.48" y1="378.60" x2="170.48" y2="379.80" stroke="#111" stroke-width="0.5" />
<line x1="172.40" y1="378.60" x2="172.40" y2="379.80" stroke="#111" stroke-width="0.5" />
<line x1="174.32" y1="378.60" x2="174.32" y2="379.80" stroke="#111" stroke-width="0.5" />
<line x1="176.24" y1="378.60" x2="176.24" y2="379.80" stroke="#111" stroke-width="0.5" />
<line x1="178.16" y1="378.60" x2="178.16" y2="379.80" stroke="#111" stroke-width="0.5" />
<line x1="180.08" y1="378.60" x2="180.08" y2="379.80" stroke="#111" stroke-width="0.5" />
<line x1="182.00" y1="378.60" x2="182.00" y2="379.80" stroke="#111" stroke-width="0.5" />
<line x1="183.92" y1="378.60" x2="183.92" y2="379.80" stroke="#111" stroke-width="0.5" />
<line x1="185.84" y1="378.60" x2="185.84" y2="379.80" stroke="#111" stroke-width="0.5" />
<line x1="187.76" y1="378.60" x2="187.76" y2="379.80" stroke="#111" stroke-width="0.5" />
<line x1="189.68" y1="378.60" x2="189.68" y2="379.80" stroke="#111" stroke-width="0.5" />
<line x1="191.60" y1="378.60" x2="191.60" y2="379.80" stroke="#111" stroke-width="0.5" />
<line x1="193.52" y1="378.60" x2="193.52" y2="379.80" stroke="#111" stroke-width="0.5" />
<line x1="195.44" y1="378.60" x2="195.44" y2="379.80" stroke="#111" stroke-width="0.5" />
<line x1="197.36" y1="378.60" x2="197.36" y2="379.80" stroke="#111" stroke-width="0.5" />
<line x1="199.28" y1="378.60" x2="199.28" y2="379.80" stroke="#111" stroke-width="0.5" />
<line x1="201.20" y1="378.60" x2="201.20" y2="379.80" stroke="#111" stroke-width="0.5" />
<line x1="203.12" y1="378.60" x2="203.12" y2="379.80" stroke="#111" stroke-width="0.5" />
<line x1="205.04" y1="378.60" x2="205.04" y2="379.80" stroke="#111" stroke-width="0.5" />
<line x1="206.96" y1="378.60" x2="206.96" y2="379.80" stroke="#111" stroke-width="0.5" />
<line x1="208.88" y1="378.60" x2="208.88" y2="379.80" stroke="#111" stroke-width="0.5" />
<line x1="210.80" y1="378.60" x2="210.80" y2="379.80" stroke="#111" stroke-width="0.5" />
<line x1="212.72" y1="378.60" x2="212.72" y2="379.80" stroke="#111" stroke-width="0.5" />
<line x1="214.64" y1="378.60" x2="214.64" y2="379.80" stroke="#111" stroke-width="0.5" />
<line x1="216.56" y1="378.60" x2="216.56" y2="379.80" stroke="#111" stroke-width="0.5" />
<line x1="218.48" y1="378.60" x2="218.48" y2="379.80" stroke="#111" stroke-width="0.5" />
<line x1="220.40" y1="378.60" x2="220.40" y2="379.80" stroke="#111" stroke-width="0.5" />
<line x1="222.32" y1="378.60" x2="222.32" y2="379.80" stroke="#111" stroke-width="0.5" />
<line x1="224.24" y1="378.60" x2="224.24" y2="379.80" stroke="#111" stroke-width="0.5" />
<line x1="226.16" y1="378.60" x2="226.16" y2="379.80" stroke="#111" stroke-width="0.5" />
<line x1="228.08" y1="378.60" x2="228.08" y2="379.80" stroke="#111" stroke-width="0.5" />
<line x1="230.00" y1="378.60" x2="230.00" y2="379.80" stroke="#111" stroke-width="0.5" />
<line x1="231.92" y1="378.60" x2="231.92" y2="379.80" stroke="#111" stroke-width="0.5" />
<line x1="233.84" y1="378.60" x2="233.84" y2="379.80" stroke="#111" stroke-width="0.5" />
<line x1="235.76" y1="378.60" x2="235.76" y2="379.80" stroke="#111" stroke-width="0.5" />
<line x1="237.68" y1="378.60" x2="237.68" y2="379.80" stroke="#111" stroke-width="0.5" />
<line x1="239.60" y1="378.60" x2="239.60" y2="379.80" stroke="#111" stroke-width="0.5" />
<line x1="241.52" y1="378.60" x2="241.52" y2="379.80" stroke="#111" stroke-width="0.5" />
<line x1="243.44" y1="378.60" x2="243.44" y2="379.80" stroke="#111" stroke-width="0.5" />
<line x1="245.36" y1="378.60" x2="245.36" y2="379.80" stroke="#111" stroke-width="0.5" />
<line x1="247.28" y1="378.60" x2="247.28" y2="379.80" stroke="#111" stroke-width="0.5" />
<line x1="249.20" y1="378.60" x2="249.20" y2="379.80" stroke="#111" stroke-width="0.5" />
<line x1="251.12" y1="378.60" x2="251.12" y2="379.80" stroke="#111" stroke-width="0.5" />
<line x1="253.04" y1="378.60" x2="253.04" y2="379.80" stroke="#111" stroke-width="0.5" />
<line x1="172.40" y1="378.60" x2="172.40" y2="380.80" stroke="#111" stroke-width="0.7" />
<text stroke="#333" stroke-width="0.16" x="172.40" y="387.70" font-size="5.5" fill="#333" font-weight="normal" font-style="normal" text-anchor="middle" dominant-baseline="central" >50K</text>
<line x1="191.60" y1="378.60" x2="191.60" y2="380.80" stroke="#111" stroke-width="0.7" />
<text stroke="#333" stroke-width="0.16" x="191.60" y="387.70" font-size="5.5" fill="#333" font-weight="normal" font-style="normal" text-anchor="middle" dominant-baseline="central" >100K</text>
<line x1="210.00" y1="378.60" x2="210.00" y2="380.80" stroke="#111" stroke-width="0.7" />
<text stroke="#333" stroke-width="0.16" x="210.00" y="387.70" font-size="5.5" fill="#333" font-weight="normal" font-style="normal" text-anchor="middle" dominant-baseline="central" >150K</text>
<line x1="229.70" y1="378.60" x2="229.70" y2="380.80" stroke="#111" stroke-width="0.7" />
<text stroke="#333" stroke-width="0.16" x="229.70" y="387.70" font-size="5.5" fill="#333" font-weight="normal" font-style="normal" text-anchor="middle" dominant-baseline="central" >200K</text>
<line x1="248.70" y1="378.60" x2="248.70" y2="380.80" stroke="#111" stroke-width="0.7" />
<text stroke="#333" stroke-width="0.16" x="248.70" y="387.70" font-size="5.5" fill="#333" font-weight="normal" font-style="normal" text-anchor="middle" dominant-baseline="central" >250K</text>
<path d="M61.90,378.10 L62.14,376.29 L62.47,376.20 L62.87,375.60 L63.30,372.64 L63.76,370.41 L64.20,368.43 L64.53,368.17 L64.88,366.71 L65.24,363.50 L65.61,364.07 L65.99,360.62 L66.36,358.85 L66.73,356.53 L67.10,354.83 L67.46,349.65 L67.82,348.98 L68.19,347.36 L68.55,346.21 L68.91,340.84 L69.27,337.12 L69.64,334.91 L70.00,333.15 L70.37,327.27 L70.75,329.12 L71.13,324.60 L71.51,323.28 L71.89,319.52 L72.25,317.71 L72.59,315.37 L72.90,308.25 L73.34,310.61 L73.73,304.54 L74.09,301.59 L74.44,302.91 L74.80,300.94 L75.16,299.22 L75.51,291.22 L75.87,298.43 L76.26,291.80 L76.70,291.22 L77.01,291.22 L77.35,296.39 L77.71,292.31 L78.09,293.55 L78.47,294.62 L78.85,297.33 L79.23,292.96 L79.60,296.78 L79.96,297.38 L80.32,300.86 L80.69,302.91 L81.05,302.93 L81.41,308.43 L81.77,310.57 L82.14,312.83 L82.50,315.88 L82.86,317.54 L83.20,319.02 L83.55,319.35 L83.89,322.29 L84.25,322.98 L84.61,326.88 L84.99,329.14 L85.40,330.82 L85.74,330.03 L86.10,330.53 L86.47,333.34 L86.85,332.29 L87.24,331.12 L87.63,335.67 L88.02,339.11 L88.42,338.43 L88.81,335.56 L89.20,336.95 L89.55,341.57 L89.89,343.34 L90.23,339.93 L90.57,343.68 L90.92,344.44 L91.26,347.74 L91.61,344.90 L91.97,345.92 L92.33,347.45 L92.71,345.00 L93.10,349.91 L93.44,346.36 L93.79,351.67 L94.15,349.39 L94.51,349.47 L94.88,352.17 L95.26,352.68 L95.63,352.24 L96.01,356.42 L96.39,352.92 L96.77,357.25 L97.15,356.57 L97.53,359.54 L97.90,358.45 L98.27,358.22 L98.63,361.13 L98.99,362.11 L99.34,361.11 L99.70,361.16 L100.06,360.63 L100.42,361.71 L100.78,364.90 L101.15,364.61 L101.52,364.43 L101.91,363.17 L102.30,366.14 L102.70,366.70 L103.03,366.78 L103.37,366.10 L103.71,365.96 L104.06,367.80 L104.41,367.55 L104.76,368.16 L105.12,369.28 L105.48,369.80 L105.85,369.64 L106.22,370.70 L106.59,371.14 L106.96,371.55 L107.34,372.46 L107.73,373.25 L108.11,372.06 L108.50,371.19 L108.83,372.75 L109.17,372.23 L109.51,372.40 L109.85,373.70 L110.20,374.22 L110.55,374.31 L110.90,375.31 L111.26,374.38 L111.61,373.49 L111.97,374.22 L112.33,374.47 L112.69,374.09 L113.05,375.86 L113.41,374.32 L113.77,373.91 L114.13,375.49 L114.49,376.77 L114.85,375.91 L115.20,375.22 L115.56,375.62 L115.94,376.60 L116.33,375.19 L116.73,376.47 L117.13,377.16 L117.54,376.79 L117.96,377.97 L118.36,375.51 L118.77,377.00 L119.17,376.82 L119.55,378.10 L119.92,377.95 L120.28,377.98 L120.62,377.91 L120.93,378.10 L121.22,377.53 L121.48,378.10 L121.71,377.94 L121.90,378.10" fill="none" stroke="#c8102e" stroke-width="1.5" stroke-linejoin="round" stroke-opacity="1.0"/>
<path d="M65.20,378.10 L65.43,378.10 L65.72,375.91 L66.06,376.43 L66.44,374.38 L66.86,373.75 L67.29,374.01 L67.73,372.59 L68.17,372.49 L68.60,370.90 L69.00,369.22 L69.35,368.80 L69.70,366.08 L70.06,366.46 L70.42,366.68 L70.77,364.10 L71.13,362.95 L71.48,361.30 L71.84,360.23 L72.20,359.14 L72.55,356.82 L72.90,357.99 L73.28,351.88 L73.66,355.46 L74.04,351.55 L74.42,349.71 L74.80,348.37 L75.18,346.29 L75.56,345.55 L75.94,343.59 L76.32,341.66 L76.70,339.64 L77.05,338.15 L77.42,334.86 L77.78,332.03 L78.15,327.91 L78.52,330.50 L78.89,326.73 L79.25,323.99 L79.61,319.88 L79.95,318.49 L80.28,311.26 L80.60,321.56 L81.01,315.84 L81.40,312.99 L81.77,311.17 L82.12,307.74 L82.46,309.45 L82.81,314.71 L83.15,308.41 L83.50,306.49 L83.90,302.00 L84.28,300.45 L84.65,298.39 L85.03,296.88 L85.42,304.25 L85.84,293.58 L86.30,295.06 L86.62,298.58 L86.96,295.19 L87.31,292.69 L87.68,291.22 L88.05,293.41 L88.43,292.11 L88.81,295.99 L89.18,292.33 L89.54,291.91 L89.88,291.22 L90.20,291.22 L90.61,291.86 L91.00,293.45 L91.36,291.22 L91.71,293.42 L92.06,292.56 L92.40,291.44 L92.74,296.11 L93.10,296.62 L93.46,296.44 L93.80,302.27 L94.15,302.40 L94.49,302.19 L94.85,305.13 L95.21,304.37 L95.59,307.53 L96.00,304.94 L96.34,308.17 L96.70,309.21 L97.07,311.86 L97.45,308.62 L97.84,307.97 L98.23,310.65 L98.62,314.07 L99.02,316.80 L99.41,317.59 L99.80,319.59 L100.15,320.22 L100.49,318.75 L100.83,321.53 L101.17,323.08 L101.52,321.88 L101.86,326.54 L102.21,328.52 L102.57,330.04 L102.93,328.08 L103.31,326.90 L103.70,331.38 L104.04,332.93 L104.39,334.92 L104.75,334.97 L105.11,333.35 L105.48,336.35 L105.86,336.60 L106.23,335.86 L106.61,338.62 L106.99,338.29 L107.37,339.29 L107.75,341.43 L108.13,342.12 L108.50,344.08 L108.87,342.75 L109.24,346.59 L109.61,344.78 L109.98,344.47 L110.35,347.57 L110.72,349.13 L111.08,350.67 L111.45,349.38 L111.82,351.40 L112.19,353.58 L112.56,350.94 L112.93,354.16 L113.30,352.98 L113.67,356.57 L114.03,355.76 L114.39,357.55 L114.75,359.32 L115.11,358.90 L115.46,358.37 L115.82,363.16 L116.19,363.76 L116.56,364.70 L116.93,364.81 L117.31,364.61 L117.70,365.84 L118.10,367.29 L118.43,366.08 L118.77,367.44 L119.11,368.31 L119.46,368.38 L119.81,369.91 L120.17,368.57 L120.53,370.25 L120.89,370.34 L121.25,369.61 L121.62,371.07 L121.98,370.92 L122.35,372.56 L122.71,372.36 L123.08,372.77 L123.44,373.16 L123.80,374.02 L124.16,373.59 L124.52,374.51 L124.88,373.76 L125.24,374.16 L125.61,375.77 L125.97,374.92 L126.33,374.96 L126.69,377.17 L127.06,376.16 L127.42,376.46 L127.78,376.53 L128.15,376.09 L128.51,377.77 L128.87,377.05 L129.24,377.67 L129.60,376.54 L129.97,377.08 L130.36,378.10 L130.77,378.00 L131.19,377.12 L131.61,377.89 L132.03,377.91 L132.45,377.36 L132.86,378.10 L133.26,378.10 L133.65,377.03 L134.02,375.74 L134.36,377.70 L134.67,378.10 L134.95,377.56 L135.20,378.10 L135.40,378.10" fill="none" stroke="#8c84c8" stroke-width="1.5" stroke-linejoin="round" stroke-opacity="1.0"/>
<path d="M174.40,378.10 L174.62,377.58 L174.90,377.05 L175.24,375.92 L175.61,374.14 L176.02,375.49 L176.44,374.61 L176.87,374.20 L177.30,372.12 L177.71,370.56 L178.10,367.06 L178.47,367.02 L178.84,365.23 L179.21,361.86 L179.58,357.22 L179.96,357.93 L180.33,357.55 L180.70,353.58 L181.07,348.74 L181.43,348.29 L181.80,344.63 L182.17,343.06 L182.54,342.76 L182.92,340.57 L183.30,333.77 L183.68,337.32 L184.04,331.60 L184.40,330.26 L184.75,325.33 L185.09,318.81 L185.40,323.48 L185.81,319.16 L186.17,318.36 L186.51,314.75 L186.84,310.36 L187.17,308.30 L187.52,307.80 L187.90,302.89 L188.22,305.99 L188.53,306.48 L188.85,308.64 L189.18,300.74 L189.52,301.57 L189.88,297.54 L190.26,300.36 L190.67,297.45 L191.10,296.74 L191.40,291.22 L191.72,298.57 L192.05,297.56 L192.40,295.00 L192.75,295.78 L193.12,294.65 L193.49,292.94 L193.86,291.22 L194.23,293.10 L194.60,295.86 L194.97,294.13 L195.32,291.22 L195.67,291.22 L196.00,291.22 L196.41,295.58 L196.81,291.58 L197.21,292.49 L197.60,297.06 L197.98,293.16 L198.36,291.67 L198.74,293.50 L199.11,296.43 L199.48,299.54 L199.84,298.16 L200.20,300.66 L200.58,294.52 L200.95,298.37 L201.31,303.30 L201.66,301.09 L202.01,302.92 L202.36,306.45 L202.72,303.53 L203.09,309.86 L203.48,310.21 L203.90,306.58 L204.21,312.72 L204.54,315.53 L204.87,311.93 L205.21,315.99 L205.56,311.42 L205.92,317.95 L206.28,315.42 L206.64,317.74 L207.00,317.61 L207.37,315.79 L207.73,321.95 L208.09,323.84 L208.45,325.80 L208.80,322.14 L209.18,323.00 L209.55,327.51 L209.93,325.74 L210.30,326.43 L210.68,329.92 L211.06,328.71 L211.43,334.66 L211.81,337.11 L212.18,333.44 L212.56,335.05 L212.94,334.66 L213.32,338.68 L213.70,339.23 L214.05,338.26 L214.41,344.69 L214.77,340.66 L215.12,343.29 L215.48,345.52 L215.84,341.60 L216.20,346.32 L216.56,346.21 L216.92,345.85 L217.28,346.05 L217.63,349.36 L217.99,349.00 L218.35,351.84 L218.70,350.69 L219.05,351.23 L219.39,350.90 L219.73,352.63 L220.07,353.00 L220.41,355.22 L220.74,355.89 L221.08,356.06 L221.42,356.77 L221.77,357.10 L222.12,357.96 L222.47,358.65 L222.84,357.71 L223.21,359.36 L223.60,362.58 L223.93,362.35 L224.26,361.20 L224.60,362.60 L224.95,363.28 L225.30,363.85 L225.66,364.34 L226.02,364.53 L226.39,366.18 L226.75,363.93 L227.12,365.13 L227.49,366.58 L227.86,368.64 L228.23,368.86 L228.60,367.32 L228.97,366.96 L229.34,368.99 L229.70,369.93 L230.06,371.19 L230.42,371.42 L230.77,369.87 L231.13,371.27 L231.48,369.90 L231.83,372.64 L232.19,371.60 L232.54,372.61 L232.90,373.51 L233.26,374.05 L233.62,374.92 L233.99,373.43 L234.36,374.16 L234.73,375.13 L235.12,374.44 L235.50,375.21 L235.90,377.06 L236.23,376.02 L236.59,376.40 L236.96,375.51 L237.34,376.94 L237.74,375.45 L238.14,376.29 L238.55,377.07 L238.96,375.86 L239.38,377.13 L239.78,377.00 L240.19,376.18 L240.58,377.02 L240.97,378.10 L241.34,376.48 L241.69,377.44 L242.02,378.10 L242.33,378.10 L242.62,378.10 L242.88,378.10 L243.11,378.10 L243.30,378.10" fill="none" stroke="#c8102e" stroke-width="1.5" stroke-linejoin="round" stroke-opacity="1.0"/>
<path d="M180.50,378.10 L180.71,377.12 L180.98,377.64 L181.30,376.65 L181.66,377.20 L182.04,376.57 L182.46,375.14 L182.89,377.44 L183.32,373.99 L183.76,372.92 L184.20,374.92 L184.51,370.79 L184.84,370.26 L185.17,371.06 L185.51,368.80 L185.86,367.84 L186.21,367.18 L186.57,364.92 L186.93,365.58 L187.29,362.94 L187.66,363.40 L188.02,364.42 L188.38,359.31 L188.74,361.29 L189.10,358.15 L189.46,358.62 L189.82,357.00 L190.19,352.87 L190.56,355.50 L190.94,350.70 L191.31,349.51 L191.68,345.72 L192.05,346.10 L192.41,346.62 L192.77,343.69 L193.12,340.24 L193.46,339.19 L193.79,339.68 L194.10,335.80 L194.52,336.61 L194.91,332.91 L195.28,334.66 L195.64,332.32 L195.98,328.79 L196.32,331.02 L196.66,323.58 L197.00,326.82 L197.34,321.18 L197.70,321.29 L198.07,320.42 L198.43,315.24 L198.80,316.49 L199.17,315.29 L199.54,311.88 L199.92,313.51 L200.29,308.94 L200.66,310.48 L201.03,303.69 L201.40,313.59 L201.77,305.77 L202.15,303.94 L202.53,306.11 L202.91,298.56 L203.29,302.96 L203.67,298.97 L204.04,299.67 L204.40,298.72 L204.76,296.51 L205.10,291.63 L205.50,295.74 L205.87,294.96 L206.21,291.85 L206.56,298.46 L206.90,297.05 L207.27,292.26 L207.66,291.50 L208.10,291.47 L208.42,297.83 L208.76,293.32 L209.12,294.63 L209.49,294.11 L209.87,298.06 L210.26,297.48 L210.65,296.56 L211.03,294.56 L211.42,300.54 L211.79,299.56 L212.15,302.32 L212.50,300.81 L212.89,303.66 L213.27,304.98 L213.62,302.53 L213.97,308.60 L214.32,304.34 L214.67,310.85 L215.02,309.34 L215.39,313.87 L215.78,310.87 L216.20,315.00 L216.51,316.83 L216.84,318.42 L217.17,313.50 L217.51,319.73 L217.86,320.51 L218.22,321.35 L218.57,322.66 L218.94,321.98 L219.30,323.07 L219.67,328.90 L220.03,328.85 L220.39,328.83 L220.75,330.48 L221.10,330.51 L221.45,332.47 L221.79,329.72 L222.13,331.31 L222.46,332.98 L222.80,336.33 L223.13,335.69 L223.47,337.74 L223.81,340.86 L224.15,340.08 L224.51,345.19 L224.86,342.64 L225.23,345.01 L225.61,343.53 L226.00,343.28 L226.33,344.75 L226.67,342.48 L227.02,346.57 L227.37,345.76 L227.73,347.68 L228.10,346.25 L228.47,347.99 L228.84,348.57 L229.21,350.26 L229.59,350.20 L229.97,351.96 L230.34,350.25 L230.72,352.48 L231.10,352.87 L231.47,354.82 L231.84,355.35 L232.20,355.52 L232.56,357.45 L232.91,356.86 L233.27,358.38 L233.61,357.35 L233.96,357.11 L234.31,359.75 L234.65,360.42 L235.00,359.71 L235.35,362.56 L235.70,362.36 L236.06,361.61 L236.41,361.79 L236.78,362.44 L237.15,365.72 L237.52,363.81 L237.91,366.43 L238.30,366.03 L238.63,365.38 L238.96,365.49 L239.30,367.58 L239.65,368.30 L240.00,371.33 L240.35,368.19 L240.71,370.53 L241.08,368.62 L241.44,369.50 L241.81,369.18 L242.18,370.73 L242.54,372.41 L242.91,371.23 L243.27,372.65 L243.64,373.52 L243.99,373.50 L244.35,374.21 L244.69,374.59 L245.04,374.52 L245.37,374.95 L245.70,375.42 L246.11,375.58 L246.52,374.48 L246.95,376.73 L247.37,374.88 L247.80,375.75 L248.23,377.94 L248.65,376.80 L249.06,376.60 L249.46,376.41 L249.85,377.28 L250.22,378.10 L250.57,378.10 L250.89,376.41 L251.19,377.17 L251.46,378.10 L251.70,378.10 L251.90,378.10" fill="none" stroke="#8c84c8" stroke-width="1.5" stroke-linejoin="round" stroke-opacity="1.0"/>
<rect x="49.30" y="288.50" width="90.30" height="90.10" fill="none" stroke="#111" stroke-width="1.1"/>
<rect x="162.80" y="288.50" width="90.80" height="90.10" fill="none" stroke="#111" stroke-width="1.1"/>
<line x1="30.10" y1="373.80" x2="30.10" y2="299.90" stroke="#111" stroke-width="1.2" />
<path d="M27.20,300.40 L30.10,299.20 L33.00,300.40 L30.10,294.40 Z" fill="#111"/>
<text x="0" y="2.43" font-size="6.8" fill="#1a1a1a" font-weight="bold" text-anchor="middle" textLength="31.4" lengthAdjust="spacingAndGlyphs" transform="translate(22.20,331.80) rotate(-90)">% Maximum</text>
<line x1="50.20" y1="394.00" x2="243.50" y2="394.00" stroke="#111" stroke-width="1.2" />
<path d="M243.00,391.10 L244.20,394.00 L243.00,396.90 L249.60,394.00 Z" fill="#111"/>
<text x="0" y="2.86" font-size="8.0" fill="#1a1a1a" font-weight="bold" text-anchor="middle" textLength="15.9" lengthAdjust="spacingAndGlyphs" transform="translate(152.20,403.00)">FSC-A</text>
<rect x="376.30" y="269.10" width="4.6" height="4.6" fill="#fff" stroke="#c8102e" stroke-width="0.8"/>
<text x="383.20" y="273.60" font-size="6.0" fill="#333" stroke="#333" stroke-width="0.16" text-anchor="start" font-weight="normal" font-style="normal" textLength="14.6" lengthAdjust="spacingAndGlyphs">Mock</text>
<rect x="404.00" y="269.10" width="4.6" height="4.6" fill="#fff" stroke="#8c84c8" stroke-width="0.8"/>
<text x="411.20" y="273.60" font-size="6.0" fill="#333" stroke="#333" stroke-width="0.16" text-anchor="start" font-weight="normal" font-style="normal" textLength="30.4" lengthAdjust="spacingAndGlyphs">Blimp-1 KO</text>
<text stroke="#111" stroke-width="0.16" x="356.00" y="286.70" font-size="8.2" fill="#111" text-anchor="middle">CD4<tspan font-size="5.08" dy="-4.0">+</tspan></text>
<text stroke="#111" stroke-width="0.16" x="462.30" y="286.70" font-size="8.2" fill="#111" text-anchor="middle">CD8<tspan font-size="5.08" dy="-4.0">+</tspan></text>
<line x1="306.70" y1="378.90" x2="309.50" y2="378.90" stroke="#111" stroke-width="0.9" />
<text x="304.30" y="380.95" font-size="5.8" fill="#333" stroke="#333" stroke-width="0.16" text-anchor="end" font-weight="normal" font-style="normal" letter-spacing="0.25">0</text>
<line x1="306.70" y1="362.20" x2="309.50" y2="362.20" stroke="#111" stroke-width="0.9" />
<text x="304.30" y="364.25" font-size="5.8" fill="#333" stroke="#333" stroke-width="0.16" text-anchor="end" font-weight="normal" font-style="normal" letter-spacing="0.25">20</text>
<line x1="306.70" y1="345.50" x2="309.50" y2="345.50" stroke="#111" stroke-width="0.9" />
<text x="304.30" y="347.55" font-size="5.8" fill="#333" stroke="#333" stroke-width="0.16" text-anchor="end" font-weight="normal" font-style="normal" letter-spacing="0.25">40</text>
<line x1="306.70" y1="328.80" x2="309.50" y2="328.80" stroke="#111" stroke-width="0.9" />
<text x="304.30" y="330.85" font-size="5.8" fill="#333" stroke="#333" stroke-width="0.16" text-anchor="end" font-weight="normal" font-style="normal" letter-spacing="0.25">60</text>
<line x1="306.70" y1="312.10" x2="309.50" y2="312.10" stroke="#111" stroke-width="0.9" />
<text x="304.30" y="314.15" font-size="5.8" fill="#333" stroke="#333" stroke-width="0.16" text-anchor="end" font-weight="normal" font-style="normal" letter-spacing="0.25">80</text>
<line x1="306.70" y1="295.40" x2="309.50" y2="295.40" stroke="#111" stroke-width="0.9" />
<text x="304.30" y="297.45" font-size="5.8" fill="#333" stroke="#333" stroke-width="0.16" text-anchor="end" font-weight="normal" font-style="normal" letter-spacing="0.25">100</text>
<line x1="308.40" y1="378.90" x2="309.50" y2="378.90" stroke="#111" stroke-width="0.6" />
<line x1="308.40" y1="375.56" x2="309.50" y2="375.56" stroke="#111" stroke-width="0.6" />
<line x1="308.40" y1="372.22" x2="309.50" y2="372.22" stroke="#111" stroke-width="0.6" />
<line x1="308.40" y1="368.88" x2="309.50" y2="368.88" stroke="#111" stroke-width="0.6" />
<line x1="308.40" y1="365.54" x2="309.50" y2="365.54" stroke="#111" stroke-width="0.6" />
<line x1="308.40" y1="362.20" x2="309.50" y2="362.20" stroke="#111" stroke-width="0.6" />
<line x1="308.40" y1="358.86" x2="309.50" y2="358.86" stroke="#111" stroke-width="0.6" />
<line x1="308.40" y1="355.52" x2="309.50" y2="355.52" stroke="#111" stroke-width="0.6" />
<line x1="308.40" y1="352.18" x2="309.50" y2="352.18" stroke="#111" stroke-width="0.6" />
<line x1="308.40" y1="348.84" x2="309.50" y2="348.84" stroke="#111" stroke-width="0.6" />
<line x1="308.40" y1="345.50" x2="309.50" y2="345.50" stroke="#111" stroke-width="0.6" />
<line x1="308.40" y1="342.16" x2="309.50" y2="342.16" stroke="#111" stroke-width="0.6" />
<line x1="308.40" y1="338.82" x2="309.50" y2="338.82" stroke="#111" stroke-width="0.6" />
<line x1="308.40" y1="335.48" x2="309.50" y2="335.48" stroke="#111" stroke-width="0.6" />
<line x1="308.40" y1="332.14" x2="309.50" y2="332.14" stroke="#111" stroke-width="0.6" />
<line x1="308.40" y1="328.80" x2="309.50" y2="328.80" stroke="#111" stroke-width="0.6" />
<line x1="308.40" y1="325.46" x2="309.50" y2="325.46" stroke="#111" stroke-width="0.6" />
<line x1="308.40" y1="322.12" x2="309.50" y2="322.12" stroke="#111" stroke-width="0.6" />
<line x1="308.40" y1="318.78" x2="309.50" y2="318.78" stroke="#111" stroke-width="0.6" />
<line x1="308.40" y1="315.44" x2="309.50" y2="315.44" stroke="#111" stroke-width="0.6" />
<line x1="308.40" y1="312.10" x2="309.50" y2="312.10" stroke="#111" stroke-width="0.6" />
<line x1="308.40" y1="308.76" x2="309.50" y2="308.76" stroke="#111" stroke-width="0.6" />
<line x1="308.40" y1="305.42" x2="309.50" y2="305.42" stroke="#111" stroke-width="0.6" />
<line x1="308.40" y1="302.08" x2="309.50" y2="302.08" stroke="#111" stroke-width="0.6" />
<line x1="308.40" y1="298.74" x2="309.50" y2="298.74" stroke="#111" stroke-width="0.6" />
<line x1="308.40" y1="295.40" x2="309.50" y2="295.40" stroke="#111" stroke-width="0.6" />
<line x1="309.50" y1="379.10" x2="309.50" y2="380.30" stroke="#111" stroke-width="0.5" />
<line x1="311.18" y1="379.10" x2="311.18" y2="380.30" stroke="#111" stroke-width="0.5" />
<line x1="312.85" y1="379.10" x2="312.85" y2="380.30" stroke="#111" stroke-width="0.5" />
<line x1="314.53" y1="379.10" x2="314.53" y2="380.30" stroke="#111" stroke-width="0.5" />
<line x1="316.20" y1="379.10" x2="316.20" y2="380.30" stroke="#111" stroke-width="0.5" />
<line x1="317.88" y1="379.10" x2="317.88" y2="380.30" stroke="#111" stroke-width="0.5" />
<line x1="319.56" y1="379.10" x2="319.56" y2="380.30" stroke="#111" stroke-width="0.5" />
<line x1="321.23" y1="379.10" x2="321.23" y2="380.30" stroke="#111" stroke-width="0.5" />
<line x1="322.91" y1="379.10" x2="322.91" y2="380.30" stroke="#111" stroke-width="0.5" />
<line x1="324.58" y1="379.10" x2="324.58" y2="380.30" stroke="#111" stroke-width="0.5" />
<line x1="326.26" y1="379.10" x2="326.26" y2="380.30" stroke="#111" stroke-width="0.5" />
<line x1="327.94" y1="379.10" x2="327.94" y2="380.30" stroke="#111" stroke-width="0.5" />
<line x1="329.61" y1="379.10" x2="329.61" y2="380.30" stroke="#111" stroke-width="0.5" />
<line x1="331.29" y1="379.10" x2="331.29" y2="380.30" stroke="#111" stroke-width="0.5" />
<line x1="332.96" y1="379.10" x2="332.96" y2="380.30" stroke="#111" stroke-width="0.5" />
<line x1="334.64" y1="379.10" x2="334.64" y2="380.30" stroke="#111" stroke-width="0.5" />
<line x1="336.32" y1="379.10" x2="336.32" y2="380.30" stroke="#111" stroke-width="0.5" />
<line x1="337.99" y1="379.10" x2="337.99" y2="380.30" stroke="#111" stroke-width="0.5" />
<line x1="339.67" y1="379.10" x2="339.67" y2="380.30" stroke="#111" stroke-width="0.5" />
<line x1="341.34" y1="379.10" x2="341.34" y2="380.30" stroke="#111" stroke-width="0.5" />
<line x1="343.02" y1="379.10" x2="343.02" y2="380.30" stroke="#111" stroke-width="0.5" />
<line x1="344.70" y1="379.10" x2="344.70" y2="380.30" stroke="#111" stroke-width="0.5" />
<line x1="346.37" y1="379.10" x2="346.37" y2="380.30" stroke="#111" stroke-width="0.5" />
<line x1="348.05" y1="379.10" x2="348.05" y2="380.30" stroke="#111" stroke-width="0.5" />
<line x1="349.72" y1="379.10" x2="349.72" y2="380.30" stroke="#111" stroke-width="0.5" />
<line x1="351.40" y1="379.10" x2="351.40" y2="380.30" stroke="#111" stroke-width="0.5" />
<line x1="353.08" y1="379.10" x2="353.08" y2="380.30" stroke="#111" stroke-width="0.5" />
<line x1="354.75" y1="379.10" x2="354.75" y2="380.30" stroke="#111" stroke-width="0.5" />
<line x1="356.43" y1="379.10" x2="356.43" y2="380.30" stroke="#111" stroke-width="0.5" />
<line x1="358.10" y1="379.10" x2="358.10" y2="380.30" stroke="#111" stroke-width="0.5" />
<line x1="359.78" y1="379.10" x2="359.78" y2="380.30" stroke="#111" stroke-width="0.5" />
<line x1="361.46" y1="379.10" x2="361.46" y2="380.30" stroke="#111" stroke-width="0.5" />
<line x1="363.13" y1="379.10" x2="363.13" y2="380.30" stroke="#111" stroke-width="0.5" />
<line x1="364.81" y1="379.10" x2="364.81" y2="380.30" stroke="#111" stroke-width="0.5" />
<line x1="366.48" y1="379.10" x2="366.48" y2="380.30" stroke="#111" stroke-width="0.5" />
<line x1="368.16" y1="379.10" x2="368.16" y2="380.30" stroke="#111" stroke-width="0.5" />
<line x1="369.84" y1="379.10" x2="369.84" y2="380.30" stroke="#111" stroke-width="0.5" />
<line x1="371.51" y1="379.10" x2="371.51" y2="380.30" stroke="#111" stroke-width="0.5" />
<line x1="373.19" y1="379.10" x2="373.19" y2="380.30" stroke="#111" stroke-width="0.5" />
<line x1="374.86" y1="379.10" x2="374.86" y2="380.30" stroke="#111" stroke-width="0.5" />
<line x1="376.54" y1="379.10" x2="376.54" y2="380.30" stroke="#111" stroke-width="0.5" />
<line x1="378.22" y1="379.10" x2="378.22" y2="380.30" stroke="#111" stroke-width="0.5" />
<line x1="379.89" y1="379.10" x2="379.89" y2="380.30" stroke="#111" stroke-width="0.5" />
<line x1="381.57" y1="379.10" x2="381.57" y2="380.30" stroke="#111" stroke-width="0.5" />
<line x1="383.24" y1="379.10" x2="383.24" y2="380.30" stroke="#111" stroke-width="0.5" />
<line x1="384.92" y1="379.10" x2="384.92" y2="380.30" stroke="#111" stroke-width="0.5" />
<line x1="386.60" y1="379.10" x2="386.60" y2="380.30" stroke="#111" stroke-width="0.5" />
<line x1="388.27" y1="379.10" x2="388.27" y2="380.30" stroke="#111" stroke-width="0.5" />
<line x1="389.95" y1="379.10" x2="389.95" y2="380.30" stroke="#111" stroke-width="0.5" />
<line x1="391.62" y1="379.10" x2="391.62" y2="380.30" stroke="#111" stroke-width="0.5" />
<line x1="393.30" y1="379.10" x2="393.30" y2="380.30" stroke="#111" stroke-width="0.5" />
<line x1="394.98" y1="379.10" x2="394.98" y2="380.30" stroke="#111" stroke-width="0.5" />
<line x1="396.65" y1="379.10" x2="396.65" y2="380.30" stroke="#111" stroke-width="0.5" />
<line x1="309.50" y1="379.20" x2="309.50" y2="381.40" stroke="#111" stroke-width="0.7" />
<text stroke="#333" stroke-width="0.16" x="0" y="0" font-size="6.0" fill="#333" text-anchor="end" transform="translate(313.30,388.20) rotate(-45)">0</text>
<line x1="326.26" y1="379.20" x2="326.26" y2="381.40" stroke="#111" stroke-width="0.7" />
<text stroke="#333" stroke-width="0.16" x="0" y="0" font-size="6.0" fill="#333" text-anchor="end" transform="translate(330.06,388.20) rotate(-45)">50K</text>
<line x1="343.02" y1="379.20" x2="343.02" y2="381.40" stroke="#111" stroke-width="0.7" />
<text stroke="#333" stroke-width="0.16" x="0" y="0" font-size="6.0" fill="#333" text-anchor="end" transform="translate(346.82,388.20) rotate(-45)">100K</text>
<line x1="359.78" y1="379.20" x2="359.78" y2="381.40" stroke="#111" stroke-width="0.7" />
<text stroke="#333" stroke-width="0.16" x="0" y="0" font-size="6.0" fill="#333" text-anchor="end" transform="translate(363.58,388.20) rotate(-45)">150K</text>
<line x1="376.54" y1="379.20" x2="376.54" y2="381.40" stroke="#111" stroke-width="0.7" />
<text stroke="#333" stroke-width="0.16" x="0" y="0" font-size="6.0" fill="#333" text-anchor="end" transform="translate(380.34,388.20) rotate(-45)">200K</text>
<line x1="393.30" y1="379.20" x2="393.30" y2="381.40" stroke="#111" stroke-width="0.7" />
<text stroke="#333" stroke-width="0.16" x="0" y="0" font-size="6.0" fill="#333" text-anchor="end" transform="translate(397.10,388.20) rotate(-45)">250K</text>
<line x1="417.80" y1="378.90" x2="420.60" y2="378.90" stroke="#111" stroke-width="0.9" />
<text x="415.40" y="380.95" font-size="5.8" fill="#333" stroke="#333" stroke-width="0.16" text-anchor="end" font-weight="normal" font-style="normal" letter-spacing="0.25">0</text>
<line x1="417.80" y1="362.20" x2="420.60" y2="362.20" stroke="#111" stroke-width="0.9" />
<text x="415.40" y="364.25" font-size="5.8" fill="#333" stroke="#333" stroke-width="0.16" text-anchor="end" font-weight="normal" font-style="normal" letter-spacing="0.25">20</text>
<line x1="417.80" y1="345.50" x2="420.60" y2="345.50" stroke="#111" stroke-width="0.9" />
<text x="415.40" y="347.55" font-size="5.8" fill="#333" stroke="#333" stroke-width="0.16" text-anchor="end" font-weight="normal" font-style="normal" letter-spacing="0.25">40</text>
<line x1="417.80" y1="328.80" x2="420.60" y2="328.80" stroke="#111" stroke-width="0.9" />
<text x="415.40" y="330.85" font-size="5.8" fill="#333" stroke="#333" stroke-width="0.16" text-anchor="end" font-weight="normal" font-style="normal" letter-spacing="0.25">60</text>
<line x1="417.80" y1="312.10" x2="420.60" y2="312.10" stroke="#111" stroke-width="0.9" />
<text x="415.40" y="314.15" font-size="5.8" fill="#333" stroke="#333" stroke-width="0.16" text-anchor="end" font-weight="normal" font-style="normal" letter-spacing="0.25">80</text>
<line x1="417.80" y1="295.40" x2="420.60" y2="295.40" stroke="#111" stroke-width="0.9" />
<text x="415.40" y="297.45" font-size="5.8" fill="#333" stroke="#333" stroke-width="0.16" text-anchor="end" font-weight="normal" font-style="normal" letter-spacing="0.25">100</text>
<line x1="419.50" y1="378.90" x2="420.60" y2="378.90" stroke="#111" stroke-width="0.6" />
<line x1="419.50" y1="375.56" x2="420.60" y2="375.56" stroke="#111" stroke-width="0.6" />
<line x1="419.50" y1="372.22" x2="420.60" y2="372.22" stroke="#111" stroke-width="0.6" />
<line x1="419.50" y1="368.88" x2="420.60" y2="368.88" stroke="#111" stroke-width="0.6" />
<line x1="419.50" y1="365.54" x2="420.60" y2="365.54" stroke="#111" stroke-width="0.6" />
<line x1="419.50" y1="362.20" x2="420.60" y2="362.20" stroke="#111" stroke-width="0.6" />
<line x1="419.50" y1="358.86" x2="420.60" y2="358.86" stroke="#111" stroke-width="0.6" />
<line x1="419.50" y1="355.52" x2="420.60" y2="355.52" stroke="#111" stroke-width="0.6" />
<line x1="419.50" y1="352.18" x2="420.60" y2="352.18" stroke="#111" stroke-width="0.6" />
<line x1="419.50" y1="348.84" x2="420.60" y2="348.84" stroke="#111" stroke-width="0.6" />
<line x1="419.50" y1="345.50" x2="420.60" y2="345.50" stroke="#111" stroke-width="0.6" />
<line x1="419.50" y1="342.16" x2="420.60" y2="342.16" stroke="#111" stroke-width="0.6" />
<line x1="419.50" y1="338.82" x2="420.60" y2="338.82" stroke="#111" stroke-width="0.6" />
<line x1="419.50" y1="335.48" x2="420.60" y2="335.48" stroke="#111" stroke-width="0.6" />
<line x1="419.50" y1="332.14" x2="420.60" y2="332.14" stroke="#111" stroke-width="0.6" />
<line x1="419.50" y1="328.80" x2="420.60" y2="328.80" stroke="#111" stroke-width="0.6" />
<line x1="419.50" y1="325.46" x2="420.60" y2="325.46" stroke="#111" stroke-width="0.6" />
<line x1="419.50" y1="322.12" x2="420.60" y2="322.12" stroke="#111" stroke-width="0.6" />
<line x1="419.50" y1="318.78" x2="420.60" y2="318.78" stroke="#111" stroke-width="0.6" />
<line x1="419.50" y1="315.44" x2="420.60" y2="315.44" stroke="#111" stroke-width="0.6" />
<line x1="419.50" y1="312.10" x2="420.60" y2="312.10" stroke="#111" stroke-width="0.6" />
<line x1="419.50" y1="308.76" x2="420.60" y2="308.76" stroke="#111" stroke-width="0.6" />
<line x1="419.50" y1="305.42" x2="420.60" y2="305.42" stroke="#111" stroke-width="0.6" />
<line x1="419.50" y1="302.08" x2="420.60" y2="302.08" stroke="#111" stroke-width="0.6" />
<line x1="419.50" y1="298.74" x2="420.60" y2="298.74" stroke="#111" stroke-width="0.6" />
<line x1="419.50" y1="295.40" x2="420.60" y2="295.40" stroke="#111" stroke-width="0.6" />
<line x1="420.60" y1="379.10" x2="420.60" y2="380.30" stroke="#111" stroke-width="0.5" />
<line x1="422.28" y1="379.10" x2="422.28" y2="380.30" stroke="#111" stroke-width="0.5" />
<line x1="423.95" y1="379.10" x2="423.95" y2="380.30" stroke="#111" stroke-width="0.5" />
<line x1="425.63" y1="379.10" x2="425.63" y2="380.30" stroke="#111" stroke-width="0.5" />
<line x1="427.30" y1="379.10" x2="427.30" y2="380.30" stroke="#111" stroke-width="0.5" />
<line x1="428.98" y1="379.10" x2="428.98" y2="380.30" stroke="#111" stroke-width="0.5" />
<line x1="430.66" y1="379.10" x2="430.66" y2="380.30" stroke="#111" stroke-width="0.5" />
<line x1="432.33" y1="379.10" x2="432.33" y2="380.30" stroke="#111" stroke-width="0.5" />
<line x1="434.01" y1="379.10" x2="434.01" y2="380.30" stroke="#111" stroke-width="0.5" />
<line x1="435.68" y1="379.10" x2="435.68" y2="380.30" stroke="#111" stroke-width="0.5" />
<line x1="437.36" y1="379.10" x2="437.36" y2="380.30" stroke="#111" stroke-width="0.5" />
<line x1="439.04" y1="379.10" x2="439.04" y2="380.30" stroke="#111" stroke-width="0.5" />
<line x1="440.71" y1="379.10" x2="440.71" y2="380.30" stroke="#111" stroke-width="0.5" />
<line x1="442.39" y1="379.10" x2="442.39" y2="380.30" stroke="#111" stroke-width="0.5" />
<line x1="444.06" y1="379.10" x2="444.06" y2="380.30" stroke="#111" stroke-width="0.5" />
<line x1="445.74" y1="379.10" x2="445.74" y2="380.30" stroke="#111" stroke-width="0.5" />
<line x1="447.42" y1="379.10" x2="447.42" y2="380.30" stroke="#111" stroke-width="0.5" />
<line x1="449.09" y1="379.10" x2="449.09" y2="380.30" stroke="#111" stroke-width="0.5" />
<line x1="450.77" y1="379.10" x2="450.77" y2="380.30" stroke="#111" stroke-width="0.5" />
<line x1="452.44" y1="379.10" x2="452.44" y2="380.30" stroke="#111" stroke-width="0.5" />
<line x1="454.12" y1="379.10" x2="454.12" y2="380.30" stroke="#111" stroke-width="0.5" />
<line x1="455.80" y1="379.10" x2="455.80" y2="380.30" stroke="#111" stroke-width="0.5" />
<line x1="457.47" y1="379.10" x2="457.47" y2="380.30" stroke="#111" stroke-width="0.5" />
<line x1="459.15" y1="379.10" x2="459.15" y2="380.30" stroke="#111" stroke-width="0.5" />
<line x1="460.82" y1="379.10" x2="460.82" y2="380.30" stroke="#111" stroke-width="0.5" />
<line x1="462.50" y1="379.10" x2="462.50" y2="380.30" stroke="#111" stroke-width="0.5" />
<line x1="464.18" y1="379.10" x2="464.18" y2="380.30" stroke="#111" stroke-width="0.5" />
<line x1="465.85" y1="379.10" x2="465.85" y2="380.30" stroke="#111" stroke-width="0.5" />
<line x1="467.53" y1="379.10" x2="467.53" y2="380.30" stroke="#111" stroke-width="0.5" />
<line x1="469.20" y1="379.10" x2="469.20" y2="380.30" stroke="#111" stroke-width="0.5" />
<line x1="470.88" y1="379.10" x2="470.88" y2="380.30" stroke="#111" stroke-width="0.5" />
<line x1="472.56" y1="379.10" x2="472.56" y2="380.30" stroke="#111" stroke-width="0.5" />
<line x1="474.23" y1="379.10" x2="474.23" y2="380.30" stroke="#111" stroke-width="0.5" />
<line x1="475.91" y1="379.10" x2="475.91" y2="380.30" stroke="#111" stroke-width="0.5" />
<line x1="477.58" y1="379.10" x2="477.58" y2="380.30" stroke="#111" stroke-width="0.5" />
<line x1="479.26" y1="379.10" x2="479.26" y2="380.30" stroke="#111" stroke-width="0.5" />
<line x1="480.94" y1="379.10" x2="480.94" y2="380.30" stroke="#111" stroke-width="0.5" />
<line x1="482.61" y1="379.10" x2="482.61" y2="380.30" stroke="#111" stroke-width="0.5" />
<line x1="484.29" y1="379.10" x2="484.29" y2="380.30" stroke="#111" stroke-width="0.5" />
<line x1="485.96" y1="379.10" x2="485.96" y2="380.30" stroke="#111" stroke-width="0.5" />
<line x1="487.64" y1="379.10" x2="487.64" y2="380.30" stroke="#111" stroke-width="0.5" />
<line x1="489.32" y1="379.10" x2="489.32" y2="380.30" stroke="#111" stroke-width="0.5" />
<line x1="490.99" y1="379.10" x2="490.99" y2="380.30" stroke="#111" stroke-width="0.5" />
<line x1="492.67" y1="379.10" x2="492.67" y2="380.30" stroke="#111" stroke-width="0.5" />
<line x1="494.34" y1="379.10" x2="494.34" y2="380.30" stroke="#111" stroke-width="0.5" />
<line x1="496.02" y1="379.10" x2="496.02" y2="380.30" stroke="#111" stroke-width="0.5" />
<line x1="497.70" y1="379.10" x2="497.70" y2="380.30" stroke="#111" stroke-width="0.5" />
<line x1="499.37" y1="379.10" x2="499.37" y2="380.30" stroke="#111" stroke-width="0.5" />
<line x1="501.05" y1="379.10" x2="501.05" y2="380.30" stroke="#111" stroke-width="0.5" />
<line x1="502.72" y1="379.10" x2="502.72" y2="380.30" stroke="#111" stroke-width="0.5" />
<line x1="504.40" y1="379.10" x2="504.40" y2="380.30" stroke="#111" stroke-width="0.5" />
<line x1="506.08" y1="379.10" x2="506.08" y2="380.30" stroke="#111" stroke-width="0.5" />
<line x1="507.75" y1="379.10" x2="507.75" y2="380.30" stroke="#111" stroke-width="0.5" />
<line x1="420.60" y1="379.20" x2="420.60" y2="381.40" stroke="#111" stroke-width="0.7" />
<text stroke="#333" stroke-width="0.16" x="0" y="0" font-size="6.0" fill="#333" text-anchor="end" transform="translate(424.40,388.20) rotate(-45)">0</text>
<line x1="437.36" y1="379.20" x2="437.36" y2="381.40" stroke="#111" stroke-width="0.7" />
<text stroke="#333" stroke-width="0.16" x="0" y="0" font-size="6.0" fill="#333" text-anchor="end" transform="translate(441.16,388.20) rotate(-45)">50K</text>
<line x1="454.12" y1="379.20" x2="454.12" y2="381.40" stroke="#111" stroke-width="0.7" />
<text stroke="#333" stroke-width="0.16" x="0" y="0" font-size="6.0" fill="#333" text-anchor="end" transform="translate(457.92,388.20) rotate(-45)">100K</text>
<line x1="470.88" y1="379.20" x2="470.88" y2="381.40" stroke="#111" stroke-width="0.7" />
<text stroke="#333" stroke-width="0.16" x="0" y="0" font-size="6.0" fill="#333" text-anchor="end" transform="translate(474.68,388.20) rotate(-45)">150K</text>
<line x1="487.64" y1="379.20" x2="487.64" y2="381.40" stroke="#111" stroke-width="0.7" />
<text stroke="#333" stroke-width="0.16" x="0" y="0" font-size="6.0" fill="#333" text-anchor="end" transform="translate(491.44,388.20) rotate(-45)">200K</text>
<line x1="504.40" y1="379.20" x2="504.40" y2="381.40" stroke="#111" stroke-width="0.7" />
<text stroke="#333" stroke-width="0.16" x="0" y="0" font-size="6.0" fill="#333" text-anchor="end" transform="translate(508.20,388.20) rotate(-45)">250K</text>
<path d="M312.40,378.90 L312.63,375.00 L312.96,369.88 L313.34,362.78 L313.75,357.03 L314.17,349.75 L314.56,342.35 L314.90,339.65 L315.38,331.10 L315.81,322.51 L316.20,317.52 L316.60,313.29 L317.01,307.78 L317.43,303.63 L317.82,299.81 L318.20,298.15 L318.63,296.19 L319.03,295.21 L319.50,295.90 L319.85,294.59 L320.23,298.30 L320.63,300.71 L321.06,303.45 L321.50,304.94 L321.83,306.19 L322.18,309.06 L322.54,313.25 L322.90,316.75 L323.27,318.23 L323.64,322.35 L324.00,324.15 L324.35,327.58 L324.69,330.24 L325.03,332.17 L325.37,333.25 L325.73,336.44 L326.10,338.13 L326.50,341.17 L326.83,342.65 L327.16,345.20 L327.51,347.14 L327.87,348.11 L328.23,349.74 L328.61,351.85 L329.00,353.87 L329.39,356.25 L329.80,357.14 L330.14,358.82 L330.50,360.02 L330.86,360.74 L331.23,362.28 L331.61,363.11 L331.99,364.17 L332.38,365.22 L332.76,365.69 L333.14,367.28 L333.52,367.61 L333.90,368.65 L334.26,369.82 L334.61,370.48 L334.95,370.81 L335.28,372.21 L335.62,372.52 L335.96,372.91 L336.32,373.53 L336.69,373.89 L337.10,374.70 L337.53,374.98 L338.00,376.21 L338.30,375.87 L338.61,376.32 L338.95,375.80 L339.30,376.36 L339.66,376.38 L340.04,376.93 L340.42,377.22 L340.81,377.36 L341.20,377.34 L341.60,376.99 L341.99,377.41 L342.37,377.53 L342.75,377.41 L343.11,378.13 L343.47,378.26 L343.81,378.33 L344.13,378.22 L344.42,377.96 L344.70,378.31 L345.23,378.58 L345.73,378.90 L346.17,378.72 L346.58,378.90 L346.95,378.90 L347.27,378.90 L347.55,378.55 L347.80,378.90 L348.00,378.90" fill="none" stroke="#c8102e" stroke-width="1.5" stroke-linejoin="round" stroke-opacity="1.0"/>
<path d="M313.30,378.90 L313.52,376.59 L313.82,373.79 L314.17,370.84 L314.56,366.48 L314.98,362.00 L315.41,357.89 L315.85,352.69 L316.29,348.64 L316.70,344.02 L317.07,340.56 L317.40,336.91 L317.85,332.44 L318.26,328.91 L318.63,325.91 L318.98,322.54 L319.30,319.05 L319.60,316.65 L319.90,314.90 L320.36,310.80 L320.75,306.12 L321.11,304.20 L321.50,301.15 L321.92,298.38 L322.35,298.31 L322.78,295.01 L323.20,295.29 L323.59,294.77 L323.95,295.88 L324.34,297.86 L324.80,297.42 L325.11,299.13 L325.45,300.47 L325.81,302.66 L326.18,306.54 L326.56,308.17 L326.93,312.16 L327.30,312.42 L327.65,314.63 L327.99,316.60 L328.33,319.70 L328.67,322.65 L329.03,324.47 L329.40,326.84 L329.80,329.68 L330.13,332.21 L330.48,333.45 L330.84,334.56 L331.21,336.57 L331.59,338.92 L331.97,340.84 L332.35,343.08 L332.73,343.15 L333.10,345.69 L333.46,347.51 L333.82,348.66 L334.17,349.71 L334.52,352.26 L334.88,352.94 L335.24,354.71 L335.61,355.83 L336.00,357.29 L336.40,358.26 L336.74,359.45 L337.08,361.40 L337.44,362.36 L337.79,363.65 L338.16,364.25 L338.53,365.81 L338.91,367.29 L339.30,367.62 L339.69,369.04 L340.09,370.15 L340.50,370.43 L340.83,371.19 L341.16,371.24 L341.50,372.58 L341.84,372.75 L342.19,373.46 L342.54,374.22 L342.89,374.44 L343.25,374.78 L343.62,374.65 L343.99,376.06 L344.36,376.41 L344.74,376.61 L345.12,377.11 L345.50,377.18 L345.85,377.31 L346.23,377.60 L346.62,377.99 L347.03,377.67 L347.45,377.75 L347.87,378.17 L348.29,378.69 L348.71,378.05 L349.12,378.52 L349.51,378.63 L349.89,378.83 L350.24,378.64 L350.56,378.34 L350.85,378.81 L351.10,378.90 L351.30,378.90" fill="none" stroke="#8c84c8" stroke-width="1.4" stroke-linejoin="round" stroke-opacity="1.0"/>
<path d="M424.30,378.90 L424.58,375.65 L424.98,370.69 L425.43,364.91 L425.89,359.87 L426.30,354.37 L426.73,347.74 L427.12,341.46 L427.50,335.24 L427.90,329.19 L428.32,323.62 L428.75,317.35 L429.18,313.61 L429.60,308.75 L430.01,303.91 L430.43,299.88 L430.82,300.40 L431.20,296.71 L431.63,295.08 L432.03,296.43 L432.50,294.88 L432.85,294.97 L433.23,298.39 L433.63,299.07 L434.06,301.94 L434.50,303.16 L434.83,304.37 L435.18,307.99 L435.54,310.31 L435.90,311.88 L436.27,316.26 L436.64,318.43 L437.00,319.33 L437.35,323.91 L437.69,325.73 L438.03,328.66 L438.37,329.78 L438.73,333.12 L439.10,335.64 L439.50,337.34 L439.83,339.09 L440.16,341.53 L440.51,342.62 L440.87,344.48 L441.23,346.70 L441.61,348.83 L442.00,350.71 L442.39,352.50 L442.80,354.32 L443.14,354.72 L443.48,356.30 L443.84,357.08 L444.19,359.05 L444.56,359.70 L444.93,362.21 L445.31,362.75 L445.70,363.71 L446.09,365.29 L446.49,365.73 L446.90,367.20 L447.23,368.21 L447.56,369.30 L447.90,369.32 L448.24,370.05 L448.59,371.50 L448.94,371.66 L449.29,372.16 L449.65,372.75 L450.02,373.25 L450.39,373.51 L450.76,374.21 L451.14,374.54 L451.52,374.93 L451.90,375.43 L452.25,375.66 L452.60,376.47 L452.97,376.46 L453.35,376.84 L453.74,376.88 L454.13,376.94 L454.52,377.83 L454.91,377.61 L455.29,378.02 L455.67,377.87 L456.05,378.14 L456.41,377.98 L456.76,378.01 L457.09,378.28 L457.40,378.44 L457.70,378.81 L458.19,378.85 L458.66,378.90 L459.11,378.90 L459.52,378.90 L459.90,378.90 L460.24,378.90 L460.54,378.84 L460.79,378.90 L461.00,378.90" fill="none" stroke="#c8102e" stroke-width="1.5" stroke-linejoin="round" stroke-opacity="1.0"/>
<path d="M425.40,378.90 L425.63,376.72 L425.93,374.14 L426.30,370.36 L426.70,365.65 L427.11,361.89 L427.52,357.76 L427.90,354.40 L428.26,350.74 L428.63,346.13 L428.99,341.50 L429.36,337.48 L429.71,333.53 L430.06,329.65 L430.40,325.85 L430.78,322.81 L431.14,318.33 L431.50,314.27 L431.84,309.62 L432.18,306.79 L432.50,304.41 L432.95,300.50 L433.38,298.87 L433.78,299.34 L434.20,296.35 L434.62,294.15 L435.04,295.39 L435.46,295.25 L435.90,295.55 L436.26,296.42 L436.62,298.44 L436.99,299.48 L437.38,303.03 L437.80,306.43 L438.13,308.88 L438.47,310.63 L438.83,313.36 L439.20,314.82 L439.57,316.77 L439.94,319.77 L440.30,322.96 L440.65,325.56 L440.99,327.92 L441.33,330.35 L441.67,332.54 L442.03,334.94 L442.40,337.36 L442.80,339.20 L443.13,339.96 L443.46,343.65 L443.81,344.36 L444.17,345.83 L444.53,347.71 L444.91,349.25 L445.30,350.53 L445.69,352.11 L446.10,353.06 L446.44,354.95 L446.78,356.08 L447.14,357.08 L447.49,358.65 L447.86,360.51 L448.23,361.69 L448.61,363.15 L449.00,363.15 L449.39,365.08 L449.79,366.28 L450.20,367.16 L450.53,368.17 L450.86,368.92 L451.20,369.44 L451.54,369.95 L451.89,371.33 L452.24,371.21 L452.59,371.33 L452.95,372.81 L453.32,373.63 L453.69,373.69 L454.06,374.21 L454.44,374.63 L454.82,375.20 L455.20,375.82 L455.55,375.94 L455.90,375.85 L456.27,376.33 L456.65,376.22 L457.04,376.77 L457.43,376.94 L457.82,377.31 L458.21,377.91 L458.59,377.51 L458.97,377.51 L459.35,378.07 L459.71,378.02 L460.06,378.54 L460.39,378.31 L460.70,378.78 L461.00,378.59 L461.49,378.31 L461.96,378.86 L462.41,378.80 L462.82,378.90 L463.20,378.90 L463.54,378.90 L463.84,378.90 L464.09,378.79 L464.30,378.90" fill="none" stroke="#8c84c8" stroke-width="1.4" stroke-linejoin="round" stroke-opacity="1.0"/>
<rect x="309.50" y="291.30" width="88.30" height="87.80" fill="none" stroke="#111" stroke-width="1.1"/>
<rect x="420.60" y="291.40" width="88.10" height="87.70" fill="none" stroke="#111" stroke-width="1.1"/>
<line x1="289.70" y1="379.60" x2="289.70" y2="305.50" stroke="#111" stroke-width="1.2" />
<path d="M286.80,306.00 L289.70,304.80 L292.60,306.00 L289.70,300.00 Z" fill="#111"/>
<text x="0" y="2.43" font-size="6.8" fill="#1a1a1a" font-weight="bold" text-anchor="middle" textLength="31.4" lengthAdjust="spacingAndGlyphs" transform="translate(282.20,336.80) rotate(-90)">% Maximum</text>
<line x1="308.00" y1="403.50" x2="501.30" y2="403.50" stroke="#111" stroke-width="1.2" />
<path d="M500.80,400.60 L502.00,403.50 L500.80,406.40 L507.40,403.50 Z" fill="#111"/>
<text x="0" y="2.86" font-size="8.0" fill="#1a1a1a" font-weight="bold" text-anchor="middle" textLength="15.3" lengthAdjust="spacingAndGlyphs" transform="translate(409.60,410.70)">SSC-A</text>
<line x1="82.50" y1="430.90" x2="82.50" y2="543.80" stroke="#111" stroke-width="1.0" />
<line x1="79.50" y1="543.80" x2="82.50" y2="543.80" stroke="#111" stroke-width="0.9" />
<text x="77.45" y="545.80" font-size="5.8" fill="#444" stroke="#444" stroke-width="0.16" text-anchor="end" font-weight="normal" font-style="normal" letter-spacing="0.25">0</text>
<line x1="79.50" y1="506.86" x2="82.50" y2="506.86" stroke="#111" stroke-width="0.9" />
<text x="77.45" y="508.86" font-size="5.8" fill="#444" stroke="#444" stroke-width="0.16" text-anchor="end" font-weight="normal" font-style="normal" letter-spacing="0.25">50</text>
<line x1="79.50" y1="469.93" x2="82.50" y2="469.93" stroke="#111" stroke-width="0.9" />
<text x="77.45" y="471.93" font-size="5.8" fill="#444" stroke="#444" stroke-width="0.16" text-anchor="end" font-weight="normal" font-style="normal" letter-spacing="0.25">100</text>
<line x1="79.50" y1="432.99" x2="82.50" y2="432.99" stroke="#111" stroke-width="0.9" />
<text x="77.45" y="434.99" font-size="5.8" fill="#444" stroke="#444" stroke-width="0.16" text-anchor="end" font-weight="normal" font-style="normal" letter-spacing="0.25">150</text>
<line x1="82.50" y1="543.80" x2="159.30" y2="543.80" stroke="#111" stroke-width="1.0" />
<rect x="94.2" y="490.32" width="22.4" height="53.48" fill="#c8102e"/>
<rect x="128.5" y="476.65" width="22.4" height="67.15" fill="#8f88c8"/>
<line x1="105.40" y1="543.80" x2="105.40" y2="546.00" stroke="#222" stroke-width="0.8" />
<line x1="139.70" y1="543.80" x2="139.70" y2="546.00" stroke="#222" stroke-width="0.8" />
<line x1="105.70" y1="470.60" x2="105.70" y2="509.30" stroke="#333" stroke-width="0.8" />
<line x1="100.80" y1="470.60" x2="111.40" y2="470.60" stroke="#333" stroke-width="0.9" />
<line x1="101.00" y1="509.30" x2="110.80" y2="509.30" stroke="#333" stroke-width="0.9" />
<line x1="139.70" y1="455.80" x2="139.70" y2="497.40" stroke="#333" stroke-width="0.8" />
<line x1="133.00" y1="455.80" x2="145.80" y2="455.80" stroke="#333" stroke-width="0.9" />
<line x1="133.30" y1="497.40" x2="146.20" y2="497.40" stroke="#333" stroke-width="0.9" />
<circle cx="105.7" cy="475.7" r="1.8" fill="#4a0a1e"/>
<circle cx="105.7" cy="482.0" r="1.8" fill="#4a0a1e"/>
<circle cx="105.7" cy="510.0" r="1.8" fill="#4a0a1e"/>
<circle cx="139.9" cy="460.4" r="1.8" fill="#3a2a3a"/>
<circle cx="139.9" cy="469.5" r="1.8" fill="#3a2a3a"/>
<circle cx="139.9" cy="499.6" r="1.6" fill="#a8a0d8" stroke="#2a2a3a" stroke-width="0.7"/>
<text stroke="#333" stroke-width="0.16" x="105.60" y="553.40" font-size="6.2" fill="#333" font-weight="normal" font-style="normal" text-anchor="middle" dominant-baseline="central" >Mock</text>
<text stroke="#333" stroke-width="0.16" x="138.90" y="553.40" font-size="6.2" fill="#333" font-weight="normal" font-style="normal" text-anchor="middle" dominant-baseline="central" textLength="30" lengthAdjust="spacingAndGlyphs">Blimp-1 KO</text>
<text x="122.40" y="448.10" font-size="6.2" fill="#333" stroke="#333" stroke-width="0.16" text-anchor="middle" font-weight="normal" font-style="normal" ><tspan font-style="italic">P</tspan> = .009</text>
<line x1="105.70" y1="448.80" x2="138.80" y2="448.80" stroke="#555" stroke-width="0.9" />
<text x="0" y="0" font-size="6.4" fill="#222" font-weight="bold" text-anchor="middle" dominant-baseline="central" textLength="72.7" lengthAdjust="spacingAndGlyphs" transform="translate(59.40,486.80) rotate(-90)">Total protein (µg/million cells)</text>
<text stroke="#111" stroke-width="0.16" x="260.00" y="437.20" font-size="8.2" fill="#111" text-anchor="middle">CD4<tspan font-size="5.08" dy="-4.0">+</tspan></text>
<text stroke="#111" stroke-width="0.16" x="373.60" y="437.00" font-size="8.2" fill="#111" text-anchor="middle">CD8<tspan font-size="5.08" dy="-4.0">+</tspan></text>
<line x1="212.90" y1="529.60" x2="215.70" y2="529.60" stroke="#111" stroke-width="0.9" />
<text x="210.50" y="531.65" font-size="5.8" fill="#333" stroke="#333" stroke-width="0.16" text-anchor="end" font-weight="normal" font-style="normal" letter-spacing="0.25">0</text>
<line x1="212.90" y1="512.90" x2="215.70" y2="512.90" stroke="#111" stroke-width="0.9" />
<text x="210.50" y="514.95" font-size="5.8" fill="#333" stroke="#333" stroke-width="0.16" text-anchor="end" font-weight="normal" font-style="normal" letter-spacing="0.25">20</text>
<line x1="212.90" y1="496.20" x2="215.70" y2="496.20" stroke="#111" stroke-width="0.9" />
<text x="210.50" y="498.25" font-size="5.8" fill="#333" stroke="#333" stroke-width="0.16" text-anchor="end" font-weight="normal" font-style="normal" letter-spacing="0.25">40</text>
<line x1="212.90" y1="479.50" x2="215.70" y2="479.50" stroke="#111" stroke-width="0.9" />
<text x="210.50" y="481.55" font-size="5.8" fill="#333" stroke="#333" stroke-width="0.16" text-anchor="end" font-weight="normal" font-style="normal" letter-spacing="0.25">60</text>
<line x1="212.90" y1="462.80" x2="215.70" y2="462.80" stroke="#111" stroke-width="0.9" />
<text x="210.50" y="464.85" font-size="5.8" fill="#333" stroke="#333" stroke-width="0.16" text-anchor="end" font-weight="normal" font-style="normal" letter-spacing="0.25">80</text>
<line x1="212.90" y1="446.10" x2="215.70" y2="446.10" stroke="#111" stroke-width="0.9" />
<text x="210.50" y="448.15" font-size="5.8" fill="#333" stroke="#333" stroke-width="0.16" text-anchor="end" font-weight="normal" font-style="normal" letter-spacing="0.25">100</text>
<line x1="214.60" y1="529.60" x2="215.70" y2="529.60" stroke="#111" stroke-width="0.6" />
<line x1="214.60" y1="526.26" x2="215.70" y2="526.26" stroke="#111" stroke-width="0.6" />
<line x1="214.60" y1="522.92" x2="215.70" y2="522.92" stroke="#111" stroke-width="0.6" />
<line x1="214.60" y1="519.58" x2="215.70" y2="519.58" stroke="#111" stroke-width="0.6" />
<line x1="214.60" y1="516.24" x2="215.70" y2="516.24" stroke="#111" stroke-width="0.6" />
<line x1="214.60" y1="512.90" x2="215.70" y2="512.90" stroke="#111" stroke-width="0.6" />
<line x1="214.60" y1="509.56" x2="215.70" y2="509.56" stroke="#111" stroke-width="0.6" />
<line x1="214.60" y1="506.22" x2="215.70" y2="506.22" stroke="#111" stroke-width="0.6" />
<line x1="214.60" y1="502.88" x2="215.70" y2="502.88" stroke="#111" stroke-width="0.6" />
<line x1="214.60" y1="499.54" x2="215.70" y2="499.54" stroke="#111" stroke-width="0.6" />
<line x1="214.60" y1="496.20" x2="215.70" y2="496.20" stroke="#111" stroke-width="0.6" />
<line x1="214.60" y1="492.86" x2="215.70" y2="492.86" stroke="#111" stroke-width="0.6" />
<line x1="214.60" y1="489.52" x2="215.70" y2="489.52" stroke="#111" stroke-width="0.6" />
<line x1="214.60" y1="486.18" x2="215.70" y2="486.18" stroke="#111" stroke-width="0.6" />
<line x1="214.60" y1="482.84" x2="215.70" y2="482.84" stroke="#111" stroke-width="0.6" />
<line x1="214.60" y1="479.50" x2="215.70" y2="479.50" stroke="#111" stroke-width="0.6" />
<line x1="214.60" y1="476.16" x2="215.70" y2="476.16" stroke="#111" stroke-width="0.6" />
<line x1="214.60" y1="472.82" x2="215.70" y2="472.82" stroke="#111" stroke-width="0.6" />
<line x1="214.60" y1="469.48" x2="215.70" y2="469.48" stroke="#111" stroke-width="0.6" />
<line x1="214.60" y1="466.14" x2="215.70" y2="466.14" stroke="#111" stroke-width="0.6" />
<line x1="214.60" y1="462.80" x2="215.70" y2="462.80" stroke="#111" stroke-width="0.6" />
<line x1="214.60" y1="459.46" x2="215.70" y2="459.46" stroke="#111" stroke-width="0.6" />
<line x1="214.60" y1="456.12" x2="215.70" y2="456.12" stroke="#111" stroke-width="0.6" />
<line x1="214.60" y1="452.78" x2="215.70" y2="452.78" stroke="#111" stroke-width="0.6" />
<line x1="214.60" y1="449.44" x2="215.70" y2="449.44" stroke="#111" stroke-width="0.6" />
<line x1="214.60" y1="446.10" x2="215.70" y2="446.10" stroke="#111" stroke-width="0.6" />
<text x="231.80" y="542.00" font-size="5.5" fill="#333" stroke="#333" stroke-width="0.16" text-anchor="middle" font-weight="normal" font-style="normal" >0</text>
<text x="253.10" y="542.00" font-size="5.5" fill="#333" stroke="#333" stroke-width="0.16" text-anchor="middle" font-weight="normal" font-style="normal" >10<tspan font-size="3.4" dy="-2.2">3</tspan></text>
<text x="273.80" y="542.00" font-size="5.5" fill="#333" stroke="#333" stroke-width="0.16" text-anchor="middle" font-weight="normal" font-style="normal" >10<tspan font-size="3.4" dy="-2.2">4</tspan></text>
<text x="294.60" y="542.00" font-size="5.5" fill="#333" stroke="#333" stroke-width="0.16" text-anchor="middle" font-weight="normal" font-style="normal" >10<tspan font-size="3.4" dy="-2.2">5</tspan></text>
<line x1="231.80" y1="530.10" x2="231.80" y2="532.30" stroke="#111" stroke-width="0.7" />
<line x1="253.10" y1="530.10" x2="253.10" y2="532.30" stroke="#111" stroke-width="0.7" />
<line x1="273.80" y1="530.10" x2="273.80" y2="532.30" stroke="#111" stroke-width="0.7" />
<line x1="294.60" y1="530.10" x2="294.60" y2="532.30" stroke="#111" stroke-width="0.7" />
<line x1="259.33" y1="530.10" x2="259.33" y2="531.40" stroke="#111" stroke-width="0.5" />
<line x1="262.98" y1="530.10" x2="262.98" y2="531.40" stroke="#111" stroke-width="0.5" />
<line x1="265.56" y1="530.10" x2="265.56" y2="531.40" stroke="#111" stroke-width="0.5" />
<line x1="267.57" y1="530.10" x2="267.57" y2="531.40" stroke="#111" stroke-width="0.5" />
<line x1="269.21" y1="530.10" x2="269.21" y2="531.40" stroke="#111" stroke-width="0.5" />
<line x1="270.59" y1="530.10" x2="270.59" y2="531.40" stroke="#111" stroke-width="0.5" />
<line x1="271.79" y1="530.10" x2="271.79" y2="531.40" stroke="#111" stroke-width="0.5" />
<line x1="272.85" y1="530.10" x2="272.85" y2="531.40" stroke="#111" stroke-width="0.5" />
<line x1="280.06" y1="530.10" x2="280.06" y2="531.40" stroke="#111" stroke-width="0.5" />
<line x1="283.72" y1="530.10" x2="283.72" y2="531.40" stroke="#111" stroke-width="0.5" />
<line x1="286.32" y1="530.10" x2="286.32" y2="531.40" stroke="#111" stroke-width="0.5" />
<line x1="288.34" y1="530.10" x2="288.34" y2="531.40" stroke="#111" stroke-width="0.5" />
<line x1="289.99" y1="530.10" x2="289.99" y2="531.40" stroke="#111" stroke-width="0.5" />
<line x1="291.38" y1="530.10" x2="291.38" y2="531.40" stroke="#111" stroke-width="0.5" />
<line x1="292.58" y1="530.10" x2="292.58" y2="531.40" stroke="#111" stroke-width="0.5" />
<line x1="293.65" y1="530.10" x2="293.65" y2="531.40" stroke="#111" stroke-width="0.5" />
<line x1="215.70" y1="530.10" x2="215.70" y2="531.30" stroke="#111" stroke-width="0.5" />
<line x1="220.38" y1="530.10" x2="220.38" y2="531.30" stroke="#111" stroke-width="0.5" />
<line x1="225.05" y1="530.10" x2="225.05" y2="531.30" stroke="#111" stroke-width="0.5" />
<line x1="229.73" y1="530.10" x2="229.73" y2="531.30" stroke="#111" stroke-width="0.5" />
<line x1="234.40" y1="530.10" x2="234.40" y2="531.30" stroke="#111" stroke-width="0.5" />
<line x1="239.08" y1="530.10" x2="239.08" y2="531.30" stroke="#111" stroke-width="0.5" />
<line x1="243.75" y1="530.10" x2="243.75" y2="531.30" stroke="#111" stroke-width="0.5" />
<line x1="248.43" y1="530.10" x2="248.43" y2="531.30" stroke="#111" stroke-width="0.5" />
<line x1="253.10" y1="530.10" x2="253.10" y2="531.30" stroke="#111" stroke-width="0.5" />
<line x1="329.80" y1="529.60" x2="332.60" y2="529.60" stroke="#111" stroke-width="0.9" />
<text x="327.40" y="531.65" font-size="5.8" fill="#333" stroke="#333" stroke-width="0.16" text-anchor="end" font-weight="normal" font-style="normal" letter-spacing="0.25">0</text>
<line x1="329.80" y1="512.90" x2="332.60" y2="512.90" stroke="#111" stroke-width="0.9" />
<text x="327.40" y="514.95" font-size="5.8" fill="#333" stroke="#333" stroke-width="0.16" text-anchor="end" font-weight="normal" font-style="normal" letter-spacing="0.25">20</text>
<line x1="329.80" y1="496.20" x2="332.60" y2="496.20" stroke="#111" stroke-width="0.9" />
<text x="327.40" y="498.25" font-size="5.8" fill="#333" stroke="#333" stroke-width="0.16" text-anchor="end" font-weight="normal" font-style="normal" letter-spacing="0.25">40</text>
<line x1="329.80" y1="479.50" x2="332.60" y2="479.50" stroke="#111" stroke-width="0.9" />
<text x="327.40" y="481.55" font-size="5.8" fill="#333" stroke="#333" stroke-width="0.16" text-anchor="end" font-weight="normal" font-style="normal" letter-spacing="0.25">60</text>
<line x1="329.80" y1="462.80" x2="332.60" y2="462.80" stroke="#111" stroke-width="0.9" />
<text x="327.40" y="464.85" font-size="5.8" fill="#333" stroke="#333" stroke-width="0.16" text-anchor="end" font-weight="normal" font-style="normal" letter-spacing="0.25">80</text>
<line x1="329.80" y1="446.10" x2="332.60" y2="446.10" stroke="#111" stroke-width="0.9" />
<text x="327.40" y="448.15" font-size="5.8" fill="#333" stroke="#333" stroke-width="0.16" text-anchor="end" font-weight="normal" font-style="normal" letter-spacing="0.25">100</text>
<line x1="331.50" y1="529.60" x2="332.60" y2="529.60" stroke="#111" stroke-width="0.6" />
<line x1="331.50" y1="526.26" x2="332.60" y2="526.26" stroke="#111" stroke-width="0.6" />
<line x1="331.50" y1="522.92" x2="332.60" y2="522.92" stroke="#111" stroke-width="0.6" />
<line x1="331.50" y1="519.58" x2="332.60" y2="519.58" stroke="#111" stroke-width="0.6" />
<line x1="331.50" y1="516.24" x2="332.60" y2="516.24" stroke="#111" stroke-width="0.6" />
<line x1="331.50" y1="512.90" x2="332.60" y2="512.90" stroke="#111" stroke-width="0.6" />
<line x1="331.50" y1="509.56" x2="332.60" y2="509.56" stroke="#111" stroke-width="0.6" />
<line x1="331.50" y1="506.22" x2="332.60" y2="506.22" stroke="#111" stroke-width="0.6" />
<line x1="331.50" y1="502.88" x2="332.60" y2="502.88" stroke="#111" stroke-width="0.6" />
<line x1="331.50" y1="499.54" x2="332.60" y2="499.54" stroke="#111" stroke-width="0.6" />
<line x1="331.50" y1="496.20" x2="332.60" y2="496.20" stroke="#111" stroke-width="0.6" />
<line x1="331.50" y1="492.86" x2="332.60" y2="492.86" stroke="#111" stroke-width="0.6" />
<line x1="331.50" y1="489.52" x2="332.60" y2="489.52" stroke="#111" stroke-width="0.6" />
<line x1="331.50" y1="486.18" x2="332.60" y2="486.18" stroke="#111" stroke-width="0.6" />
<line x1="331.50" y1="482.84" x2="332.60" y2="482.84" stroke="#111" stroke-width="0.6" />
<line x1="331.50" y1="479.50" x2="332.60" y2="479.50" stroke="#111" stroke-width="0.6" />
<line x1="331.50" y1="476.16" x2="332.60" y2="476.16" stroke="#111" stroke-width="0.6" />
<line x1="331.50" y1="472.82" x2="332.60" y2="472.82" stroke="#111" stroke-width="0.6" />
<line x1="331.50" y1="469.48" x2="332.60" y2="469.48" stroke="#111" stroke-width="0.6" />
<line x1="331.50" y1="466.14" x2="332.60" y2="466.14" stroke="#111" stroke-width="0.6" />
<line x1="331.50" y1="462.80" x2="332.60" y2="462.80" stroke="#111" stroke-width="0.6" />
<line x1="331.50" y1="459.46" x2="332.60" y2="459.46" stroke="#111" stroke-width="0.6" />
<line x1="331.50" y1="456.12" x2="332.60" y2="456.12" stroke="#111" stroke-width="0.6" />
<line x1="331.50" y1="452.78" x2="332.60" y2="452.78" stroke="#111" stroke-width="0.6" />
<line x1="331.50" y1="449.44" x2="332.60" y2="449.44" stroke="#111" stroke-width="0.6" />
<line x1="331.50" y1="446.10" x2="332.60" y2="446.10" stroke="#111" stroke-width="0.6" />
<text x="348.40" y="542.00" font-size="5.5" fill="#333" stroke="#333" stroke-width="0.16" text-anchor="middle" font-weight="normal" font-style="normal" >0</text>
<text x="368.30" y="542.00" font-size="5.5" fill="#333" stroke="#333" stroke-width="0.16" text-anchor="middle" font-weight="normal" font-style="normal" >10<tspan font-size="3.4" dy="-2.2">3</tspan></text>
<text x="390.40" y="542.00" font-size="5.5" fill="#333" stroke="#333" stroke-width="0.16" text-anchor="middle" font-weight="normal" font-style="normal" >10<tspan font-size="3.4" dy="-2.2">4</tspan></text>
<text x="412.10" y="542.00" font-size="5.5" fill="#333" stroke="#333" stroke-width="0.16" text-anchor="middle" font-weight="normal" font-style="normal" >10<tspan font-size="3.4" dy="-2.2">5</tspan></text>
<line x1="348.40" y1="530.10" x2="348.40" y2="532.30" stroke="#111" stroke-width="0.7" />
<line x1="368.30" y1="530.10" x2="368.30" y2="532.30" stroke="#111" stroke-width="0.7" />
<line x1="390.40" y1="530.10" x2="390.40" y2="532.30" stroke="#111" stroke-width="0.7" />
<line x1="412.10" y1="530.10" x2="412.10" y2="532.30" stroke="#111" stroke-width="0.7" />
<line x1="374.95" y1="530.10" x2="374.95" y2="531.40" stroke="#111" stroke-width="0.5" />
<line x1="378.84" y1="530.10" x2="378.84" y2="531.40" stroke="#111" stroke-width="0.5" />
<line x1="381.61" y1="530.10" x2="381.61" y2="531.40" stroke="#111" stroke-width="0.5" />
<line x1="383.75" y1="530.10" x2="383.75" y2="531.40" stroke="#111" stroke-width="0.5" />
<line x1="385.50" y1="530.10" x2="385.50" y2="531.40" stroke="#111" stroke-width="0.5" />
<line x1="386.98" y1="530.10" x2="386.98" y2="531.40" stroke="#111" stroke-width="0.5" />
<line x1="388.26" y1="530.10" x2="388.26" y2="531.40" stroke="#111" stroke-width="0.5" />
<line x1="389.39" y1="530.10" x2="389.39" y2="531.40" stroke="#111" stroke-width="0.5" />
<line x1="396.93" y1="530.10" x2="396.93" y2="531.40" stroke="#111" stroke-width="0.5" />
<line x1="400.75" y1="530.10" x2="400.75" y2="531.40" stroke="#111" stroke-width="0.5" />
<line x1="403.46" y1="530.10" x2="403.46" y2="531.40" stroke="#111" stroke-width="0.5" />
<line x1="405.57" y1="530.10" x2="405.57" y2="531.40" stroke="#111" stroke-width="0.5" />
<line x1="407.29" y1="530.10" x2="407.29" y2="531.40" stroke="#111" stroke-width="0.5" />
<line x1="408.74" y1="530.10" x2="408.74" y2="531.40" stroke="#111" stroke-width="0.5" />
<line x1="410.00" y1="530.10" x2="410.00" y2="531.40" stroke="#111" stroke-width="0.5" />
<line x1="411.11" y1="530.10" x2="411.11" y2="531.40" stroke="#111" stroke-width="0.5" />
<line x1="332.60" y1="530.10" x2="332.60" y2="531.30" stroke="#111" stroke-width="0.5" />
<line x1="337.06" y1="530.10" x2="337.06" y2="531.30" stroke="#111" stroke-width="0.5" />
<line x1="341.52" y1="530.10" x2="341.52" y2="531.30" stroke="#111" stroke-width="0.5" />
<line x1="345.99" y1="530.10" x2="345.99" y2="531.30" stroke="#111" stroke-width="0.5" />
<line x1="350.45" y1="530.10" x2="350.45" y2="531.30" stroke="#111" stroke-width="0.5" />
<line x1="354.91" y1="530.10" x2="354.91" y2="531.30" stroke="#111" stroke-width="0.5" />
<line x1="359.37" y1="530.10" x2="359.37" y2="531.30" stroke="#111" stroke-width="0.5" />
<line x1="363.84" y1="530.10" x2="363.84" y2="531.30" stroke="#111" stroke-width="0.5" />
<line x1="368.30" y1="530.10" x2="368.30" y2="531.30" stroke="#111" stroke-width="0.5" />
<path d="M232.00,529.60 L232.22,529.60 L232.50,529.60 L232.84,529.60 L233.24,529.60 L233.69,529.44 L234.20,528.95 L234.48,528.19 L234.79,527.67 L235.13,527.41 L235.49,526.73 L235.85,526.32 L236.23,525.52 L236.61,524.85 L236.99,523.54 L237.37,522.89 L237.73,522.07 L238.08,521.64 L238.40,520.32 L238.81,519.35 L239.19,518.25 L239.56,516.92 L239.92,515.24 L240.28,514.29 L240.63,512.08 L240.98,511.13 L241.33,508.70 L241.70,506.93 L242.08,505.09 L242.47,501.95 L242.86,499.40 L243.25,496.84 L243.65,494.16 L244.03,489.93 L244.40,487.50 L244.76,484.13 L245.10,481.85 L245.51,479.26 L245.89,474.96 L246.26,472.34 L246.60,469.03 L246.94,465.47 L247.27,463.95 L247.60,461.06 L248.05,456.08 L248.47,453.15 L248.89,449.78 L249.29,446.74 L249.70,445.65 L250.11,446.42 L250.52,448.88 L250.93,452.44 L251.32,456.65 L251.70,460.27 L252.13,465.90 L252.52,469.23 L252.93,475.82 L253.40,481.22 L253.71,485.88 L254.03,488.91 L254.37,492.93 L254.72,496.50 L255.10,500.62 L255.49,504.09 L255.90,506.83 L256.24,509.50 L256.61,511.61 L257.00,513.52 L257.40,515.54 L257.80,517.35 L258.20,519.12 L258.59,521.33 L258.96,522.25 L259.30,523.80 L259.73,525.37 L260.15,526.05 L260.57,527.26 L260.95,528.30 L261.29,528.39 L261.58,529.51 L261.80,529.60 Z" fill="#bdbdbd" stroke="none" fill-opacity="1.0"/>
<path d="M236.00,529.60 L236.21,529.60 L236.47,529.60 L236.77,529.60 L237.11,529.60 L237.49,529.60 L237.88,529.60 L238.30,529.60 L238.72,529.60 L239.15,529.60 L239.58,529.36 L240.00,528.73 L240.33,528.10 L240.69,527.75 L241.05,526.87 L241.43,525.53 L241.81,525.67 L242.20,524.99 L242.59,524.00 L242.98,523.63 L243.37,521.39 L243.74,521.05 L244.11,519.19 L244.46,518.11 L244.79,516.64 L245.10,515.84 L245.55,513.99 L245.97,510.80 L246.36,509.10 L246.73,505.95 L247.09,504.09 L247.43,500.76 L247.76,499.09 L248.08,497.41 L248.40,492.30 L248.81,490.99 L249.20,485.70 L249.57,482.93 L249.93,481.48 L250.27,476.49 L250.59,471.14 L250.90,470.06 L251.38,465.01 L251.81,461.37 L252.20,457.77 L252.60,452.82 L252.98,451.59 L253.34,448.61 L253.73,448.15 L254.20,447.07 L254.52,444.85 L254.87,446.74 L255.25,444.85 L255.64,447.20 L256.04,448.31 L256.43,448.31 L256.80,448.87 L257.16,452.34 L257.52,452.25 L257.88,454.77 L258.23,459.63 L258.59,460.31 L258.94,460.87 L259.30,462.61 L259.66,463.55 L260.01,465.42 L260.37,467.84 L260.73,468.64 L261.09,467.59 L261.44,470.37 L261.80,474.45 L262.15,476.72 L262.49,477.11 L262.83,480.61 L263.17,482.24 L263.53,485.91 L263.90,487.40 L264.30,491.24 L264.63,491.23 L264.98,493.83 L265.34,495.62 L265.71,498.28 L266.08,499.77 L266.46,501.98 L266.84,503.88 L267.22,504.56 L267.60,507.67 L267.97,510.01 L268.35,511.78 L268.73,512.79 L269.11,513.40 L269.49,515.54 L269.87,516.61 L270.25,518.25 L270.63,518.71 L271.00,520.78 L271.38,522.43 L271.77,523.51 L272.17,524.43 L272.56,524.49 L272.95,526.10 L273.32,526.43 L273.68,527.38 L274.00,528.65 L274.30,528.05 L274.88,528.93 L275.36,529.60 L275.73,529.60 L276.00,529.60" fill="none" stroke="#c0001a" stroke-width="1.6" stroke-linejoin="round" stroke-opacity="1.0"/>
<path d="M242.00,529.60 L242.23,529.60 L242.53,529.60 L242.89,529.60 L243.29,529.60 L243.73,529.60 L244.18,529.60 L244.64,529.60 L245.10,529.10 L245.44,528.17 L245.81,526.87 L246.19,525.81 L246.58,524.78 L246.99,523.47 L247.39,521.33 L247.78,520.94 L248.17,519.69 L248.54,517.35 L248.88,515.35 L249.20,514.47 L249.64,510.22 L250.03,508.67 L250.38,503.60 L250.71,500.70 L251.03,497.72 L251.36,493.98 L251.70,490.31 L252.06,488.15 L252.44,483.28 L252.81,479.59 L253.18,473.97 L253.54,473.62 L253.88,465.82 L254.20,463.50 L254.67,462.51 L255.07,455.75 L255.47,453.18 L255.90,450.75 L256.29,453.11 L256.71,451.18 L257.14,453.41 L257.57,450.00 L258.00,449.55 L258.35,450.30 L258.69,451.68 L259.02,448.00 L259.37,447.73 L259.73,447.18 L260.10,450.64 L260.44,448.16 L260.79,450.47 L261.14,451.08 L261.51,450.53 L261.87,449.98 L262.24,453.97 L262.60,452.29 L262.96,453.40 L263.31,459.23 L263.67,457.10 L264.03,460.78 L264.39,461.86 L264.74,465.93 L265.10,469.36 L265.46,469.09 L265.81,471.42 L266.17,474.51 L266.53,476.57 L266.89,479.32 L267.24,480.89 L267.60,483.90 L267.96,487.83 L268.31,489.60 L268.67,493.04 L269.03,493.81 L269.39,496.45 L269.74,499.16 L270.10,502.48 L270.46,504.17 L270.81,506.75 L271.17,508.01 L271.53,511.81 L271.89,513.99 L272.24,516.96 L272.60,518.92 L272.96,519.89 L273.33,522.02 L273.70,524.31 L274.07,524.90 L274.43,527.18 L274.77,527.80 L275.10,529.32 L275.55,529.60 L275.99,529.60 L276.41,529.60 L276.75,529.60 L277.00,529.60" fill="none" stroke="#958ed0" stroke-width="1.1" stroke-linejoin="round" stroke-opacity="1.0"/>
<path d="M349.00,529.60 L349.22,529.59 L349.51,529.60 L349.89,529.44 L350.38,529.40 L351.00,528.91 L351.27,528.32 L351.57,528.17 L351.89,527.98 L352.24,527.41 L352.61,527.26 L352.99,526.60 L353.38,526.21 L353.78,526.03 L354.17,525.37 L354.56,525.00 L354.95,524.60 L355.32,524.24 L355.67,522.95 L356.00,522.32 L356.40,521.01 L356.79,519.21 L357.18,517.91 L357.56,516.60 L357.93,514.56 L358.28,513.00 L358.63,510.42 L358.97,508.84 L359.29,507.39 L359.60,505.45 L359.90,503.34 L360.34,500.81 L360.74,498.28 L361.11,494.67 L361.45,492.25 L361.78,489.33 L362.09,486.69 L362.40,483.34 L362.79,479.38 L363.13,476.65 L363.46,472.78 L363.80,469.41 L364.20,466.25 L364.53,462.97 L364.90,459.68 L365.29,457.35 L365.69,452.08 L366.08,450.66 L366.45,447.12 L366.80,445.96 L367.24,445.47 L367.64,446.18 L368.03,446.57 L368.41,449.70 L368.80,453.13 L369.20,457.94 L369.61,464.18 L370.01,471.68 L370.41,477.01 L370.80,483.27 L371.17,489.56 L371.53,494.38 L371.89,499.24 L372.24,504.26 L372.60,508.62 L372.96,512.65 L373.31,516.35 L373.67,519.43 L374.03,522.28 L374.40,524.53 L374.82,526.69 L375.28,527.63 L375.73,528.77 L376.12,529.01 L376.40,529.60 Z" fill="#bdbdbd" stroke="none" fill-opacity="1.0"/>
<path d="M351.00,529.60 L351.21,528.83 L351.49,529.15 L351.81,529.45 L352.18,528.96 L352.57,528.86 L352.98,528.58 L353.41,528.87 L353.83,527.64 L354.24,527.70 L354.64,528.13 L355.00,526.69 L355.38,527.21 L355.74,527.03 L356.10,526.75 L356.46,526.05 L356.81,525.98 L357.16,525.59 L357.52,524.82 L357.87,523.58 L358.23,522.52 L358.60,521.59 L358.98,520.99 L359.37,519.80 L359.76,516.76 L360.16,515.61 L360.56,513.76 L360.96,512.38 L361.34,509.39 L361.71,508.20 L362.07,505.09 L362.40,504.26 L362.84,500.33 L363.25,497.69 L363.64,495.84 L364.00,490.53 L364.35,487.56 L364.68,486.69 L365.00,484.39 L365.42,480.12 L365.79,477.14 L366.14,472.26 L366.47,470.97 L366.80,468.42 L367.16,461.44 L367.48,456.41 L367.83,452.75 L368.30,451.78 L368.61,448.81 L368.96,450.42 L369.35,445.96 L369.76,444.85 L370.17,447.30 L370.57,446.05 L370.95,444.85 L371.30,444.85 L371.70,446.49 L372.07,446.54 L372.41,445.54 L372.74,451.11 L373.10,446.46 L373.50,448.22 L373.83,449.62 L374.18,449.08 L374.55,449.16 L374.92,453.56 L375.30,454.04 L375.68,452.93 L376.05,458.01 L376.40,457.28 L376.79,460.56 L377.18,464.38 L377.57,468.06 L377.94,471.62 L378.31,476.40 L378.66,480.83 L379.00,482.03 L379.42,488.47 L379.79,490.44 L380.15,491.00 L380.54,492.42 L381.00,496.78 L381.34,497.15 L381.70,501.25 L382.09,504.10 L382.49,506.06 L382.90,507.84 L383.31,510.78 L383.71,513.37 L384.10,515.51 L384.48,515.31 L384.86,517.70 L385.23,520.01 L385.61,519.90 L385.97,521.34 L386.33,522.24 L386.67,523.42 L387.00,523.75 L387.37,524.92 L387.68,526.10 L387.96,525.81 L388.28,526.29 L388.67,527.31 L389.20,527.38 L389.49,527.19 L389.82,526.83 L390.19,527.92 L390.59,528.20 L391.02,527.92 L391.45,528.51 L391.89,528.09 L392.32,528.74 L392.74,529.60 L393.13,528.53 L393.49,528.57 L393.81,529.56 L394.09,529.01 L394.30,529.60" fill="none" stroke="#c0001a" stroke-width="1.6" stroke-linejoin="round" stroke-opacity="1.0"/>
<path d="M360.00,529.60 L360.24,529.44 L360.57,529.60 L360.96,529.60 L361.41,529.60 L361.89,529.45 L362.40,528.32 L362.72,528.27 L363.07,529.03 L363.44,527.42 L363.82,527.02 L364.21,527.42 L364.61,525.68 L365.02,524.99 L365.42,524.90 L365.81,523.37 L366.20,522.35 L366.59,520.19 L366.99,518.69 L367.39,517.63 L367.80,515.50 L368.21,513.89 L368.60,510.87 L368.98,509.55 L369.35,506.95 L369.69,505.22 L370.00,504.67 L370.45,501.31 L370.84,498.27 L371.18,493.95 L371.49,490.87 L371.79,487.96 L372.10,485.04 L372.47,479.63 L372.81,477.18 L373.14,473.37 L373.50,469.15 L373.90,464.86 L374.21,462.99 L374.52,461.18 L374.85,457.99 L375.19,456.57 L375.56,453.63 L375.96,452.96 L376.40,448.22 L376.71,447.32 L377.04,448.35 L377.40,445.99 L377.77,444.85 L378.16,444.85 L378.54,444.85 L378.93,448.01 L379.30,444.85 L379.66,444.85 L379.99,446.08 L380.30,445.01 L380.73,448.86 L381.11,448.21 L381.46,450.27 L381.80,450.88 L382.12,453.38 L382.45,455.87 L382.80,459.50 L383.17,463.44 L383.54,464.61 L383.91,467.39 L384.29,469.82 L384.66,476.39 L385.03,480.60 L385.40,483.97 L385.76,487.25 L386.12,492.54 L386.48,494.74 L386.83,498.55 L387.19,501.14 L387.54,505.23 L387.90,508.89 L388.24,511.86 L388.57,513.35 L388.90,517.27 L389.23,518.34 L389.58,520.88 L389.97,523.07 L390.40,524.25 L390.72,524.94 L391.08,525.65 L391.47,526.82 L391.88,527.51 L392.30,528.07 L392.71,528.11 L393.11,528.08 L393.48,528.04 L393.81,529.40 L394.09,529.60 L394.30,529.60" fill="none" stroke="#958ed0" stroke-width="1.1" stroke-linejoin="round" stroke-opacity="1.0"/>
<rect x="215.70" y="442.30" width="88.50" height="87.80" fill="none" stroke="#111" stroke-width="1.1"/>
<rect x="332.60" y="442.20" width="88.70" height="88.00" fill="none" stroke="#111" stroke-width="1.1"/>
<line x1="194.80" y1="529.60" x2="194.80" y2="448.50" stroke="#111" stroke-width="1.2" />
<path d="M191.90,449.00 L194.80,447.80 L197.70,449.00 L194.80,443.00 Z" fill="#111"/>
<text x="0" y="2.43" font-size="6.8" fill="#1a1a1a" font-weight="bold" text-anchor="middle" textLength="31.0" lengthAdjust="spacingAndGlyphs" transform="translate(187.20,486.00) rotate(-90)">% Maximum</text>
<line x1="215.70" y1="548.10" x2="415.50" y2="548.10" stroke="#111" stroke-width="1.2" />
<path d="M415.00,545.20 L416.20,548.10 L415.00,551.00 L421.60,548.10 Z" fill="#111"/>
<text x="0" y="2.86" font-size="8.0" fill="#1a1a1a" font-weight="bold" text-anchor="middle" textLength="10.1" lengthAdjust="spacingAndGlyphs" transform="translate(317.00,557.60)">OPP</text>
<rect x="442.0" y="468.9" width="4.6" height="4.6" fill="#bdbdbd" stroke="#999" stroke-width="0.5"/>
<rect x="442.0" y="477.6" width="4.6" height="4.6" fill="#fff" stroke="#c8102e" stroke-width="0.8"/>
<rect x="442.0" y="486.7" width="4.6" height="4.6" fill="#fff" stroke="#8c84c8" stroke-width="0.8"/>
<text x="449.30" y="473.30" font-size="6.0" fill="#333" stroke="#333" stroke-width="0.16" text-anchor="start" font-weight="normal" font-style="normal" textLength="41.9" lengthAdjust="spacingAndGlyphs">Control (+CHX)</text>
<text x="449.30" y="482.00" font-size="6.0" fill="#333" stroke="#333" stroke-width="0.16" text-anchor="start" font-weight="normal" font-style="normal" textLength="14.6" lengthAdjust="spacingAndGlyphs">Mock</text>
<text x="449.30" y="491.10" font-size="6.0" fill="#333" stroke="#333" stroke-width="0.16" text-anchor="start" font-weight="normal" font-style="normal" textLength="30.4" lengthAdjust="spacingAndGlyphs">Blimp-1 KO</text>
<rect x="0.5" y="0.5" width="519" height="568" fill="none" stroke="#5a5a5a" stroke-width="1"/>
</svg>
</body></html>
